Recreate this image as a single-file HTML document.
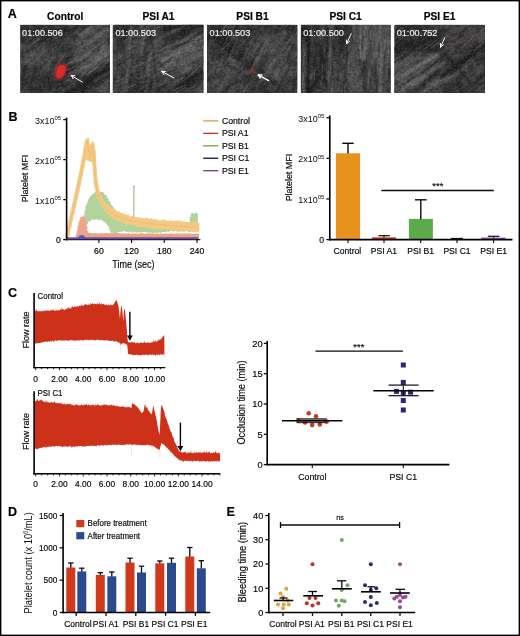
<!DOCTYPE html>
<html lang="en"><head><meta charset="utf-8"><title>Figure</title>
<style>
html,body{margin:0;padding:0;background:#fff;overflow:hidden}
svg{display:block}
#fig{width:520px;height:636px;overflow:hidden}
text{font-family:"Liberation Sans",sans-serif}
</style></head><body>
<div id="fig">
<svg width="520" height="636" viewBox="0 0 520 636">
<rect x="0" y="0" width="520" height="636" fill="#fff"/>
<text transform="translate(7.80,18.30)" font-size="12.5" text-anchor="start" font-weight="bold" fill="#000" stroke="#000" stroke-width="0.18" >A</text>
<defs>
<filter id="nzf" x="0" y="0" width="100%" height="100%" color-interpolation-filters="sRGB">
<feTurbulence type="fractalNoise" baseFrequency="0.5" numOctaves="2" seed="5"/>
<feColorMatrix type="matrix" values="0 0 0 0 0  0 0 0 0 0  0 0 0 0 0  1.8 0 0 0 -0.62"/>
<feComposite in="SourceGraphic" operator="in"/>
</filter>
<filter id="nzd" x="0" y="0" width="100%" height="100%" color-interpolation-filters="sRGB">
<feTurbulence type="fractalNoise" baseFrequency="0.42" numOctaves="2" seed="17"/>
<feColorMatrix type="matrix" values="0 0 0 0 0  0 0 0 0 0  0 0 0 0 0  1.8 0 0 0 -0.62"/>
<feComposite in="SourceGraphic" operator="in"/>
</filter>
<filter id="b05" x="-10%" y="-10%" width="120%" height="120%"><feGaussianBlur stdDeviation="1.0"/></filter>
<filter id="nzm" x="0" y="0" width="100%" height="100%" color-interpolation-filters="sRGB">
<feTurbulence type="fractalNoise" baseFrequency="0.17" numOctaves="3" seed="23"/>
<feColorMatrix type="matrix" values="0 0 0 0 0  0 0 0 0 0  0 0 0 0 0  2.6 0 0 0 -1.0"/>
<feComposite in="SourceGraphic" operator="in"/>
</filter>
<filter id="nzn" x="0" y="0" width="100%" height="100%" color-interpolation-filters="sRGB">
<feTurbulence type="fractalNoise" baseFrequency="0.15" numOctaves="3" seed="41"/>
<feColorMatrix type="matrix" values="0 0 0 0 0  0 0 0 0 0  0 0 0 0 0  2.6 0 0 0 -1.0"/>
<feComposite in="SourceGraphic" operator="in"/>
</filter>
<filter id="b03" x="-20%" y="-20%" width="140%" height="140%"><feGaussianBlur stdDeviation="0.5"/></filter>
<filter id="bl" x="-30%" y="-30%" width="160%" height="160%"><feGaussianBlur stdDeviation="1.0"/></filter>
<filter id="bl2" x="-20%" y="-20%" width="140%" height="140%"><feGaussianBlur stdDeviation="2.6"/></filter>
</defs>
<text transform="translate(65.20,19.60)" font-size="10.2" text-anchor="middle" font-weight="bold" fill="#000" stroke="#000" stroke-width="0.18" >Control</text>
<clipPath id="cl0"><rect x="20.2" y="24.8" width="89.80" height="68.20"/></clipPath>
<g clip-path="url(#cl0)">
<rect x="20.20" y="24.80" width="89.80" height="68.20" fill="#3a3a3a" />
<g filter="url(#bl2)"><polygon points="75.9,33.0 110.0,24.8 110.0,62.3 84.9,78.0 74.1,62.3" fill="#585858" /><polygon points="20.2,50.7 51.6,43.9 56.1,58.9 20.2,67.1" fill="#4a4a4a" /><polygon points="20.2,24.8 74.1,24.8 69.6,37.1 20.2,41.9" fill="#2c2c2c" /><polygon points="66.9,93.0 110.0,67.1 110.0,75.3 83.1,93.0" fill="#1e1e1e" /><polygon points="92.0,93.0 110.0,79.4 110.0,93.0" fill="#555" /><polygon points="20.2,78.0 65.1,79.4 65.1,93.0 20.2,93.0" fill="#303030" /><polygon points="52.5,58.9 72.3,58.9 72.3,82.8 52.5,82.8" fill="#2e2e2e" /></g>
<rect x="20.20" y="24.80" width="89.80" height="68.20" fill="#8a8a8a" filter="url(#nzm)" opacity="0.20"/>
<rect x="20.20" y="24.80" width="89.80" height="68.20" fill="#000" filter="url(#nzn)" opacity="0.28"/>
<g filter="url(#b05)"><line x1="85.0" y1="73.2" x2="110.2" y2="59.1" stroke="#6a6a6a" stroke-width="2.3" opacity="0.68" stroke-linecap="round"/><line x1="99.7" y1="45.5" x2="109.2" y2="36.4" stroke="#868686" stroke-width="0.9" opacity="0.55" stroke-linecap="round"/><line x1="89.4" y1="34.0" x2="101.3" y2="23.8" stroke="#787878" stroke-width="1.8" opacity="0.65" stroke-linecap="round"/><line x1="67.7" y1="63.5" x2="77.9" y2="56.1" stroke="#787878" stroke-width="1.4" opacity="0.65" stroke-linecap="round"/><line x1="106.6" y1="42.1" x2="118.8" y2="31.3" stroke="#787878" stroke-width="1.4" opacity="0.39" stroke-linecap="round"/><line x1="105.1" y1="42.1" x2="121.0" y2="34.5" stroke="#787878" stroke-width="0.7" opacity="0.72" stroke-linecap="round"/><line x1="71.9" y1="50.4" x2="91.0" y2="40.0" stroke="#5c5c5c" stroke-width="2.0" opacity="0.34" stroke-linecap="round"/><line x1="79.7" y1="47.4" x2="91.4" y2="40.3" stroke="#6a6a6a" stroke-width="1.0" opacity="0.42" stroke-linecap="round"/><line x1="104.6" y1="82.3" x2="118.9" y2="71.2" stroke="#5c5c5c" stroke-width="1.4" opacity="0.48" stroke-linecap="round"/><line x1="97.7" y1="57.1" x2="117.0" y2="45.6" stroke="#787878" stroke-width="1.4" opacity="0.72" stroke-linecap="round"/><line x1="103.8" y1="52.1" x2="120.0" y2="39.5" stroke="#5c5c5c" stroke-width="1.2" opacity="0.69" stroke-linecap="round"/><line x1="65.1" y1="82.3" x2="77.4" y2="70.8" stroke="#5c5c5c" stroke-width="1.1" opacity="0.43" stroke-linecap="round"/><line x1="94.2" y1="37.1" x2="108.0" y2="28.7" stroke="#787878" stroke-width="2.4" opacity="0.63" stroke-linecap="round"/><line x1="78.5" y1="55.9" x2="88.5" y2="50.0" stroke="#6a6a6a" stroke-width="1.4" opacity="0.42" stroke-linecap="round"/><line x1="88.8" y1="75.9" x2="103.7" y2="65.1" stroke="#6a6a6a" stroke-width="1.1" opacity="0.66" stroke-linecap="round"/><line x1="75.0" y1="43.4" x2="94.2" y2="34.2" stroke="#6a6a6a" stroke-width="0.9" opacity="0.39" stroke-linecap="round"/><line x1="81.2" y1="35.0" x2="91.5" y2="27.4" stroke="#787878" stroke-width="2.6" opacity="0.74" stroke-linecap="round"/><line x1="81.5" y1="58.1" x2="98.4" y2="48.2" stroke="#787878" stroke-width="1.1" opacity="0.36" stroke-linecap="round"/><line x1="95.7" y1="64.9" x2="117.3" y2="45.9" stroke="#6a6a6a" stroke-width="1.3" opacity="0.53" stroke-linecap="round"/><line x1="88.1" y1="59.5" x2="97.3" y2="53.0" stroke="#6a6a6a" stroke-width="1.7" opacity="0.64" stroke-linecap="round"/><line x1="78.3" y1="70.5" x2="93.5" y2="58.0" stroke="#5c5c5c" stroke-width="2.3" opacity="0.73" stroke-linecap="round"/><line x1="76.3" y1="41.9" x2="93.5" y2="32.8" stroke="#5c5c5c" stroke-width="1.6" opacity="0.52" stroke-linecap="round"/><line x1="98.8" y1="65.4" x2="113.7" y2="57.2" stroke="#868686" stroke-width="2.1" opacity="0.47" stroke-linecap="round"/><line x1="94.8" y1="80.4" x2="120.1" y2="65.1" stroke="#787878" stroke-width="2.6" opacity="0.54" stroke-linecap="round"/><line x1="68.3" y1="75.3" x2="85.8" y2="66.7" stroke="#868686" stroke-width="2.2" opacity="0.39" stroke-linecap="round"/><line x1="96.8" y1="62.8" x2="112.5" y2="53.1" stroke="#5c5c5c" stroke-width="2.1" opacity="0.63" stroke-linecap="round"/><line x1="61.5" y1="43.2" x2="80.1" y2="29.6" stroke="#787878" stroke-width="1.4" opacity="0.59" stroke-linecap="round"/><line x1="67.3" y1="55.9" x2="75.7" y2="48.7" stroke="#787878" stroke-width="0.9" opacity="0.52" stroke-linecap="round"/><line x1="85.0" y1="56.6" x2="103.4" y2="42.3" stroke="#787878" stroke-width="0.6" opacity="0.63" stroke-linecap="round"/><line x1="74.2" y1="52.1" x2="98.6" y2="40.2" stroke="#5c5c5c" stroke-width="2.5" opacity="0.73" stroke-linecap="round"/><line x1="86.4" y1="50.0" x2="102.1" y2="37.2" stroke="#5c5c5c" stroke-width="1.9" opacity="0.67" stroke-linecap="round"/><line x1="81.0" y1="74.4" x2="95.8" y2="65.2" stroke="#868686" stroke-width="1.3" opacity="0.56" stroke-linecap="round"/><line x1="105.4" y1="82.3" x2="119.7" y2="73.1" stroke="#868686" stroke-width="1.3" opacity="0.36" stroke-linecap="round"/><line x1="86.6" y1="67.3" x2="103.4" y2="52.1" stroke="#868686" stroke-width="1.8" opacity="0.50" stroke-linecap="round"/><line x1="71.8" y1="46.9" x2="87.7" y2="39.3" stroke="#5c5c5c" stroke-width="1.4" opacity="0.64" stroke-linecap="round"/><line x1="72.8" y1="51.2" x2="93.4" y2="30.9" stroke="#787878" stroke-width="1.1" opacity="0.52" stroke-linecap="round"/><line x1="68.7" y1="64.7" x2="81.5" y2="55.3" stroke="#6a6a6a" stroke-width="1.7" opacity="0.52" stroke-linecap="round"/><line x1="90.4" y1="43.8" x2="99.1" y2="37.5" stroke="#5c5c5c" stroke-width="1.0" opacity="0.44" stroke-linecap="round"/><line x1="87.5" y1="58.4" x2="106.2" y2="46.6" stroke="#6a6a6a" stroke-width="1.2" opacity="0.65" stroke-linecap="round"/><line x1="76.8" y1="60.4" x2="89.3" y2="50.6" stroke="#5c5c5c" stroke-width="1.4" opacity="0.47" stroke-linecap="round"/><line x1="97.7" y1="63.7" x2="108.4" y2="53.2" stroke="#787878" stroke-width="1.0" opacity="0.32" stroke-linecap="round"/><line x1="94.5" y1="56.8" x2="114.6" y2="43.4" stroke="#868686" stroke-width="1.5" opacity="0.52" stroke-linecap="round"/><line x1="91.6" y1="74.3" x2="108.8" y2="65.5" stroke="#1c1c1c" stroke-width="1.4" opacity="0.64" stroke-linecap="round"/><line x1="76.7" y1="51.7" x2="101.3" y2="37.9" stroke="#2a2a2a" stroke-width="0.9" opacity="0.74" stroke-linecap="round"/><line x1="89.2" y1="56.0" x2="98.3" y2="49.8" stroke="#1c1c1c" stroke-width="1.4" opacity="0.67" stroke-linecap="round"/><line x1="86.7" y1="37.2" x2="112.1" y2="22.2" stroke="#2a2a2a" stroke-width="2.4" opacity="0.39" stroke-linecap="round"/><line x1="95.1" y1="48.6" x2="119.7" y2="33.2" stroke="#161616" stroke-width="1.1" opacity="0.64" stroke-linecap="round"/><line x1="79.5" y1="47.4" x2="99.0" y2="30.2" stroke="#1c1c1c" stroke-width="0.6" opacity="0.58" stroke-linecap="round"/><line x1="91.0" y1="78.2" x2="107.5" y2="64.6" stroke="#242424" stroke-width="0.8" opacity="0.38" stroke-linecap="round"/><line x1="66.7" y1="72.9" x2="80.7" y2="63.0" stroke="#242424" stroke-width="1.0" opacity="0.64" stroke-linecap="round"/><line x1="64.8" y1="72.9" x2="87.9" y2="56.7" stroke="#242424" stroke-width="1.8" opacity="0.47" stroke-linecap="round"/><line x1="85.6" y1="48.0" x2="103.2" y2="37.9" stroke="#161616" stroke-width="0.6" opacity="0.55" stroke-linecap="round"/><line x1="81.1" y1="41.7" x2="93.0" y2="29.9" stroke="#1c1c1c" stroke-width="1.0" opacity="0.70" stroke-linecap="round"/><line x1="84.7" y1="60.3" x2="100.0" y2="48.7" stroke="#1c1c1c" stroke-width="1.2" opacity="0.58" stroke-linecap="round"/><line x1="78.5" y1="81.5" x2="95.2" y2="73.3" stroke="#1c1c1c" stroke-width="2.1" opacity="0.41" stroke-linecap="round"/><line x1="101.4" y1="64.5" x2="119.6" y2="48.9" stroke="#161616" stroke-width="0.8" opacity="0.50" stroke-linecap="round"/><line x1="92.1" y1="52.3" x2="102.2" y2="44.6" stroke="#161616" stroke-width="2.2" opacity="0.68" stroke-linecap="round"/><line x1="80.1" y1="83.8" x2="98.0" y2="71.4" stroke="#242424" stroke-width="1.8" opacity="0.52" stroke-linecap="round"/><line x1="69.9" y1="33.7" x2="78.0" y2="26.6" stroke="#161616" stroke-width="1.6" opacity="0.38" stroke-linecap="round"/><line x1="82.9" y1="84.8" x2="98.5" y2="74.8" stroke="#242424" stroke-width="0.9" opacity="0.43" stroke-linecap="round"/><line x1="65.7" y1="58.3" x2="87.7" y2="41.6" stroke="#1c1c1c" stroke-width="0.9" opacity="0.48" stroke-linecap="round"/><line x1="69.4" y1="51.2" x2="84.3" y2="38.5" stroke="#161616" stroke-width="0.8" opacity="0.73" stroke-linecap="round"/><line x1="88.7" y1="75.7" x2="112.2" y2="58.9" stroke="#161616" stroke-width="1.2" opacity="0.48" stroke-linecap="round"/><line x1="94.6" y1="75.2" x2="105.1" y2="65.8" stroke="#1c1c1c" stroke-width="0.6" opacity="0.61" stroke-linecap="round"/><line x1="104.7" y1="72.7" x2="116.4" y2="65.6" stroke="#2a2a2a" stroke-width="0.8" opacity="0.44" stroke-linecap="round"/><line x1="70.1" y1="72.2" x2="90.7" y2="62.1" stroke="#1c1c1c" stroke-width="1.1" opacity="0.55" stroke-linecap="round"/><line x1="85.9" y1="71.2" x2="93.9" y2="64.2" stroke="#161616" stroke-width="2.2" opacity="0.73" stroke-linecap="round"/><line x1="96.6" y1="44.8" x2="106.9" y2="39.1" stroke="#242424" stroke-width="1.7" opacity="0.62" stroke-linecap="round"/><line x1="82.3" y1="82.8" x2="101.5" y2="64.2" stroke="#1c1c1c" stroke-width="1.6" opacity="0.70" stroke-linecap="round"/><line x1="102.5" y1="45.4" x2="122.0" y2="33.6" stroke="#1c1c1c" stroke-width="0.7" opacity="0.72" stroke-linecap="round"/><line x1="99.1" y1="36.1" x2="111.1" y2="30.4" stroke="#242424" stroke-width="1.1" opacity="0.61" stroke-linecap="round"/><line x1="79.2" y1="56.5" x2="99.6" y2="41.4" stroke="#1c1c1c" stroke-width="0.9" opacity="0.72" stroke-linecap="round"/><line x1="29.6" y1="58.5" x2="35.6" y2="52.8" stroke="#868686" stroke-width="0.8" opacity="0.28" stroke-linecap="round"/><line x1="49.3" y1="69.9" x2="53.6" y2="64.1" stroke="#6a6a6a" stroke-width="0.6" opacity="0.55" stroke-linecap="round"/><line x1="56.1" y1="66.7" x2="62.5" y2="57.9" stroke="#787878" stroke-width="1.3" opacity="0.55" stroke-linecap="round"/><line x1="52.3" y1="74.9" x2="59.4" y2="63.2" stroke="#6a6a6a" stroke-width="1.4" opacity="0.59" stroke-linecap="round"/><line x1="43.2" y1="69.1" x2="50.1" y2="61.3" stroke="#6a6a6a" stroke-width="1.9" opacity="0.52" stroke-linecap="round"/><line x1="45.0" y1="53.5" x2="52.1" y2="46.7" stroke="#5c5c5c" stroke-width="0.6" opacity="0.31" stroke-linecap="round"/><line x1="28.9" y1="65.3" x2="32.7" y2="59.9" stroke="#6a6a6a" stroke-width="1.8" opacity="0.26" stroke-linecap="round"/><line x1="17.8" y1="51.7" x2="26.7" y2="40.0" stroke="#6a6a6a" stroke-width="2.0" opacity="0.34" stroke-linecap="round"/><line x1="35.7" y1="55.4" x2="39.4" y2="50.5" stroke="#6a6a6a" stroke-width="0.9" opacity="0.35" stroke-linecap="round"/><line x1="41.0" y1="66.9" x2="48.4" y2="55.5" stroke="#6a6a6a" stroke-width="1.0" opacity="0.38" stroke-linecap="round"/><line x1="35.6" y1="51.7" x2="40.8" y2="46.0" stroke="#787878" stroke-width="1.1" opacity="0.45" stroke-linecap="round"/><line x1="55.6" y1="66.1" x2="63.1" y2="54.1" stroke="#787878" stroke-width="0.8" opacity="0.62" stroke-linecap="round"/><line x1="16.8" y1="65.3" x2="26.3" y2="53.9" stroke="#787878" stroke-width="0.8" opacity="0.35" stroke-linecap="round"/><line x1="24.3" y1="64.5" x2="32.4" y2="53.7" stroke="#787878" stroke-width="0.9" opacity="0.56" stroke-linecap="round"/><line x1="44.2" y1="74.4" x2="49.8" y2="65.1" stroke="#787878" stroke-width="0.7" opacity="0.43" stroke-linecap="round"/><line x1="18.2" y1="52.6" x2="25.2" y2="41.5" stroke="#5c5c5c" stroke-width="1.0" opacity="0.43" stroke-linecap="round"/><line x1="37.1" y1="61.6" x2="41.3" y2="54.8" stroke="#787878" stroke-width="0.9" opacity="0.55" stroke-linecap="round"/><line x1="17.4" y1="66.8" x2="24.8" y2="58.5" stroke="#868686" stroke-width="1.5" opacity="0.42" stroke-linecap="round"/><line x1="47.7" y1="63.5" x2="56.4" y2="55.8" stroke="#868686" stroke-width="0.6" opacity="0.39" stroke-linecap="round"/><line x1="41.3" y1="66.1" x2="47.1" y2="59.3" stroke="#5c5c5c" stroke-width="0.6" opacity="0.48" stroke-linecap="round"/><line x1="50.2" y1="76.9" x2="59.9" y2="64.6" stroke="#787878" stroke-width="1.0" opacity="0.28" stroke-linecap="round"/><line x1="45.0" y1="67.3" x2="56.3" y2="57.5" stroke="#787878" stroke-width="1.7" opacity="0.43" stroke-linecap="round"/><line x1="19.8" y1="51.1" x2="28.1" y2="40.0" stroke="#868686" stroke-width="0.8" opacity="0.39" stroke-linecap="round"/><line x1="47.0" y1="63.4" x2="54.1" y2="52.8" stroke="#6a6a6a" stroke-width="1.0" opacity="0.57" stroke-linecap="round"/><line x1="62.1" y1="72.9" x2="74.1" y2="70.6" stroke="#161616" stroke-width="0.8" opacity="0.55" stroke-linecap="round"/><line x1="58.6" y1="31.1" x2="67.7" y2="29.1" stroke="#242424" stroke-width="0.8" opacity="0.50" stroke-linecap="round"/><line x1="43.3" y1="71.6" x2="58.5" y2="63.5" stroke="#2a2a2a" stroke-width="0.8" opacity="0.43" stroke-linecap="round"/><line x1="48.7" y1="44.4" x2="56.0" y2="38.5" stroke="#242424" stroke-width="1.6" opacity="0.41" stroke-linecap="round"/><line x1="20.8" y1="49.7" x2="35.7" y2="40.3" stroke="#1c1c1c" stroke-width="1.1" opacity="0.49" stroke-linecap="round"/><line x1="53.0" y1="81.3" x2="61.8" y2="67.7" stroke="#161616" stroke-width="1.1" opacity="0.32" stroke-linecap="round"/><line x1="34.2" y1="54.0" x2="56.6" y2="48.0" stroke="#1c1c1c" stroke-width="1.3" opacity="0.25" stroke-linecap="round"/><line x1="51.2" y1="37.3" x2="61.6" y2="27.5" stroke="#2a2a2a" stroke-width="2.1" opacity="0.53" stroke-linecap="round"/><line x1="53.4" y1="84.5" x2="75.0" y2="74.7" stroke="#1c1c1c" stroke-width="2.3" opacity="0.39" stroke-linecap="round"/><line x1="60.1" y1="41.9" x2="68.0" y2="34.3" stroke="#1c1c1c" stroke-width="2.2" opacity="0.34" stroke-linecap="round"/><line x1="64.7" y1="67.2" x2="77.1" y2="45.9" stroke="#1c1c1c" stroke-width="1.2" opacity="0.44" stroke-linecap="round"/><line x1="66.3" y1="98.0" x2="77.9" y2="80.5" stroke="#1c1c1c" stroke-width="1.4" opacity="0.29" stroke-linecap="round"/><line x1="35.2" y1="53.6" x2="56.9" y2="44.3" stroke="#2a2a2a" stroke-width="1.1" opacity="0.49" stroke-linecap="round"/><line x1="57.1" y1="36.9" x2="65.8" y2="24.8" stroke="#2a2a2a" stroke-width="1.2" opacity="0.27" stroke-linecap="round"/><line x1="38.7" y1="43.1" x2="47.0" y2="38.9" stroke="#2a2a2a" stroke-width="0.7" opacity="0.41" stroke-linecap="round"/><line x1="24.1" y1="84.2" x2="35.7" y2="80.5" stroke="#1c1c1c" stroke-width="0.9" opacity="0.25" stroke-linecap="round"/><line x1="58.3" y1="54.7" x2="64.6" y2="44.2" stroke="#1c1c1c" stroke-width="1.2" opacity="0.27" stroke-linecap="round"/><line x1="25.7" y1="96.2" x2="38.3" y2="86.3" stroke="#2a2a2a" stroke-width="0.8" opacity="0.44" stroke-linecap="round"/><line x1="15.9" y1="54.4" x2="30.2" y2="48.8" stroke="#1c1c1c" stroke-width="1.8" opacity="0.33" stroke-linecap="round"/><line x1="32.5" y1="77.8" x2="53.3" y2="70.5" stroke="#1c1c1c" stroke-width="1.1" opacity="0.62" stroke-linecap="round"/><line x1="54.5" y1="94.1" x2="67.4" y2="77.2" stroke="#161616" stroke-width="0.8" opacity="0.33" stroke-linecap="round"/><line x1="37.7" y1="47.1" x2="48.1" y2="39.4" stroke="#242424" stroke-width="1.0" opacity="0.53" stroke-linecap="round"/><line x1="20.4" y1="78.0" x2="28.3" y2="65.3" stroke="#1c1c1c" stroke-width="1.2" opacity="0.53" stroke-linecap="round"/><line x1="40.4" y1="51.3" x2="53.2" y2="41.7" stroke="#1c1c1c" stroke-width="0.8" opacity="0.26" stroke-linecap="round"/><line x1="84.8" y1="26.0" x2="101.5" y2="35.3" stroke="#787878" stroke-width="0.6" opacity="0.26" stroke-linecap="round"/><line x1="95.9" y1="81.4" x2="105.5" y2="89.9" stroke="#5c5c5c" stroke-width="0.7" opacity="0.26" stroke-linecap="round"/><line x1="92.7" y1="55.1" x2="110.5" y2="69.2" stroke="#5c5c5c" stroke-width="0.9" opacity="0.19" stroke-linecap="round"/><line x1="13.2" y1="45.9" x2="29.5" y2="56.2" stroke="#787878" stroke-width="0.5" opacity="0.29" stroke-linecap="round"/><line x1="62.5" y1="63.1" x2="68.4" y2="69.8" stroke="#868686" stroke-width="0.7" opacity="0.41" stroke-linecap="round"/><line x1="86.1" y1="59.8" x2="93.8" y2="65.9" stroke="#5c5c5c" stroke-width="0.7" opacity="0.37" stroke-linecap="round"/><line x1="100.6" y1="84.2" x2="108.2" y2="94.9" stroke="#6a6a6a" stroke-width="1.0" opacity="0.35" stroke-linecap="round"/><line x1="21.7" y1="35.9" x2="28.7" y2="42.6" stroke="#5c5c5c" stroke-width="1.3" opacity="0.39" stroke-linecap="round"/><line x1="25.8" y1="43.1" x2="39.4" y2="54.4" stroke="#6a6a6a" stroke-width="0.7" opacity="0.20" stroke-linecap="round"/><line x1="17.4" y1="42.1" x2="38.8" y2="54.1" stroke="#868686" stroke-width="0.8" opacity="0.38" stroke-linecap="round"/><line x1="80.8" y1="35.6" x2="92.8" y2="49.8" stroke="#787878" stroke-width="1.2" opacity="0.36" stroke-linecap="round"/><line x1="66.6" y1="75.7" x2="80.1" y2="93.3" stroke="#6a6a6a" stroke-width="1.4" opacity="0.41" stroke-linecap="round"/><line x1="44.4" y1="27.0" x2="59.8" y2="39.4" stroke="#6a6a6a" stroke-width="1.4" opacity="0.19" stroke-linecap="round"/><line x1="51.3" y1="47.9" x2="63.0" y2="58.0" stroke="#6a6a6a" stroke-width="1.3" opacity="0.36" stroke-linecap="round"/><line x1="75.7" y1="60.7" x2="93.8" y2="69.6" stroke="#6a6a6a" stroke-width="1.1" opacity="0.43" stroke-linecap="round"/><line x1="66.00" y1="94.00" x2="111.00" y2="68.50" stroke="#151515" stroke-width="3.2" stroke-linecap="butt"/><line x1="80.00" y1="60.00" x2="108.00" y2="40.00" stroke="#7a7a7a" stroke-width="1.6" stroke-linecap="butt"/><line x1="76.00" y1="52.00" x2="106.00" y2="30.00" stroke="#6e6e6e" stroke-width="1.2" stroke-linecap="butt"/><line x1="84.00" y1="70.00" x2="110.00" y2="52.00" stroke="#747474" stroke-width="1.4" stroke-linecap="butt"/><line x1="24.00" y1="62.00" x2="40.00" y2="48.00" stroke="#686868" stroke-width="1.2" stroke-linecap="butt"/><line x1="30.00" y1="66.00" x2="46.00" y2="50.00" stroke="#646464" stroke-width="1.2" stroke-linecap="butt"/></g>
<g filter="url(#b03)"><line x1="76.9" y1="46.7" x2="85.6" y2="40.1" stroke="#7c7c7c" stroke-width="0.8" opacity="0.47" stroke-linecap="round"/><line x1="44.2" y1="73.1" x2="54.1" y2="66.2" stroke="#8a8a8a" stroke-width="0.8" opacity="0.49" stroke-linecap="round"/><line x1="35.8" y1="33.1" x2="41.5" y2="28.6" stroke="#6e6e6e" stroke-width="1.1" opacity="0.41" stroke-linecap="round"/><line x1="29.0" y1="39.2" x2="42.8" y2="29.4" stroke="#8a8a8a" stroke-width="1.1" opacity="0.48" stroke-linecap="round"/><line x1="27.3" y1="47.3" x2="39.2" y2="38.9" stroke="#7c7c7c" stroke-width="1.3" opacity="0.42" stroke-linecap="round"/><line x1="53.1" y1="80.7" x2="62.6" y2="75.9" stroke="#8a8a8a" stroke-width="0.6" opacity="0.34" stroke-linecap="round"/><line x1="93.2" y1="47.1" x2="107.0" y2="38.6" stroke="#6e6e6e" stroke-width="0.7" opacity="0.44" stroke-linecap="round"/><line x1="42.1" y1="37.0" x2="58.7" y2="26.7" stroke="#6e6e6e" stroke-width="0.6" opacity="0.35" stroke-linecap="round"/><line x1="72.6" y1="78.3" x2="82.1" y2="70.1" stroke="#8a8a8a" stroke-width="0.5" opacity="0.27" stroke-linecap="round"/><line x1="81.4" y1="54.3" x2="87.7" y2="51.3" stroke="#7c7c7c" stroke-width="0.5" opacity="0.49" stroke-linecap="round"/><line x1="88.0" y1="88.1" x2="94.3" y2="83.7" stroke="#8a8a8a" stroke-width="0.6" opacity="0.26" stroke-linecap="round"/><line x1="65.9" y1="49.5" x2="76.0" y2="39.6" stroke="#8a8a8a" stroke-width="0.7" opacity="0.35" stroke-linecap="round"/><line x1="32.3" y1="43.6" x2="38.7" y2="39.6" stroke="#6e6e6e" stroke-width="1.2" opacity="0.35" stroke-linecap="round"/><line x1="22.8" y1="51.3" x2="38.2" y2="40.1" stroke="#7c7c7c" stroke-width="0.9" opacity="0.35" stroke-linecap="round"/><line x1="69.8" y1="93.5" x2="84.5" y2="81.5" stroke="#8a8a8a" stroke-width="0.6" opacity="0.26" stroke-linecap="round"/><line x1="96.2" y1="62.7" x2="112.8" y2="50.4" stroke="#8a8a8a" stroke-width="1.1" opacity="0.32" stroke-linecap="round"/><line x1="79.7" y1="47.6" x2="94.4" y2="37.0" stroke="#6e6e6e" stroke-width="0.6" opacity="0.30" stroke-linecap="round"/><line x1="74.8" y1="82.2" x2="90.4" y2="66.8" stroke="#6e6e6e" stroke-width="0.5" opacity="0.27" stroke-linecap="round"/><line x1="56.4" y1="69.0" x2="64.1" y2="65.1" stroke="#8a8a8a" stroke-width="0.6" opacity="0.40" stroke-linecap="round"/><line x1="36.7" y1="55.4" x2="48.9" y2="42.8" stroke="#8a8a8a" stroke-width="0.5" opacity="0.39" stroke-linecap="round"/><line x1="57.0" y1="85.4" x2="69.9" y2="79.1" stroke="#8a8a8a" stroke-width="1.2" opacity="0.26" stroke-linecap="round"/><line x1="41.5" y1="64.4" x2="50.7" y2="56.7" stroke="#6e6e6e" stroke-width="0.9" opacity="0.30" stroke-linecap="round"/><line x1="102.2" y1="29.5" x2="109.1" y2="24.6" stroke="#6e6e6e" stroke-width="0.9" opacity="0.32" stroke-linecap="round"/><line x1="85.6" y1="71.2" x2="102.3" y2="59.1" stroke="#6e6e6e" stroke-width="0.8" opacity="0.42" stroke-linecap="round"/><line x1="84.2" y1="30.3" x2="97.9" y2="21.3" stroke="#8a8a8a" stroke-width="0.8" opacity="0.46" stroke-linecap="round"/><line x1="20.9" y1="63.6" x2="27.3" y2="59.0" stroke="#6e6e6e" stroke-width="0.5" opacity="0.31" stroke-linecap="round"/><line x1="88.2" y1="74.2" x2="101.1" y2="64.2" stroke="#7c7c7c" stroke-width="0.7" opacity="0.30" stroke-linecap="round"/><line x1="35.9" y1="31.9" x2="46.8" y2="26.9" stroke="#6e6e6e" stroke-width="0.6" opacity="0.27" stroke-linecap="round"/><line x1="62.1" y1="66.7" x2="78.5" y2="58.1" stroke="#6e6e6e" stroke-width="0.9" opacity="0.46" stroke-linecap="round"/><line x1="27.2" y1="35.3" x2="39.7" y2="22.0" stroke="#8a8a8a" stroke-width="0.6" opacity="0.47" stroke-linecap="round"/><line x1="55.9" y1="51.0" x2="68.8" y2="38.0" stroke="#6e6e6e" stroke-width="1.2" opacity="0.37" stroke-linecap="round"/><line x1="66.9" y1="70.2" x2="84.6" y2="61.8" stroke="#8a8a8a" stroke-width="1.0" opacity="0.50" stroke-linecap="round"/><line x1="35.3" y1="31.7" x2="41.2" y2="26.9" stroke="#7c7c7c" stroke-width="0.5" opacity="0.31" stroke-linecap="round"/><line x1="13.7" y1="59.7" x2="27.3" y2="48.4" stroke="#7c7c7c" stroke-width="0.6" opacity="0.47" stroke-linecap="round"/><line x1="76.8" y1="43.6" x2="87.3" y2="35.6" stroke="#8a8a8a" stroke-width="0.6" opacity="0.36" stroke-linecap="round"/><line x1="81.6" y1="75.8" x2="96.7" y2="68.3" stroke="#8a8a8a" stroke-width="0.7" opacity="0.45" stroke-linecap="round"/><line x1="49.0" y1="75.0" x2="66.2" y2="64.6" stroke="#6e6e6e" stroke-width="0.9" opacity="0.30" stroke-linecap="round"/><line x1="41.7" y1="46.5" x2="57.5" y2="37.2" stroke="#7c7c7c" stroke-width="0.9" opacity="0.34" stroke-linecap="round"/><line x1="25.4" y1="68.7" x2="32.0" y2="63.5" stroke="#6e6e6e" stroke-width="0.5" opacity="0.29" stroke-linecap="round"/><line x1="53.3" y1="37.4" x2="63.5" y2="26.6" stroke="#6e6e6e" stroke-width="0.9" opacity="0.48" stroke-linecap="round"/><line x1="25.0" y1="37.6" x2="29.7" y2="32.5" stroke="#8a8a8a" stroke-width="0.8" opacity="0.45" stroke-linecap="round"/><line x1="54.6" y1="91.4" x2="66.9" y2="83.5" stroke="#6e6e6e" stroke-width="0.7" opacity="0.36" stroke-linecap="round"/><line x1="86.8" y1="46.6" x2="101.4" y2="34.3" stroke="#8a8a8a" stroke-width="0.9" opacity="0.30" stroke-linecap="round"/><line x1="73.7" y1="71.6" x2="86.2" y2="59.1" stroke="#8a8a8a" stroke-width="0.7" opacity="0.46" stroke-linecap="round"/><line x1="86.7" y1="47.9" x2="93.6" y2="43.9" stroke="#6e6e6e" stroke-width="0.6" opacity="0.47" stroke-linecap="round"/><line x1="73.2" y1="36.4" x2="89.6" y2="24.8" stroke="#141414" stroke-width="0.7" opacity="0.42" stroke-linecap="round"/><line x1="69.0" y1="66.7" x2="82.1" y2="61.0" stroke="#1e1e1e" stroke-width="0.7" opacity="0.33" stroke-linecap="round"/><line x1="48.2" y1="58.5" x2="59.9" y2="47.5" stroke="#141414" stroke-width="0.8" opacity="0.40" stroke-linecap="round"/><line x1="23.3" y1="50.1" x2="35.7" y2="43.8" stroke="#141414" stroke-width="0.6" opacity="0.46" stroke-linecap="round"/><line x1="91.9" y1="51.8" x2="108.3" y2="40.0" stroke="#141414" stroke-width="1.1" opacity="0.52" stroke-linecap="round"/><line x1="64.6" y1="59.7" x2="78.1" y2="51.5" stroke="#141414" stroke-width="0.7" opacity="0.35" stroke-linecap="round"/><line x1="55.1" y1="88.5" x2="64.2" y2="81.0" stroke="#141414" stroke-width="1.2" opacity="0.36" stroke-linecap="round"/><line x1="57.6" y1="77.6" x2="62.9" y2="72.1" stroke="#141414" stroke-width="0.7" opacity="0.54" stroke-linecap="round"/><line x1="42.8" y1="47.6" x2="50.6" y2="41.8" stroke="#141414" stroke-width="0.8" opacity="0.49" stroke-linecap="round"/><line x1="62.5" y1="96.2" x2="72.8" y2="89.4" stroke="#141414" stroke-width="0.8" opacity="0.36" stroke-linecap="round"/><line x1="59.5" y1="48.7" x2="66.1" y2="44.5" stroke="#1e1e1e" stroke-width="0.9" opacity="0.55" stroke-linecap="round"/><line x1="94.8" y1="56.3" x2="114.5" y2="46.5" stroke="#1e1e1e" stroke-width="0.9" opacity="0.40" stroke-linecap="round"/><line x1="30.7" y1="98.1" x2="42.3" y2="85.7" stroke="#141414" stroke-width="0.5" opacity="0.42" stroke-linecap="round"/><line x1="72.8" y1="57.9" x2="77.8" y2="53.7" stroke="#1e1e1e" stroke-width="1.3" opacity="0.37" stroke-linecap="round"/><line x1="56.7" y1="70.3" x2="73.4" y2="58.6" stroke="#141414" stroke-width="0.9" opacity="0.40" stroke-linecap="round"/><line x1="72.1" y1="37.3" x2="78.2" y2="34.5" stroke="#1e1e1e" stroke-width="0.8" opacity="0.44" stroke-linecap="round"/><line x1="15.7" y1="43.8" x2="32.8" y2="36.4" stroke="#141414" stroke-width="0.7" opacity="0.32" stroke-linecap="round"/><line x1="26.1" y1="40.1" x2="36.2" y2="35.7" stroke="#141414" stroke-width="0.5" opacity="0.51" stroke-linecap="round"/><line x1="95.3" y1="67.1" x2="105.9" y2="62.2" stroke="#141414" stroke-width="0.7" opacity="0.51" stroke-linecap="round"/><line x1="39.6" y1="58.5" x2="55.8" y2="44.4" stroke="#1e1e1e" stroke-width="0.9" opacity="0.52" stroke-linecap="round"/><line x1="87.7" y1="79.6" x2="105.6" y2="69.5" stroke="#141414" stroke-width="0.8" opacity="0.38" stroke-linecap="round"/><line x1="20.3" y1="44.9" x2="26.7" y2="40.2" stroke="#1e1e1e" stroke-width="0.5" opacity="0.40" stroke-linecap="round"/><line x1="98.2" y1="62.1" x2="114.1" y2="54.0" stroke="#1e1e1e" stroke-width="0.8" opacity="0.40" stroke-linecap="round"/><line x1="37.4" y1="43.0" x2="51.1" y2="36.0" stroke="#141414" stroke-width="1.1" opacity="0.46" stroke-linecap="round"/><line x1="34.9" y1="88.9" x2="41.1" y2="84.8" stroke="#141414" stroke-width="0.7" opacity="0.38" stroke-linecap="round"/><line x1="82.2" y1="40.5" x2="89.4" y2="37.2" stroke="#1e1e1e" stroke-width="1.2" opacity="0.37" stroke-linecap="round"/><line x1="53.8" y1="50.8" x2="65.5" y2="40.6" stroke="#141414" stroke-width="1.2" opacity="0.48" stroke-linecap="round"/><line x1="67.7" y1="68.0" x2="87.6" y2="59.0" stroke="#141414" stroke-width="0.5" opacity="0.46" stroke-linecap="round"/><line x1="73.9" y1="50.5" x2="84.2" y2="41.7" stroke="#1e1e1e" stroke-width="1.2" opacity="0.35" stroke-linecap="round"/><line x1="57.4" y1="65.6" x2="63.1" y2="60.4" stroke="#1e1e1e" stroke-width="0.7" opacity="0.36" stroke-linecap="round"/><line x1="64.7" y1="40.9" x2="73.8" y2="35.7" stroke="#141414" stroke-width="0.9" opacity="0.47" stroke-linecap="round"/><line x1="42.3" y1="37.6" x2="54.1" y2="27.3" stroke="#1e1e1e" stroke-width="0.9" opacity="0.51" stroke-linecap="round"/><line x1="20.5" y1="54.2" x2="32.0" y2="49.2" stroke="#141414" stroke-width="0.9" opacity="0.51" stroke-linecap="round"/><line x1="101.2" y1="71.7" x2="111.0" y2="61.5" stroke="#141414" stroke-width="0.8" opacity="0.40" stroke-linecap="round"/><line x1="66.6" y1="72.0" x2="84.5" y2="61.3" stroke="#141414" stroke-width="1.2" opacity="0.45" stroke-linecap="round"/><line x1="82.4" y1="76.8" x2="99.0" y2="62.8" stroke="#141414" stroke-width="0.8" opacity="0.50" stroke-linecap="round"/><line x1="56.2" y1="93.3" x2="68.3" y2="84.4" stroke="#141414" stroke-width="1.0" opacity="0.55" stroke-linecap="round"/><line x1="21.5" y1="81.6" x2="34.0" y2="74.0" stroke="#141414" stroke-width="1.3" opacity="0.32" stroke-linecap="round"/><line x1="80.1" y1="73.8" x2="85.7" y2="68.4" stroke="#1e1e1e" stroke-width="0.5" opacity="0.42" stroke-linecap="round"/><line x1="30.3" y1="39.7" x2="43.1" y2="26.2" stroke="#1e1e1e" stroke-width="1.1" opacity="0.49" stroke-linecap="round"/><line x1="100.6" y1="63.2" x2="114.1" y2="53.7" stroke="#1e1e1e" stroke-width="0.6" opacity="0.31" stroke-linecap="round"/><line x1="104.8" y1="41.5" x2="113.2" y2="35.9" stroke="#141414" stroke-width="0.7" opacity="0.42" stroke-linecap="round"/><line x1="21.8" y1="60.7" x2="30.6" y2="56.6" stroke="#1e1e1e" stroke-width="0.6" opacity="0.42" stroke-linecap="round"/><line x1="44.5" y1="82.3" x2="52.4" y2="75.3" stroke="#141414" stroke-width="0.7" opacity="0.56" stroke-linecap="round"/><line x1="24.1" y1="67.7" x2="35.0" y2="58.2" stroke="#141414" stroke-width="0.6" opacity="0.48" stroke-linecap="round"/></g>
<rect x="20.20" y="24.80" width="89.80" height="68.20" fill="#8c8c8c" filter="url(#nzf)" opacity="0.28"/>
<rect x="20.20" y="24.80" width="89.80" height="68.20" fill="#000" filter="url(#nzd)" opacity="0.30"/>
<g filter="url(#bl)">
<polygon points="56.6,66.8 59.5,64.2 64.5,63.6 67.0,66.5 66.3,71.5 64.5,76.0 61.0,79.6 56.8,79.6 54.4,76.0 55.4,71.0" fill="#b02626" />
</g>
<g filter="url(#b03)"><polygon points="57.6,67.6 60.0,65.6 64.0,65.2 65.6,67.6 65.0,71.2 63.6,75.0 60.5,78.0 57.4,78.0 56.0,75.5 56.8,71.5" fill="#d82d2c" /></g>
<line x1="82.30" y1="82.00" x2="71.30" y2="75.60" stroke="#fff" stroke-width="1.0" stroke-linecap="round"/><line x1="71.30" y1="75.60" x2="74.90" y2="75.70" stroke="#fff" stroke-width="1.0" stroke-linecap="round"/><line x1="71.30" y1="75.60" x2="73.16" y2="78.68" stroke="#fff" stroke-width="1.0" stroke-linecap="round"/>
</g>
<text transform="translate(22.10,35.90) scale(0.975,1)" font-size="9.4" text-anchor="start" font-weight="normal" fill="#f0f0f0" stroke="#f0f0f0" stroke-width="0.18" >01:00.506</text>
<text transform="translate(158.50,19.60)" font-size="10.2" text-anchor="middle" font-weight="bold" fill="#000" stroke="#000" stroke-width="0.18" >PSI A1</text>
<clipPath id="cl1"><rect x="112.7" y="24.8" width="90.90" height="68.20"/></clipPath>
<g clip-path="url(#cl1)">
<rect x="112.70" y="24.80" width="90.90" height="68.20" fill="#3e3e3e" />
<g filter="url(#bl2)"><polygon points="158.2,45.3 203.6,33.0 203.6,67.1 167.2,79.4 158.2,72.5" fill="#5a5a5a" /><polygon points="158.2,24.8 203.6,24.8 203.6,31.6 162.7,41.9" fill="#2a2a2a" /><polygon points="176.3,87.5 203.6,71.2 203.6,79.4 180.9,93.0" fill="#222" /><polygon points="112.7,41.9 153.6,41.9 153.6,76.0 112.7,76.0" fill="#474747" /><polygon points="112.7,24.8 158.2,24.8 158.2,38.4 112.7,38.4" fill="#2e2e2e" /><polygon points="112.7,79.4 167.2,82.8 167.2,93.0 112.7,93.0" fill="#2e2e2e" /><polygon points="185.4,93.0 203.6,82.8 203.6,93.0" fill="#4c4c4c" /></g>
<rect x="112.70" y="24.80" width="90.90" height="68.20" fill="#8a8a8a" filter="url(#nzm)" opacity="0.20"/>
<rect x="112.70" y="24.80" width="90.90" height="68.20" fill="#000" filter="url(#nzn)" opacity="0.28"/>
<g filter="url(#b05)"><line x1="151.2" y1="39.7" x2="152.8" y2="23.7" stroke="#5c5c5c" stroke-width="1.4" opacity="0.43" stroke-linecap="round"/><line x1="119.1" y1="65.4" x2="123.0" y2="43.0" stroke="#868686" stroke-width="1.2" opacity="0.59" stroke-linecap="round"/><line x1="148.3" y1="37.7" x2="150.8" y2="12.8" stroke="#787878" stroke-width="2.6" opacity="0.45" stroke-linecap="round"/><line x1="155.4" y1="95.9" x2="157.6" y2="71.8" stroke="#868686" stroke-width="1.4" opacity="0.49" stroke-linecap="round"/><line x1="145.5" y1="105.7" x2="147.0" y2="79.1" stroke="#6a6a6a" stroke-width="0.8" opacity="0.35" stroke-linecap="round"/><line x1="121.3" y1="105.9" x2="125.7" y2="79.6" stroke="#868686" stroke-width="2.2" opacity="0.51" stroke-linecap="round"/><line x1="129.1" y1="42.5" x2="129.7" y2="27.2" stroke="#868686" stroke-width="0.9" opacity="0.44" stroke-linecap="round"/><line x1="122.1" y1="55.0" x2="124.5" y2="37.3" stroke="#5c5c5c" stroke-width="1.7" opacity="0.34" stroke-linecap="round"/><line x1="115.0" y1="95.5" x2="118.1" y2="75.6" stroke="#868686" stroke-width="1.2" opacity="0.66" stroke-linecap="round"/><line x1="140.7" y1="45.8" x2="145.1" y2="10.7" stroke="#5c5c5c" stroke-width="1.1" opacity="0.40" stroke-linecap="round"/><line x1="114.7" y1="72.6" x2="116.5" y2="48.2" stroke="#868686" stroke-width="2.5" opacity="0.53" stroke-linecap="round"/><line x1="151.2" y1="66.2" x2="152.7" y2="44.1" stroke="#5c5c5c" stroke-width="0.9" opacity="0.34" stroke-linecap="round"/><line x1="132.1" y1="84.8" x2="135.3" y2="56.0" stroke="#6a6a6a" stroke-width="1.4" opacity="0.51" stroke-linecap="round"/><line x1="141.3" y1="63.3" x2="144.0" y2="36.9" stroke="#5c5c5c" stroke-width="1.6" opacity="0.61" stroke-linecap="round"/><line x1="149.6" y1="65.1" x2="153.1" y2="36.4" stroke="#787878" stroke-width="0.9" opacity="0.59" stroke-linecap="round"/><line x1="153.5" y1="34.1" x2="156.7" y2="19.8" stroke="#868686" stroke-width="1.4" opacity="0.59" stroke-linecap="round"/><line x1="138.4" y1="69.1" x2="142.9" y2="45.5" stroke="#868686" stroke-width="0.7" opacity="0.35" stroke-linecap="round"/><line x1="111.8" y1="100.3" x2="116.9" y2="79.1" stroke="#5c5c5c" stroke-width="1.2" opacity="0.50" stroke-linecap="round"/><line x1="118.9" y1="91.6" x2="122.0" y2="78.6" stroke="#6a6a6a" stroke-width="1.0" opacity="0.55" stroke-linecap="round"/><line x1="127.6" y1="59.5" x2="130.4" y2="30.7" stroke="#787878" stroke-width="1.3" opacity="0.49" stroke-linecap="round"/><line x1="151.9" y1="73.4" x2="159.5" y2="36.1" stroke="#6a6a6a" stroke-width="2.1" opacity="0.61" stroke-linecap="round"/><line x1="144.1" y1="46.1" x2="146.1" y2="29.9" stroke="#5c5c5c" stroke-width="1.1" opacity="0.57" stroke-linecap="round"/><line x1="144.7" y1="96.1" x2="150.7" y2="69.1" stroke="#6a6a6a" stroke-width="2.6" opacity="0.58" stroke-linecap="round"/><line x1="121.6" y1="106.3" x2="123.7" y2="78.2" stroke="#787878" stroke-width="1.5" opacity="0.54" stroke-linecap="round"/><line x1="142.9" y1="44.1" x2="147.1" y2="24.4" stroke="#868686" stroke-width="2.1" opacity="0.43" stroke-linecap="round"/><line x1="121.1" y1="62.1" x2="128.4" y2="32.6" stroke="#787878" stroke-width="1.8" opacity="0.41" stroke-linecap="round"/><line x1="113.9" y1="46.5" x2="118.4" y2="18.0" stroke="#6a6a6a" stroke-width="2.7" opacity="0.63" stroke-linecap="round"/><line x1="156.0" y1="71.2" x2="159.1" y2="46.2" stroke="#5c5c5c" stroke-width="1.7" opacity="0.36" stroke-linecap="round"/><line x1="153.5" y1="74.1" x2="158.7" y2="47.3" stroke="#6a6a6a" stroke-width="2.0" opacity="0.50" stroke-linecap="round"/><line x1="152.4" y1="44.0" x2="155.2" y2="14.7" stroke="#6a6a6a" stroke-width="1.1" opacity="0.46" stroke-linecap="round"/><line x1="117.5" y1="91.9" x2="119.9" y2="61.3" stroke="#6a6a6a" stroke-width="1.6" opacity="0.35" stroke-linecap="round"/><line x1="133.8" y1="54.2" x2="138.8" y2="24.0" stroke="#868686" stroke-width="1.4" opacity="0.43" stroke-linecap="round"/><line x1="120.1" y1="80.7" x2="126.2" y2="43.7" stroke="#6a6a6a" stroke-width="1.4" opacity="0.56" stroke-linecap="round"/><line x1="139.8" y1="68.1" x2="142.6" y2="37.1" stroke="#868686" stroke-width="0.9" opacity="0.38" stroke-linecap="round"/><line x1="126.8" y1="84.3" x2="131.2" y2="59.0" stroke="#5c5c5c" stroke-width="1.7" opacity="0.49" stroke-linecap="round"/><line x1="154.4" y1="106.5" x2="156.3" y2="74.4" stroke="#6a6a6a" stroke-width="2.6" opacity="0.38" stroke-linecap="round"/><line x1="147.0" y1="71.5" x2="151.8" y2="50.8" stroke="#868686" stroke-width="2.1" opacity="0.68" stroke-linecap="round"/><line x1="127.2" y1="66.9" x2="129.1" y2="35.8" stroke="#787878" stroke-width="1.1" opacity="0.34" stroke-linecap="round"/><line x1="151.0" y1="105.1" x2="155.5" y2="70.0" stroke="#5c5c5c" stroke-width="1.7" opacity="0.38" stroke-linecap="round"/><line x1="154.7" y1="49.9" x2="161.5" y2="11.2" stroke="#868686" stroke-width="0.8" opacity="0.65" stroke-linecap="round"/><line x1="136.5" y1="58.9" x2="142.8" y2="20.7" stroke="#6a6a6a" stroke-width="1.1" opacity="0.39" stroke-linecap="round"/><line x1="140.9" y1="39.3" x2="141.7" y2="16.8" stroke="#868686" stroke-width="1.0" opacity="0.34" stroke-linecap="round"/><line x1="136.7" y1="84.9" x2="139.6" y2="56.8" stroke="#1c1c1c" stroke-width="1.9" opacity="0.61" stroke-linecap="round"/><line x1="137.9" y1="88.5" x2="138.7" y2="73.3" stroke="#242424" stroke-width="1.3" opacity="0.60" stroke-linecap="round"/><line x1="150.7" y1="80.2" x2="152.5" y2="65.1" stroke="#242424" stroke-width="2.3" opacity="0.55" stroke-linecap="round"/><line x1="122.2" y1="61.8" x2="127.9" y2="37.5" stroke="#242424" stroke-width="0.7" opacity="0.71" stroke-linecap="round"/><line x1="117.3" y1="71.3" x2="119.4" y2="59.0" stroke="#2a2a2a" stroke-width="2.5" opacity="0.45" stroke-linecap="round"/><line x1="120.5" y1="80.4" x2="125.1" y2="43.6" stroke="#242424" stroke-width="0.9" opacity="0.50" stroke-linecap="round"/><line x1="114.9" y1="57.1" x2="120.2" y2="35.6" stroke="#161616" stroke-width="2.4" opacity="0.44" stroke-linecap="round"/><line x1="131.4" y1="46.8" x2="133.2" y2="25.5" stroke="#161616" stroke-width="1.3" opacity="0.75" stroke-linecap="round"/><line x1="144.7" y1="110.2" x2="153.4" y2="72.1" stroke="#161616" stroke-width="0.6" opacity="0.65" stroke-linecap="round"/><line x1="126.9" y1="46.3" x2="131.4" y2="10.9" stroke="#2a2a2a" stroke-width="2.7" opacity="0.67" stroke-linecap="round"/><line x1="122.1" y1="54.5" x2="124.5" y2="19.1" stroke="#242424" stroke-width="2.1" opacity="0.64" stroke-linecap="round"/><line x1="131.1" y1="38.7" x2="133.3" y2="15.1" stroke="#1c1c1c" stroke-width="1.6" opacity="0.64" stroke-linecap="round"/><line x1="144.7" y1="77.2" x2="147.4" y2="51.1" stroke="#161616" stroke-width="1.3" opacity="0.67" stroke-linecap="round"/><line x1="130.5" y1="72.0" x2="136.8" y2="45.2" stroke="#2a2a2a" stroke-width="1.4" opacity="0.68" stroke-linecap="round"/><line x1="120.8" y1="71.4" x2="123.9" y2="36.3" stroke="#161616" stroke-width="1.8" opacity="0.54" stroke-linecap="round"/><line x1="128.0" y1="112.3" x2="130.9" y2="73.4" stroke="#242424" stroke-width="1.7" opacity="0.74" stroke-linecap="round"/><line x1="115.5" y1="37.2" x2="117.0" y2="23.2" stroke="#161616" stroke-width="2.6" opacity="0.65" stroke-linecap="round"/><line x1="144.5" y1="54.3" x2="147.3" y2="31.8" stroke="#2a2a2a" stroke-width="1.2" opacity="0.47" stroke-linecap="round"/><line x1="155.5" y1="106.8" x2="157.9" y2="67.7" stroke="#242424" stroke-width="0.9" opacity="0.47" stroke-linecap="round"/><line x1="117.7" y1="59.9" x2="122.5" y2="37.7" stroke="#161616" stroke-width="1.2" opacity="0.40" stroke-linecap="round"/><line x1="124.6" y1="85.6" x2="131.0" y2="55.0" stroke="#2a2a2a" stroke-width="2.1" opacity="0.42" stroke-linecap="round"/><line x1="152.2" y1="60.1" x2="153.4" y2="29.8" stroke="#2a2a2a" stroke-width="1.0" opacity="0.56" stroke-linecap="round"/><line x1="114.4" y1="66.3" x2="116.9" y2="28.6" stroke="#161616" stroke-width="0.9" opacity="0.43" stroke-linecap="round"/><line x1="115.7" y1="92.1" x2="118.8" y2="63.0" stroke="#161616" stroke-width="1.3" opacity="0.47" stroke-linecap="round"/><line x1="122.9" y1="103.2" x2="124.9" y2="72.2" stroke="#2a2a2a" stroke-width="1.0" opacity="0.64" stroke-linecap="round"/><line x1="154.7" y1="71.0" x2="159.9" y2="35.1" stroke="#242424" stroke-width="0.9" opacity="0.38" stroke-linecap="round"/><line x1="122.0" y1="107.8" x2="130.2" y2="69.6" stroke="#1c1c1c" stroke-width="2.1" opacity="0.42" stroke-linecap="round"/><line x1="132.3" y1="80.1" x2="133.3" y2="65.7" stroke="#242424" stroke-width="1.9" opacity="0.40" stroke-linecap="round"/><line x1="141.4" y1="107.9" x2="147.7" y2="76.5" stroke="#161616" stroke-width="1.8" opacity="0.56" stroke-linecap="round"/><line x1="112.4" y1="50.2" x2="119.8" y2="19.2" stroke="#1c1c1c" stroke-width="1.4" opacity="0.41" stroke-linecap="round"/><line x1="142.5" y1="63.2" x2="145.0" y2="44.8" stroke="#2a2a2a" stroke-width="2.3" opacity="0.54" stroke-linecap="round"/><line x1="133.6" y1="62.2" x2="136.4" y2="41.3" stroke="#1c1c1c" stroke-width="1.0" opacity="0.63" stroke-linecap="round"/><line x1="145.8" y1="67.0" x2="154.2" y2="29.6" stroke="#2a2a2a" stroke-width="1.1" opacity="0.46" stroke-linecap="round"/><line x1="113.7" y1="79.9" x2="119.3" y2="45.4" stroke="#2a2a2a" stroke-width="1.3" opacity="0.52" stroke-linecap="round"/><line x1="119.6" y1="88.6" x2="122.4" y2="70.5" stroke="#1c1c1c" stroke-width="1.8" opacity="0.74" stroke-linecap="round"/><line x1="126.1" y1="71.8" x2="129.0" y2="52.0" stroke="#161616" stroke-width="1.9" opacity="0.47" stroke-linecap="round"/><line x1="180.2" y1="73.8" x2="204.5" y2="59.7" stroke="#868686" stroke-width="1.9" opacity="0.53" stroke-linecap="round"/><line x1="194.0" y1="90.4" x2="209.8" y2="79.0" stroke="#868686" stroke-width="1.0" opacity="0.60" stroke-linecap="round"/><line x1="164.2" y1="58.6" x2="185.9" y2="45.0" stroke="#787878" stroke-width="1.6" opacity="0.56" stroke-linecap="round"/><line x1="180.9" y1="85.1" x2="202.9" y2="75.1" stroke="#6a6a6a" stroke-width="2.0" opacity="0.56" stroke-linecap="round"/><line x1="157.7" y1="85.0" x2="186.0" y2="68.2" stroke="#6a6a6a" stroke-width="2.0" opacity="0.58" stroke-linecap="round"/><line x1="187.1" y1="53.9" x2="204.5" y2="42.4" stroke="#787878" stroke-width="1.6" opacity="0.42" stroke-linecap="round"/><line x1="166.1" y1="57.9" x2="181.1" y2="51.8" stroke="#6a6a6a" stroke-width="0.7" opacity="0.44" stroke-linecap="round"/><line x1="183.5" y1="60.9" x2="205.4" y2="50.4" stroke="#6a6a6a" stroke-width="1.3" opacity="0.62" stroke-linecap="round"/><line x1="163.2" y1="90.4" x2="180.9" y2="78.8" stroke="#6a6a6a" stroke-width="1.9" opacity="0.59" stroke-linecap="round"/><line x1="159.0" y1="85.0" x2="171.9" y2="76.7" stroke="#5c5c5c" stroke-width="2.6" opacity="0.63" stroke-linecap="round"/><line x1="191.7" y1="98.2" x2="218.3" y2="79.5" stroke="#787878" stroke-width="1.1" opacity="0.65" stroke-linecap="round"/><line x1="198.5" y1="47.6" x2="217.4" y2="35.4" stroke="#868686" stroke-width="1.5" opacity="0.61" stroke-linecap="round"/><line x1="168.9" y1="81.4" x2="197.8" y2="63.0" stroke="#5c5c5c" stroke-width="1.6" opacity="0.51" stroke-linecap="round"/><line x1="157.6" y1="51.4" x2="180.6" y2="42.5" stroke="#787878" stroke-width="1.3" opacity="0.69" stroke-linecap="round"/><line x1="177.5" y1="64.9" x2="201.3" y2="51.8" stroke="#5c5c5c" stroke-width="1.7" opacity="0.65" stroke-linecap="round"/><line x1="189.2" y1="84.2" x2="215.8" y2="72.1" stroke="#5c5c5c" stroke-width="1.1" opacity="0.63" stroke-linecap="round"/><line x1="157.6" y1="81.4" x2="174.4" y2="70.6" stroke="#6a6a6a" stroke-width="1.1" opacity="0.44" stroke-linecap="round"/><line x1="151.3" y1="42.2" x2="177.2" y2="29.6" stroke="#787878" stroke-width="1.4" opacity="0.61" stroke-linecap="round"/><line x1="191.9" y1="65.9" x2="202.7" y2="60.5" stroke="#6a6a6a" stroke-width="1.2" opacity="0.60" stroke-linecap="round"/><line x1="157.5" y1="69.3" x2="173.0" y2="62.1" stroke="#868686" stroke-width="1.5" opacity="0.39" stroke-linecap="round"/><line x1="172.7" y1="81.9" x2="187.0" y2="74.0" stroke="#5c5c5c" stroke-width="2.0" opacity="0.32" stroke-linecap="round"/><line x1="162.5" y1="78.5" x2="181.7" y2="66.9" stroke="#5c5c5c" stroke-width="1.4" opacity="0.42" stroke-linecap="round"/><line x1="185.3" y1="37.4" x2="203.3" y2="28.1" stroke="#787878" stroke-width="1.5" opacity="0.34" stroke-linecap="round"/><line x1="171.6" y1="46.5" x2="188.3" y2="35.5" stroke="#6a6a6a" stroke-width="0.8" opacity="0.68" stroke-linecap="round"/><line x1="154.4" y1="89.3" x2="167.4" y2="82.1" stroke="#5c5c5c" stroke-width="2.0" opacity="0.33" stroke-linecap="round"/><line x1="172.9" y1="32.8" x2="197.7" y2="17.8" stroke="#868686" stroke-width="1.5" opacity="0.45" stroke-linecap="round"/><line x1="174.7" y1="56.3" x2="202.7" y2="41.9" stroke="#868686" stroke-width="1.5" opacity="0.66" stroke-linecap="round"/><line x1="180.5" y1="43.0" x2="197.9" y2="33.6" stroke="#868686" stroke-width="2.1" opacity="0.68" stroke-linecap="round"/><line x1="181.5" y1="64.2" x2="203.7" y2="54.8" stroke="#5c5c5c" stroke-width="1.6" opacity="0.67" stroke-linecap="round"/><line x1="189.8" y1="42.1" x2="207.2" y2="33.8" stroke="#868686" stroke-width="2.9" opacity="0.45" stroke-linecap="round"/><line x1="171.4" y1="77.5" x2="190.6" y2="67.3" stroke="#868686" stroke-width="1.6" opacity="0.52" stroke-linecap="round"/><line x1="159.5" y1="90.9" x2="186.3" y2="79.9" stroke="#6a6a6a" stroke-width="1.7" opacity="0.33" stroke-linecap="round"/><line x1="161.9" y1="71.9" x2="182.2" y2="64.5" stroke="#5c5c5c" stroke-width="1.4" opacity="0.39" stroke-linecap="round"/><line x1="158.1" y1="37.5" x2="173.3" y2="31.0" stroke="#868686" stroke-width="0.9" opacity="0.65" stroke-linecap="round"/><line x1="155.7" y1="47.3" x2="181.5" y2="34.4" stroke="#6a6a6a" stroke-width="1.3" opacity="0.51" stroke-linecap="round"/><line x1="171.3" y1="66.2" x2="200.4" y2="53.7" stroke="#6a6a6a" stroke-width="2.0" opacity="0.53" stroke-linecap="round"/><line x1="198.5" y1="40.6" x2="211.3" y2="35.6" stroke="#161616" stroke-width="2.4" opacity="0.64" stroke-linecap="round"/><line x1="167.0" y1="78.1" x2="182.6" y2="70.6" stroke="#242424" stroke-width="2.0" opacity="0.57" stroke-linecap="round"/><line x1="154.9" y1="88.6" x2="181.1" y2="74.4" stroke="#2a2a2a" stroke-width="2.8" opacity="0.56" stroke-linecap="round"/><line x1="168.7" y1="84.4" x2="182.5" y2="75.0" stroke="#2a2a2a" stroke-width="0.8" opacity="0.54" stroke-linecap="round"/><line x1="163.3" y1="46.4" x2="187.1" y2="36.0" stroke="#242424" stroke-width="1.5" opacity="0.52" stroke-linecap="round"/><line x1="181.8" y1="81.5" x2="196.2" y2="73.5" stroke="#242424" stroke-width="1.9" opacity="0.74" stroke-linecap="round"/><line x1="180.4" y1="86.7" x2="201.0" y2="78.1" stroke="#2a2a2a" stroke-width="1.1" opacity="0.52" stroke-linecap="round"/><line x1="159.7" y1="79.5" x2="175.4" y2="69.9" stroke="#2a2a2a" stroke-width="1.7" opacity="0.66" stroke-linecap="round"/><line x1="149.7" y1="38.4" x2="173.1" y2="26.3" stroke="#1c1c1c" stroke-width="1.4" opacity="0.61" stroke-linecap="round"/><line x1="174.0" y1="37.1" x2="204.6" y2="23.7" stroke="#161616" stroke-width="3.0" opacity="0.41" stroke-linecap="round"/><line x1="170.4" y1="99.0" x2="202.5" y2="85.9" stroke="#2a2a2a" stroke-width="1.8" opacity="0.42" stroke-linecap="round"/><line x1="154.2" y1="92.9" x2="175.5" y2="79.9" stroke="#242424" stroke-width="0.9" opacity="0.59" stroke-linecap="round"/><line x1="151.2" y1="55.5" x2="174.5" y2="44.8" stroke="#1c1c1c" stroke-width="1.2" opacity="0.58" stroke-linecap="round"/><line x1="191.4" y1="45.4" x2="215.0" y2="28.9" stroke="#2a2a2a" stroke-width="1.6" opacity="0.70" stroke-linecap="round"/><line x1="188.9" y1="38.9" x2="216.6" y2="22.5" stroke="#161616" stroke-width="0.7" opacity="0.50" stroke-linecap="round"/><line x1="195.9" y1="63.2" x2="209.0" y2="55.8" stroke="#242424" stroke-width="1.7" opacity="0.72" stroke-linecap="round"/><line x1="185.3" y1="94.2" x2="197.2" y2="87.5" stroke="#1c1c1c" stroke-width="1.3" opacity="0.40" stroke-linecap="round"/><line x1="155.2" y1="89.7" x2="169.3" y2="84.1" stroke="#161616" stroke-width="0.7" opacity="0.54" stroke-linecap="round"/><line x1="190.7" y1="32.0" x2="207.2" y2="24.8" stroke="#2a2a2a" stroke-width="2.8" opacity="0.58" stroke-linecap="round"/><line x1="181.5" y1="67.8" x2="193.6" y2="63.2" stroke="#1c1c1c" stroke-width="1.5" opacity="0.62" stroke-linecap="round"/><line x1="151.7" y1="94.5" x2="181.8" y2="81.1" stroke="#242424" stroke-width="1.6" opacity="0.44" stroke-linecap="round"/><line x1="196.4" y1="46.8" x2="215.9" y2="38.4" stroke="#161616" stroke-width="2.1" opacity="0.70" stroke-linecap="round"/><line x1="181.0" y1="45.9" x2="208.3" y2="26.6" stroke="#161616" stroke-width="2.5" opacity="0.57" stroke-linecap="round"/><line x1="148.9" y1="42.9" x2="171.8" y2="31.5" stroke="#161616" stroke-width="1.0" opacity="0.42" stroke-linecap="round"/><line x1="152.6" y1="92.5" x2="165.4" y2="87.4" stroke="#1c1c1c" stroke-width="1.4" opacity="0.40" stroke-linecap="round"/><line x1="177.4" y1="87.8" x2="207.1" y2="76.2" stroke="#161616" stroke-width="2.4" opacity="0.56" stroke-linecap="round"/><line x1="180.2" y1="76.8" x2="206.3" y2="65.2" stroke="#161616" stroke-width="1.6" opacity="0.45" stroke-linecap="round"/><line x1="185.6" y1="74.8" x2="215.3" y2="60.2" stroke="#242424" stroke-width="1.3" opacity="0.53" stroke-linecap="round"/><line x1="156.5" y1="48.6" x2="184.3" y2="32.5" stroke="#1c1c1c" stroke-width="1.9" opacity="0.67" stroke-linecap="round"/><line x1="191.4" y1="67.4" x2="209.7" y2="59.5" stroke="#161616" stroke-width="1.9" opacity="0.50" stroke-linecap="round"/><line x1="160.00" y1="62.00" x2="204.00" y2="40.00" stroke="#777" stroke-width="3.0" stroke-linecap="butt"/><line x1="165.00" y1="30.00" x2="204.00" y2="22.00" stroke="#1c1c1c" stroke-width="3.5" stroke-linecap="butt"/><line x1="172.00" y1="90.00" x2="204.00" y2="72.00" stroke="#1a1a1a" stroke-width="3.0" stroke-linecap="butt"/><line x1="150.00" y1="26.00" x2="158.00" y2="92.00" stroke="#202020" stroke-width="1.6" stroke-linecap="butt"/><line x1="132.00" y1="26.00" x2="126.00" y2="92.00" stroke="#6c6c6c" stroke-width="1.6" stroke-linecap="butt"/><line x1="170.00" y1="50.00" x2="204.00" y2="32.00" stroke="#222" stroke-width="1.6" stroke-linecap="butt"/></g>
<g filter="url(#b03)"><line x1="118.0" y1="81.9" x2="134.3" y2="70.1" stroke="#8a8a8a" stroke-width="0.7" opacity="0.29" stroke-linecap="round"/><line x1="194.8" y1="50.4" x2="212.2" y2="39.3" stroke="#6e6e6e" stroke-width="0.8" opacity="0.29" stroke-linecap="round"/><line x1="152.8" y1="36.4" x2="162.2" y2="33.4" stroke="#6e6e6e" stroke-width="1.3" opacity="0.37" stroke-linecap="round"/><line x1="181.6" y1="34.5" x2="196.3" y2="21.7" stroke="#6e6e6e" stroke-width="0.6" opacity="0.29" stroke-linecap="round"/><line x1="119.3" y1="28.6" x2="124.6" y2="25.0" stroke="#8a8a8a" stroke-width="0.7" opacity="0.26" stroke-linecap="round"/><line x1="107.8" y1="66.1" x2="125.4" y2="53.0" stroke="#8a8a8a" stroke-width="0.9" opacity="0.34" stroke-linecap="round"/><line x1="136.3" y1="91.7" x2="149.4" y2="82.7" stroke="#6e6e6e" stroke-width="1.3" opacity="0.34" stroke-linecap="round"/><line x1="160.8" y1="39.2" x2="166.7" y2="36.1" stroke="#6e6e6e" stroke-width="1.3" opacity="0.29" stroke-linecap="round"/><line x1="132.3" y1="67.4" x2="146.4" y2="62.3" stroke="#8a8a8a" stroke-width="0.9" opacity="0.33" stroke-linecap="round"/><line x1="184.1" y1="66.3" x2="194.7" y2="58.1" stroke="#8a8a8a" stroke-width="0.9" opacity="0.25" stroke-linecap="round"/><line x1="162.0" y1="70.7" x2="174.5" y2="59.1" stroke="#8a8a8a" stroke-width="1.2" opacity="0.49" stroke-linecap="round"/><line x1="151.7" y1="69.4" x2="158.4" y2="66.8" stroke="#6e6e6e" stroke-width="0.6" opacity="0.32" stroke-linecap="round"/><line x1="114.4" y1="86.4" x2="126.7" y2="81.7" stroke="#7c7c7c" stroke-width="1.2" opacity="0.30" stroke-linecap="round"/><line x1="172.4" y1="90.5" x2="185.7" y2="85.1" stroke="#8a8a8a" stroke-width="1.1" opacity="0.45" stroke-linecap="round"/><line x1="152.1" y1="88.1" x2="165.4" y2="83.4" stroke="#6e6e6e" stroke-width="0.9" opacity="0.28" stroke-linecap="round"/><line x1="136.1" y1="67.6" x2="150.2" y2="59.5" stroke="#6e6e6e" stroke-width="0.9" opacity="0.33" stroke-linecap="round"/><line x1="137.6" y1="78.4" x2="151.1" y2="74.3" stroke="#8a8a8a" stroke-width="0.9" opacity="0.43" stroke-linecap="round"/><line x1="152.8" y1="77.4" x2="167.5" y2="67.9" stroke="#8a8a8a" stroke-width="0.9" opacity="0.47" stroke-linecap="round"/><line x1="108.9" y1="30.9" x2="118.4" y2="22.8" stroke="#8a8a8a" stroke-width="0.7" opacity="0.47" stroke-linecap="round"/><line x1="172.1" y1="32.3" x2="187.2" y2="24.2" stroke="#6e6e6e" stroke-width="0.6" opacity="0.45" stroke-linecap="round"/><line x1="158.5" y1="85.9" x2="170.1" y2="81.7" stroke="#6e6e6e" stroke-width="0.9" opacity="0.47" stroke-linecap="round"/><line x1="168.8" y1="64.8" x2="187.7" y2="57.6" stroke="#6e6e6e" stroke-width="0.8" opacity="0.30" stroke-linecap="round"/><line x1="148.3" y1="46.6" x2="162.0" y2="38.5" stroke="#6e6e6e" stroke-width="1.0" opacity="0.49" stroke-linecap="round"/><line x1="123.3" y1="42.1" x2="129.3" y2="37.3" stroke="#7c7c7c" stroke-width="0.5" opacity="0.50" stroke-linecap="round"/><line x1="189.3" y1="75.4" x2="204.9" y2="61.8" stroke="#8a8a8a" stroke-width="1.1" opacity="0.42" stroke-linecap="round"/><line x1="129.4" y1="37.4" x2="139.0" y2="32.6" stroke="#8a8a8a" stroke-width="1.2" opacity="0.26" stroke-linecap="round"/><line x1="172.3" y1="95.7" x2="185.0" y2="87.5" stroke="#7c7c7c" stroke-width="1.0" opacity="0.43" stroke-linecap="round"/><line x1="190.3" y1="88.5" x2="199.1" y2="81.0" stroke="#6e6e6e" stroke-width="0.9" opacity="0.35" stroke-linecap="round"/><line x1="171.4" y1="30.4" x2="189.8" y2="24.4" stroke="#7c7c7c" stroke-width="0.7" opacity="0.26" stroke-linecap="round"/><line x1="175.1" y1="96.2" x2="194.4" y2="86.2" stroke="#8a8a8a" stroke-width="0.8" opacity="0.36" stroke-linecap="round"/><line x1="155.4" y1="28.3" x2="162.5" y2="26.1" stroke="#8a8a8a" stroke-width="1.1" opacity="0.29" stroke-linecap="round"/><line x1="140.1" y1="49.5" x2="149.0" y2="41.0" stroke="#6e6e6e" stroke-width="1.0" opacity="0.47" stroke-linecap="round"/><line x1="181.9" y1="96.2" x2="189.3" y2="89.2" stroke="#7c7c7c" stroke-width="0.6" opacity="0.33" stroke-linecap="round"/><line x1="162.5" y1="48.3" x2="174.5" y2="44.3" stroke="#7c7c7c" stroke-width="0.6" opacity="0.49" stroke-linecap="round"/><line x1="140.0" y1="82.7" x2="147.4" y2="80.5" stroke="#6e6e6e" stroke-width="0.9" opacity="0.50" stroke-linecap="round"/><line x1="109.3" y1="84.9" x2="121.6" y2="79.0" stroke="#7c7c7c" stroke-width="0.9" opacity="0.37" stroke-linecap="round"/><line x1="127.0" y1="87.9" x2="135.0" y2="84.5" stroke="#8a8a8a" stroke-width="1.2" opacity="0.48" stroke-linecap="round"/><line x1="197.2" y1="89.8" x2="206.6" y2="81.2" stroke="#7c7c7c" stroke-width="0.7" opacity="0.46" stroke-linecap="round"/><line x1="131.9" y1="51.2" x2="141.5" y2="45.9" stroke="#6e6e6e" stroke-width="1.0" opacity="0.42" stroke-linecap="round"/><line x1="196.6" y1="91.8" x2="202.1" y2="87.0" stroke="#7c7c7c" stroke-width="0.7" opacity="0.35" stroke-linecap="round"/><line x1="174.3" y1="81.4" x2="183.4" y2="77.9" stroke="#6e6e6e" stroke-width="0.8" opacity="0.26" stroke-linecap="round"/><line x1="149.1" y1="60.7" x2="164.8" y2="46.4" stroke="#6e6e6e" stroke-width="0.9" opacity="0.31" stroke-linecap="round"/><line x1="108.8" y1="86.8" x2="124.3" y2="80.6" stroke="#8a8a8a" stroke-width="0.6" opacity="0.28" stroke-linecap="round"/><line x1="184.3" y1="58.5" x2="198.3" y2="51.6" stroke="#7c7c7c" stroke-width="0.8" opacity="0.26" stroke-linecap="round"/><line x1="180.9" y1="46.7" x2="188.0" y2="43.5" stroke="#6e6e6e" stroke-width="1.1" opacity="0.49" stroke-linecap="round"/><line x1="123.1" y1="54.3" x2="136.7" y2="47.0" stroke="#1e1e1e" stroke-width="1.2" opacity="0.34" stroke-linecap="round"/><line x1="176.7" y1="85.3" x2="190.8" y2="72.6" stroke="#141414" stroke-width="0.9" opacity="0.47" stroke-linecap="round"/><line x1="133.3" y1="35.7" x2="146.1" y2="26.1" stroke="#141414" stroke-width="0.8" opacity="0.36" stroke-linecap="round"/><line x1="128.2" y1="69.5" x2="142.1" y2="59.6" stroke="#141414" stroke-width="0.6" opacity="0.48" stroke-linecap="round"/><line x1="197.5" y1="77.3" x2="203.7" y2="74.1" stroke="#141414" stroke-width="0.7" opacity="0.41" stroke-linecap="round"/><line x1="134.5" y1="62.3" x2="150.8" y2="51.7" stroke="#1e1e1e" stroke-width="1.3" opacity="0.51" stroke-linecap="round"/><line x1="163.5" y1="29.3" x2="172.3" y2="23.7" stroke="#141414" stroke-width="0.7" opacity="0.34" stroke-linecap="round"/><line x1="129.3" y1="74.9" x2="150.0" y2="67.6" stroke="#1e1e1e" stroke-width="0.7" opacity="0.40" stroke-linecap="round"/><line x1="129.8" y1="36.4" x2="139.2" y2="27.6" stroke="#1e1e1e" stroke-width="0.5" opacity="0.39" stroke-linecap="round"/><line x1="116.4" y1="45.0" x2="133.7" y2="32.1" stroke="#1e1e1e" stroke-width="1.1" opacity="0.45" stroke-linecap="round"/><line x1="190.5" y1="84.2" x2="209.4" y2="78.0" stroke="#1e1e1e" stroke-width="1.2" opacity="0.37" stroke-linecap="round"/><line x1="150.4" y1="56.2" x2="168.9" y2="48.4" stroke="#1e1e1e" stroke-width="0.9" opacity="0.52" stroke-linecap="round"/><line x1="163.9" y1="42.4" x2="175.5" y2="39.0" stroke="#1e1e1e" stroke-width="0.8" opacity="0.34" stroke-linecap="round"/><line x1="142.7" y1="84.9" x2="163.5" y2="78.9" stroke="#1e1e1e" stroke-width="1.3" opacity="0.44" stroke-linecap="round"/><line x1="160.0" y1="66.6" x2="172.4" y2="57.0" stroke="#141414" stroke-width="1.1" opacity="0.48" stroke-linecap="round"/><line x1="192.9" y1="45.1" x2="209.9" y2="39.0" stroke="#141414" stroke-width="1.1" opacity="0.40" stroke-linecap="round"/><line x1="117.1" y1="66.4" x2="132.2" y2="55.7" stroke="#141414" stroke-width="1.3" opacity="0.41" stroke-linecap="round"/><line x1="166.7" y1="40.7" x2="174.8" y2="38.1" stroke="#141414" stroke-width="1.3" opacity="0.35" stroke-linecap="round"/><line x1="197.5" y1="40.5" x2="206.7" y2="36.2" stroke="#141414" stroke-width="0.5" opacity="0.48" stroke-linecap="round"/><line x1="165.7" y1="37.1" x2="176.5" y2="34.0" stroke="#1e1e1e" stroke-width="0.6" opacity="0.55" stroke-linecap="round"/><line x1="196.0" y1="27.8" x2="201.5" y2="25.3" stroke="#1e1e1e" stroke-width="0.7" opacity="0.42" stroke-linecap="round"/><line x1="179.0" y1="40.4" x2="189.5" y2="33.3" stroke="#141414" stroke-width="1.1" opacity="0.43" stroke-linecap="round"/><line x1="198.0" y1="51.4" x2="203.7" y2="48.2" stroke="#141414" stroke-width="0.5" opacity="0.52" stroke-linecap="round"/><line x1="131.7" y1="39.8" x2="138.7" y2="37.8" stroke="#1e1e1e" stroke-width="0.5" opacity="0.31" stroke-linecap="round"/><line x1="114.7" y1="71.3" x2="120.9" y2="66.9" stroke="#1e1e1e" stroke-width="0.7" opacity="0.32" stroke-linecap="round"/><line x1="149.1" y1="63.1" x2="158.0" y2="57.2" stroke="#141414" stroke-width="0.7" opacity="0.55" stroke-linecap="round"/><line x1="173.3" y1="43.2" x2="179.7" y2="37.9" stroke="#1e1e1e" stroke-width="0.6" opacity="0.36" stroke-linecap="round"/><line x1="111.5" y1="53.0" x2="128.7" y2="42.6" stroke="#1e1e1e" stroke-width="0.7" opacity="0.32" stroke-linecap="round"/><line x1="134.3" y1="93.1" x2="146.9" y2="88.3" stroke="#1e1e1e" stroke-width="0.6" opacity="0.37" stroke-linecap="round"/><line x1="179.0" y1="42.2" x2="188.5" y2="33.1" stroke="#1e1e1e" stroke-width="1.3" opacity="0.32" stroke-linecap="round"/><line x1="179.1" y1="85.4" x2="198.6" y2="78.1" stroke="#141414" stroke-width="0.6" opacity="0.45" stroke-linecap="round"/><line x1="188.6" y1="78.9" x2="202.3" y2="71.0" stroke="#141414" stroke-width="1.1" opacity="0.49" stroke-linecap="round"/><line x1="159.5" y1="49.9" x2="166.7" y2="44.0" stroke="#141414" stroke-width="1.1" opacity="0.54" stroke-linecap="round"/><line x1="148.9" y1="38.5" x2="162.5" y2="27.4" stroke="#141414" stroke-width="0.9" opacity="0.37" stroke-linecap="round"/><line x1="173.4" y1="46.6" x2="193.7" y2="40.2" stroke="#141414" stroke-width="1.2" opacity="0.36" stroke-linecap="round"/><line x1="144.2" y1="41.0" x2="150.1" y2="35.7" stroke="#141414" stroke-width="1.2" opacity="0.55" stroke-linecap="round"/><line x1="114.6" y1="66.7" x2="121.9" y2="63.3" stroke="#1e1e1e" stroke-width="0.6" opacity="0.40" stroke-linecap="round"/><line x1="170.4" y1="93.6" x2="182.0" y2="88.1" stroke="#1e1e1e" stroke-width="0.7" opacity="0.55" stroke-linecap="round"/><line x1="126.0" y1="84.7" x2="140.5" y2="75.5" stroke="#141414" stroke-width="0.5" opacity="0.54" stroke-linecap="round"/><line x1="160.9" y1="74.7" x2="177.6" y2="68.9" stroke="#141414" stroke-width="1.1" opacity="0.34" stroke-linecap="round"/><line x1="191.7" y1="28.5" x2="204.0" y2="24.8" stroke="#141414" stroke-width="0.7" opacity="0.48" stroke-linecap="round"/><line x1="124.1" y1="33.9" x2="133.3" y2="30.2" stroke="#1e1e1e" stroke-width="0.6" opacity="0.42" stroke-linecap="round"/><line x1="123.4" y1="90.6" x2="134.1" y2="81.3" stroke="#1e1e1e" stroke-width="0.7" opacity="0.50" stroke-linecap="round"/><line x1="183.7" y1="46.3" x2="188.5" y2="42.3" stroke="#141414" stroke-width="0.5" opacity="0.55" stroke-linecap="round"/><line x1="181.2" y1="51.8" x2="199.3" y2="43.7" stroke="#141414" stroke-width="0.7" opacity="0.32" stroke-linecap="round"/></g>
<rect x="112.70" y="24.80" width="90.90" height="68.20" fill="#8c8c8c" filter="url(#nzf)" opacity="0.28"/>
<rect x="112.70" y="24.80" width="90.90" height="68.20" fill="#000" filter="url(#nzd)" opacity="0.30"/>
<line x1="174.00" y1="78.00" x2="162.00" y2="71.50" stroke="#fff" stroke-width="1.0" stroke-linecap="round"/><line x1="162.00" y1="71.50" x2="165.60" y2="71.49" stroke="#fff" stroke-width="1.0" stroke-linecap="round"/><line x1="162.00" y1="71.50" x2="163.96" y2="74.52" stroke="#fff" stroke-width="1.0" stroke-linecap="round"/>
</g>
<text transform="translate(115.40,35.90) scale(0.975,1)" font-size="9.4" text-anchor="start" font-weight="normal" fill="#f0f0f0" stroke="#f0f0f0" stroke-width="0.18" >01:00.503</text>
<text transform="translate(252.50,19.60)" font-size="10.2" text-anchor="middle" font-weight="bold" fill="#000" stroke="#000" stroke-width="0.18" >PSI B1</text>
<clipPath id="cl2"><rect x="207.0" y="24.8" width="90.50" height="68.20"/></clipPath>
<g clip-path="url(#cl2)">
<rect x="207.00" y="24.80" width="90.50" height="68.20" fill="#383838" />
<g filter="url(#bl2)"><polygon points="261.3,31.6 297.5,31.6 297.5,79.4 270.4,79.4" fill="#474747" /><polygon points="207.0,58.9 243.2,65.7 247.7,93.0 207.0,93.0" fill="#444" /><polygon points="207.0,31.6 217.9,30.3 263.1,67.1 256.8,72.5" fill="#202020" /><polygon points="207.0,24.8 297.5,24.8 297.5,33.0 207.0,33.0" fill="#2e2e2e" /></g>
<rect x="207.00" y="24.80" width="90.50" height="68.20" fill="#8a8a8a" filter="url(#nzm)" opacity="0.20"/>
<rect x="207.00" y="24.80" width="90.50" height="68.20" fill="#000" filter="url(#nzn)" opacity="0.28"/>
<g filter="url(#b05)"><line x1="252.4" y1="48.2" x2="263.5" y2="31.0" stroke="#5c5c5c" stroke-width="2.0" opacity="0.30" stroke-linecap="round"/><line x1="222.6" y1="89.1" x2="232.8" y2="66.7" stroke="#787878" stroke-width="2.0" opacity="0.20" stroke-linecap="round"/><line x1="205.8" y1="78.2" x2="223.1" y2="59.0" stroke="#6a6a6a" stroke-width="2.4" opacity="0.32" stroke-linecap="round"/><line x1="289.3" y1="49.9" x2="297.9" y2="32.1" stroke="#5c5c5c" stroke-width="1.1" opacity="0.25" stroke-linecap="round"/><line x1="252.7" y1="68.2" x2="271.8" y2="45.4" stroke="#6a6a6a" stroke-width="2.1" opacity="0.43" stroke-linecap="round"/><line x1="230.1" y1="61.3" x2="240.0" y2="40.4" stroke="#6a6a6a" stroke-width="1.9" opacity="0.28" stroke-linecap="round"/><line x1="229.8" y1="79.3" x2="236.7" y2="65.1" stroke="#5c5c5c" stroke-width="1.6" opacity="0.38" stroke-linecap="round"/><line x1="203.2" y1="80.8" x2="216.0" y2="67.1" stroke="#868686" stroke-width="1.0" opacity="0.43" stroke-linecap="round"/><line x1="274.4" y1="99.7" x2="290.7" y2="72.1" stroke="#5c5c5c" stroke-width="1.2" opacity="0.47" stroke-linecap="round"/><line x1="244.8" y1="73.2" x2="255.8" y2="55.0" stroke="#6a6a6a" stroke-width="0.9" opacity="0.24" stroke-linecap="round"/><line x1="273.5" y1="91.6" x2="286.6" y2="66.8" stroke="#868686" stroke-width="1.1" opacity="0.39" stroke-linecap="round"/><line x1="216.4" y1="94.2" x2="223.8" y2="78.6" stroke="#787878" stroke-width="1.2" opacity="0.43" stroke-linecap="round"/><line x1="255.4" y1="46.8" x2="266.4" y2="35.9" stroke="#868686" stroke-width="2.4" opacity="0.48" stroke-linecap="round"/><line x1="234.0" y1="58.2" x2="259.2" y2="34.1" stroke="#787878" stroke-width="0.6" opacity="0.25" stroke-linecap="round"/><line x1="224.0" y1="33.1" x2="232.2" y2="24.4" stroke="#6a6a6a" stroke-width="2.2" opacity="0.22" stroke-linecap="round"/><line x1="273.6" y1="44.5" x2="287.1" y2="16.4" stroke="#868686" stroke-width="1.2" opacity="0.50" stroke-linecap="round"/><line x1="241.6" y1="62.9" x2="259.8" y2="44.4" stroke="#868686" stroke-width="2.4" opacity="0.35" stroke-linecap="round"/><line x1="211.1" y1="87.1" x2="234.6" y2="63.2" stroke="#868686" stroke-width="1.2" opacity="0.34" stroke-linecap="round"/><line x1="272.7" y1="80.6" x2="279.1" y2="70.1" stroke="#787878" stroke-width="1.5" opacity="0.27" stroke-linecap="round"/><line x1="274.9" y1="79.5" x2="279.4" y2="70.2" stroke="#6a6a6a" stroke-width="1.2" opacity="0.32" stroke-linecap="round"/><line x1="248.2" y1="44.0" x2="261.4" y2="15.6" stroke="#787878" stroke-width="1.3" opacity="0.47" stroke-linecap="round"/><line x1="256.4" y1="33.6" x2="265.8" y2="24.4" stroke="#5c5c5c" stroke-width="1.1" opacity="0.36" stroke-linecap="round"/><line x1="233.6" y1="70.4" x2="246.8" y2="50.9" stroke="#6a6a6a" stroke-width="1.4" opacity="0.25" stroke-linecap="round"/><line x1="239.7" y1="64.0" x2="250.1" y2="48.6" stroke="#787878" stroke-width="1.3" opacity="0.27" stroke-linecap="round"/><line x1="291.8" y1="97.7" x2="299.2" y2="85.1" stroke="#5c5c5c" stroke-width="1.9" opacity="0.44" stroke-linecap="round"/><line x1="249.1" y1="101.9" x2="261.3" y2="79.8" stroke="#868686" stroke-width="0.9" opacity="0.39" stroke-linecap="round"/><line x1="267.6" y1="79.9" x2="285.3" y2="58.4" stroke="#6a6a6a" stroke-width="1.4" opacity="0.34" stroke-linecap="round"/><line x1="256.2" y1="62.7" x2="272.1" y2="33.9" stroke="#868686" stroke-width="0.9" opacity="0.37" stroke-linecap="round"/><line x1="244.7" y1="43.8" x2="259.1" y2="18.4" stroke="#6a6a6a" stroke-width="0.9" opacity="0.21" stroke-linecap="round"/><line x1="248.1" y1="43.6" x2="259.6" y2="32.6" stroke="#787878" stroke-width="0.8" opacity="0.48" stroke-linecap="round"/><line x1="287.4" y1="58.4" x2="296.4" y2="45.7" stroke="#5c5c5c" stroke-width="1.1" opacity="0.28" stroke-linecap="round"/><line x1="217.1" y1="82.8" x2="231.6" y2="67.6" stroke="#787878" stroke-width="0.8" opacity="0.43" stroke-linecap="round"/><line x1="228.0" y1="100.6" x2="243.5" y2="72.8" stroke="#787878" stroke-width="1.5" opacity="0.40" stroke-linecap="round"/><line x1="268.3" y1="79.0" x2="281.8" y2="61.8" stroke="#5c5c5c" stroke-width="1.1" opacity="0.41" stroke-linecap="round"/><line x1="230.1" y1="36.4" x2="242.9" y2="23.7" stroke="#6a6a6a" stroke-width="0.6" opacity="0.24" stroke-linecap="round"/><line x1="274.2" y1="64.8" x2="296.7" y2="40.8" stroke="#868686" stroke-width="0.8" opacity="0.44" stroke-linecap="round"/><line x1="206.5" y1="79.2" x2="217.1" y2="85.3" stroke="#242424" stroke-width="0.9" opacity="0.39" stroke-linecap="round"/><line x1="272.2" y1="64.1" x2="293.5" y2="85.1" stroke="#242424" stroke-width="1.3" opacity="0.40" stroke-linecap="round"/><line x1="268.0" y1="76.0" x2="285.4" y2="90.8" stroke="#161616" stroke-width="1.4" opacity="0.53" stroke-linecap="round"/><line x1="226.7" y1="63.8" x2="250.9" y2="80.3" stroke="#242424" stroke-width="2.1" opacity="0.55" stroke-linecap="round"/><line x1="260.0" y1="66.5" x2="279.4" y2="88.0" stroke="#1c1c1c" stroke-width="2.3" opacity="0.57" stroke-linecap="round"/><line x1="244.4" y1="21.3" x2="267.5" y2="41.0" stroke="#2a2a2a" stroke-width="1.7" opacity="0.54" stroke-linecap="round"/><line x1="217.3" y1="39.4" x2="235.9" y2="57.1" stroke="#242424" stroke-width="1.3" opacity="0.58" stroke-linecap="round"/><line x1="288.1" y1="77.8" x2="300.6" y2="87.9" stroke="#1c1c1c" stroke-width="1.2" opacity="0.53" stroke-linecap="round"/><line x1="248.1" y1="20.9" x2="260.2" y2="30.7" stroke="#161616" stroke-width="1.6" opacity="0.49" stroke-linecap="round"/><line x1="282.1" y1="33.0" x2="294.0" y2="46.7" stroke="#2a2a2a" stroke-width="1.1" opacity="0.59" stroke-linecap="round"/><line x1="231.4" y1="43.1" x2="250.5" y2="64.1" stroke="#1c1c1c" stroke-width="0.8" opacity="0.39" stroke-linecap="round"/><line x1="217.7" y1="76.5" x2="235.0" y2="94.5" stroke="#2a2a2a" stroke-width="1.7" opacity="0.60" stroke-linecap="round"/><line x1="234.1" y1="68.8" x2="256.7" y2="82.6" stroke="#161616" stroke-width="1.3" opacity="0.41" stroke-linecap="round"/><line x1="276.6" y1="30.4" x2="301.3" y2="55.0" stroke="#242424" stroke-width="1.6" opacity="0.31" stroke-linecap="round"/><line x1="209.7" y1="69.6" x2="235.2" y2="85.4" stroke="#242424" stroke-width="1.0" opacity="0.35" stroke-linecap="round"/><line x1="214.0" y1="42.0" x2="232.7" y2="54.0" stroke="#161616" stroke-width="0.8" opacity="0.57" stroke-linecap="round"/><line x1="256.5" y1="81.4" x2="275.6" y2="104.1" stroke="#161616" stroke-width="1.6" opacity="0.46" stroke-linecap="round"/><line x1="237.1" y1="68.3" x2="260.7" y2="82.1" stroke="#161616" stroke-width="0.7" opacity="0.54" stroke-linecap="round"/><line x1="203.8" y1="74.7" x2="225.9" y2="97.7" stroke="#161616" stroke-width="1.4" opacity="0.50" stroke-linecap="round"/><line x1="243.7" y1="77.8" x2="258.8" y2="91.4" stroke="#2a2a2a" stroke-width="2.0" opacity="0.43" stroke-linecap="round"/><line x1="260.2" y1="59.2" x2="274.4" y2="68.2" stroke="#1c1c1c" stroke-width="1.2" opacity="0.35" stroke-linecap="round"/><line x1="264.6" y1="57.6" x2="287.8" y2="72.6" stroke="#161616" stroke-width="1.1" opacity="0.54" stroke-linecap="round"/><line x1="241.4" y1="76.6" x2="258.4" y2="95.6" stroke="#242424" stroke-width="1.1" opacity="0.54" stroke-linecap="round"/><line x1="264.2" y1="70.8" x2="276.5" y2="80.8" stroke="#242424" stroke-width="0.8" opacity="0.51" stroke-linecap="round"/><line x1="267.2" y1="34.3" x2="289.4" y2="54.4" stroke="#2a2a2a" stroke-width="1.0" opacity="0.40" stroke-linecap="round"/><line x1="228.1" y1="39.4" x2="242.1" y2="52.8" stroke="#2a2a2a" stroke-width="0.9" opacity="0.61" stroke-linecap="round"/><line x1="256.1" y1="53.8" x2="266.6" y2="59.9" stroke="#1c1c1c" stroke-width="1.6" opacity="0.50" stroke-linecap="round"/><line x1="224.2" y1="62.8" x2="235.3" y2="70.1" stroke="#1c1c1c" stroke-width="1.4" opacity="0.50" stroke-linecap="round"/><line x1="270.0" y1="77.3" x2="280.7" y2="83.6" stroke="#242424" stroke-width="1.5" opacity="0.44" stroke-linecap="round"/><line x1="273.6" y1="32.5" x2="296.7" y2="51.6" stroke="#161616" stroke-width="1.1" opacity="0.60" stroke-linecap="round"/><line x1="224.1" y1="18.4" x2="244.8" y2="36.4" stroke="#161616" stroke-width="1.0" opacity="0.50" stroke-linecap="round"/><line x1="232.9" y1="17.2" x2="249.6" y2="32.9" stroke="#2a2a2a" stroke-width="1.0" opacity="0.32" stroke-linecap="round"/><line x1="264.9" y1="54.3" x2="277.1" y2="67.2" stroke="#242424" stroke-width="0.8" opacity="0.44" stroke-linecap="round"/><line x1="202.3" y1="67.3" x2="215.8" y2="81.0" stroke="#242424" stroke-width="0.8" opacity="0.40" stroke-linecap="round"/><line x1="244.6" y1="68.8" x2="264.7" y2="91.5" stroke="#1c1c1c" stroke-width="1.2" opacity="0.33" stroke-linecap="round"/><line x1="242.0" y1="48.0" x2="256.2" y2="61.3" stroke="#161616" stroke-width="1.6" opacity="0.39" stroke-linecap="round"/><line x1="235.2" y1="57.8" x2="238.0" y2="50.1" stroke="#6a6a6a" stroke-width="1.2" opacity="0.48" stroke-linecap="round"/><line x1="231.5" y1="64.9" x2="237.5" y2="52.9" stroke="#868686" stroke-width="1.6" opacity="0.30" stroke-linecap="round"/><line x1="251.2" y1="85.4" x2="252.9" y2="76.7" stroke="#787878" stroke-width="1.4" opacity="0.28" stroke-linecap="round"/><line x1="248.4" y1="62.8" x2="256.4" y2="49.4" stroke="#868686" stroke-width="1.7" opacity="0.35" stroke-linecap="round"/><line x1="219.2" y1="89.2" x2="228.1" y2="72.4" stroke="#787878" stroke-width="0.8" opacity="0.49" stroke-linecap="round"/><line x1="215.0" y1="98.2" x2="222.6" y2="80.6" stroke="#787878" stroke-width="1.2" opacity="0.46" stroke-linecap="round"/><line x1="255.8" y1="84.3" x2="259.8" y2="76.6" stroke="#868686" stroke-width="0.8" opacity="0.19" stroke-linecap="round"/><line x1="231.8" y1="91.7" x2="233.9" y2="82.1" stroke="#6a6a6a" stroke-width="0.7" opacity="0.45" stroke-linecap="round"/><line x1="230.5" y1="62.4" x2="238.8" y2="48.3" stroke="#6a6a6a" stroke-width="1.0" opacity="0.24" stroke-linecap="round"/><line x1="234.2" y1="77.7" x2="239.2" y2="63.8" stroke="#5c5c5c" stroke-width="1.5" opacity="0.29" stroke-linecap="round"/><line x1="212.7" y1="98.2" x2="218.0" y2="87.5" stroke="#5c5c5c" stroke-width="1.9" opacity="0.30" stroke-linecap="round"/><line x1="228.4" y1="81.3" x2="232.5" y2="73.2" stroke="#787878" stroke-width="0.8" opacity="0.49" stroke-linecap="round"/><line x1="206.8" y1="79.5" x2="212.9" y2="69.5" stroke="#787878" stroke-width="0.6" opacity="0.21" stroke-linecap="round"/><line x1="249.2" y1="81.4" x2="255.1" y2="70.6" stroke="#6a6a6a" stroke-width="1.0" opacity="0.29" stroke-linecap="round"/><line x1="214.1" y1="66.5" x2="217.0" y2="50.3" stroke="#787878" stroke-width="1.0" opacity="0.23" stroke-linecap="round"/><line x1="258.2" y1="69.7" x2="260.5" y2="60.4" stroke="#6a6a6a" stroke-width="1.7" opacity="0.26" stroke-linecap="round"/><line x1="217.7" y1="58.0" x2="222.5" y2="49.6" stroke="#5c5c5c" stroke-width="0.8" opacity="0.22" stroke-linecap="round"/><line x1="219.9" y1="91.3" x2="226.6" y2="79.6" stroke="#787878" stroke-width="1.3" opacity="0.36" stroke-linecap="round"/><line x1="230.8" y1="93.3" x2="241.3" y2="74.1" stroke="#868686" stroke-width="1.1" opacity="0.20" stroke-linecap="round"/><line x1="208.4" y1="60.0" x2="214.4" y2="44.8" stroke="#868686" stroke-width="0.6" opacity="0.48" stroke-linecap="round"/><line x1="254.6" y1="73.9" x2="263.5" y2="56.7" stroke="#6a6a6a" stroke-width="1.5" opacity="0.21" stroke-linecap="round"/><line x1="244.8" y1="76.3" x2="249.6" y2="64.0" stroke="#6a6a6a" stroke-width="1.0" opacity="0.41" stroke-linecap="round"/><line x1="226.5" y1="82.0" x2="229.8" y2="72.0" stroke="#6a6a6a" stroke-width="0.7" opacity="0.24" stroke-linecap="round"/><line x1="227.1" y1="76.3" x2="234.7" y2="63.7" stroke="#5c5c5c" stroke-width="1.8" opacity="0.19" stroke-linecap="round"/><line x1="273.6" y1="77.3" x2="291.1" y2="52.0" stroke="#7a7a7a" stroke-width="0.8" opacity="0.62" stroke-linecap="round"/><line x1="263.3" y1="77.1" x2="277.8" y2="51.6" stroke="#7a7a7a" stroke-width="0.7" opacity="0.51" stroke-linecap="round"/><line x1="261.5" y1="80.8" x2="274.8" y2="58.9" stroke="#7a7a7a" stroke-width="1.6" opacity="0.53" stroke-linecap="round"/><line x1="272.8" y1="80.0" x2="289.8" y2="46.7" stroke="#7a7a7a" stroke-width="0.8" opacity="0.43" stroke-linecap="round"/><line x1="280.7" y1="73.9" x2="295.1" y2="52.6" stroke="#7a7a7a" stroke-width="0.9" opacity="0.41" stroke-linecap="round"/><line x1="263.5" y1="69.1" x2="274.8" y2="44.8" stroke="#7a7a7a" stroke-width="1.0" opacity="0.60" stroke-linecap="round"/><line x1="261.2" y1="79.3" x2="272.6" y2="57.0" stroke="#7a7a7a" stroke-width="0.8" opacity="0.38" stroke-linecap="round"/><line x1="274.6" y1="50.1" x2="286.1" y2="31.2" stroke="#7a7a7a" stroke-width="1.4" opacity="0.49" stroke-linecap="round"/><line x1="208.00" y1="34.00" x2="252.00" y2="69.00" stroke="#161616" stroke-width="2.4" stroke-linecap="butt"/><line x1="255.00" y1="64.00" x2="268.00" y2="38.00" stroke="#767676" stroke-width="1.3" stroke-linecap="butt"/><line x1="268.00" y1="70.00" x2="292.00" y2="36.00" stroke="#6a6a6a" stroke-width="1.2" stroke-linecap="butt"/><line x1="222.00" y1="92.00" x2="250.00" y2="74.00" stroke="#202020" stroke-width="1.5" stroke-linecap="butt"/></g>
<g filter="url(#b03)"><line x1="222.4" y1="50.0" x2="227.6" y2="43.7" stroke="#7c7c7c" stroke-width="1.0" opacity="0.37" stroke-linecap="round"/><line x1="271.3" y1="76.3" x2="279.5" y2="64.5" stroke="#8a8a8a" stroke-width="1.2" opacity="0.38" stroke-linecap="round"/><line x1="224.7" y1="61.8" x2="237.8" y2="46.3" stroke="#6e6e6e" stroke-width="0.6" opacity="0.39" stroke-linecap="round"/><line x1="292.3" y1="43.4" x2="300.2" y2="23.0" stroke="#6e6e6e" stroke-width="0.9" opacity="0.48" stroke-linecap="round"/><line x1="244.6" y1="55.3" x2="252.1" y2="42.3" stroke="#7c7c7c" stroke-width="1.1" opacity="0.34" stroke-linecap="round"/><line x1="254.7" y1="59.4" x2="261.5" y2="53.5" stroke="#7c7c7c" stroke-width="0.9" opacity="0.35" stroke-linecap="round"/><line x1="208.1" y1="46.3" x2="213.2" y2="37.4" stroke="#8a8a8a" stroke-width="0.6" opacity="0.33" stroke-linecap="round"/><line x1="253.5" y1="64.6" x2="258.8" y2="57.7" stroke="#7c7c7c" stroke-width="0.7" opacity="0.38" stroke-linecap="round"/><line x1="261.2" y1="48.5" x2="267.8" y2="37.6" stroke="#8a8a8a" stroke-width="0.6" opacity="0.26" stroke-linecap="round"/><line x1="206.8" y1="85.2" x2="211.2" y2="78.8" stroke="#6e6e6e" stroke-width="0.7" opacity="0.30" stroke-linecap="round"/><line x1="269.6" y1="81.8" x2="278.7" y2="69.0" stroke="#7c7c7c" stroke-width="0.8" opacity="0.34" stroke-linecap="round"/><line x1="256.1" y1="48.2" x2="270.4" y2="33.3" stroke="#8a8a8a" stroke-width="0.6" opacity="0.39" stroke-linecap="round"/><line x1="227.0" y1="97.4" x2="231.4" y2="86.4" stroke="#6e6e6e" stroke-width="0.6" opacity="0.31" stroke-linecap="round"/><line x1="265.2" y1="80.7" x2="272.3" y2="66.9" stroke="#6e6e6e" stroke-width="1.2" opacity="0.39" stroke-linecap="round"/><line x1="226.4" y1="48.9" x2="233.4" y2="36.8" stroke="#7c7c7c" stroke-width="0.6" opacity="0.40" stroke-linecap="round"/><line x1="237.2" y1="71.8" x2="251.8" y2="57.6" stroke="#7c7c7c" stroke-width="0.9" opacity="0.30" stroke-linecap="round"/><line x1="274.8" y1="77.9" x2="285.8" y2="67.2" stroke="#6e6e6e" stroke-width="1.1" opacity="0.29" stroke-linecap="round"/><line x1="280.9" y1="31.0" x2="287.0" y2="20.7" stroke="#6e6e6e" stroke-width="0.6" opacity="0.27" stroke-linecap="round"/><line x1="217.2" y1="62.1" x2="222.2" y2="50.3" stroke="#8a8a8a" stroke-width="0.8" opacity="0.45" stroke-linecap="round"/><line x1="213.9" y1="41.0" x2="226.4" y2="24.8" stroke="#8a8a8a" stroke-width="1.2" opacity="0.43" stroke-linecap="round"/><line x1="231.2" y1="34.0" x2="236.2" y2="23.8" stroke="#6e6e6e" stroke-width="1.2" opacity="0.35" stroke-linecap="round"/><line x1="224.5" y1="70.5" x2="231.0" y2="62.6" stroke="#8a8a8a" stroke-width="0.9" opacity="0.45" stroke-linecap="round"/><line x1="223.8" y1="64.6" x2="232.8" y2="56.9" stroke="#8a8a8a" stroke-width="1.1" opacity="0.37" stroke-linecap="round"/><line x1="274.5" y1="91.6" x2="280.9" y2="79.1" stroke="#8a8a8a" stroke-width="0.8" opacity="0.41" stroke-linecap="round"/><line x1="221.4" y1="49.7" x2="227.3" y2="38.2" stroke="#7c7c7c" stroke-width="0.7" opacity="0.49" stroke-linecap="round"/><line x1="259.8" y1="53.8" x2="266.1" y2="38.9" stroke="#7c7c7c" stroke-width="1.2" opacity="0.26" stroke-linecap="round"/><line x1="256.8" y1="85.8" x2="266.8" y2="72.5" stroke="#8a8a8a" stroke-width="0.7" opacity="0.32" stroke-linecap="round"/><line x1="272.0" y1="81.3" x2="280.3" y2="69.8" stroke="#7c7c7c" stroke-width="0.7" opacity="0.49" stroke-linecap="round"/><line x1="266.0" y1="33.7" x2="281.7" y2="19.3" stroke="#7c7c7c" stroke-width="0.5" opacity="0.36" stroke-linecap="round"/><line x1="281.6" y1="34.1" x2="290.2" y2="19.2" stroke="#8a8a8a" stroke-width="0.5" opacity="0.50" stroke-linecap="round"/><line x1="255.2" y1="39.4" x2="264.3" y2="23.1" stroke="#6e6e6e" stroke-width="0.6" opacity="0.39" stroke-linecap="round"/><line x1="241.6" y1="96.0" x2="248.0" y2="84.3" stroke="#7c7c7c" stroke-width="1.3" opacity="0.28" stroke-linecap="round"/><line x1="271.8" y1="90.6" x2="284.6" y2="78.8" stroke="#6e6e6e" stroke-width="0.5" opacity="0.35" stroke-linecap="round"/><line x1="230.7" y1="56.8" x2="235.0" y2="45.9" stroke="#6e6e6e" stroke-width="0.8" opacity="0.48" stroke-linecap="round"/><line x1="263.9" y1="79.4" x2="272.2" y2="71.2" stroke="#7c7c7c" stroke-width="0.9" opacity="0.32" stroke-linecap="round"/><line x1="264.4" y1="81.1" x2="270.8" y2="64.9" stroke="#6e6e6e" stroke-width="0.7" opacity="0.49" stroke-linecap="round"/><line x1="242.0" y1="93.9" x2="249.0" y2="82.6" stroke="#7c7c7c" stroke-width="0.8" opacity="0.31" stroke-linecap="round"/><line x1="264.6" y1="52.9" x2="268.3" y2="42.9" stroke="#8a8a8a" stroke-width="1.3" opacity="0.28" stroke-linecap="round"/><line x1="249.0" y1="74.4" x2="257.2" y2="57.1" stroke="#7c7c7c" stroke-width="1.3" opacity="0.45" stroke-linecap="round"/><line x1="237.2" y1="49.4" x2="250.1" y2="34.1" stroke="#7c7c7c" stroke-width="0.6" opacity="0.50" stroke-linecap="round"/><line x1="287.0" y1="75.8" x2="290.9" y2="68.0" stroke="#6e6e6e" stroke-width="0.9" opacity="0.37" stroke-linecap="round"/><line x1="202.6" y1="49.2" x2="212.4" y2="35.7" stroke="#8a8a8a" stroke-width="1.1" opacity="0.37" stroke-linecap="round"/><line x1="227.9" y1="59.9" x2="234.8" y2="44.0" stroke="#8a8a8a" stroke-width="1.2" opacity="0.47" stroke-linecap="round"/><line x1="217.0" y1="72.3" x2="220.9" y2="63.1" stroke="#7c7c7c" stroke-width="1.2" opacity="0.47" stroke-linecap="round"/><line x1="224.5" y1="53.9" x2="230.1" y2="44.7" stroke="#8a8a8a" stroke-width="0.8" opacity="0.31" stroke-linecap="round"/><line x1="244.1" y1="39.7" x2="249.3" y2="33.0" stroke="#141414" stroke-width="0.7" opacity="0.32" stroke-linecap="round"/><line x1="282.8" y1="56.2" x2="288.8" y2="44.0" stroke="#1e1e1e" stroke-width="0.6" opacity="0.46" stroke-linecap="round"/><line x1="206.9" y1="58.6" x2="211.6" y2="51.2" stroke="#1e1e1e" stroke-width="0.9" opacity="0.44" stroke-linecap="round"/><line x1="226.7" y1="89.3" x2="231.0" y2="78.6" stroke="#141414" stroke-width="0.5" opacity="0.47" stroke-linecap="round"/><line x1="231.8" y1="91.3" x2="236.7" y2="86.8" stroke="#141414" stroke-width="0.9" opacity="0.49" stroke-linecap="round"/><line x1="219.8" y1="54.6" x2="235.8" y2="41.0" stroke="#1e1e1e" stroke-width="1.0" opacity="0.56" stroke-linecap="round"/><line x1="260.7" y1="58.5" x2="272.1" y2="48.3" stroke="#141414" stroke-width="0.6" opacity="0.33" stroke-linecap="round"/><line x1="203.8" y1="84.3" x2="213.7" y2="71.2" stroke="#1e1e1e" stroke-width="0.6" opacity="0.52" stroke-linecap="round"/><line x1="231.8" y1="48.8" x2="240.9" y2="40.8" stroke="#1e1e1e" stroke-width="1.0" opacity="0.41" stroke-linecap="round"/><line x1="215.1" y1="33.1" x2="222.1" y2="23.4" stroke="#141414" stroke-width="1.1" opacity="0.42" stroke-linecap="round"/><line x1="257.7" y1="71.2" x2="266.3" y2="59.8" stroke="#1e1e1e" stroke-width="0.7" opacity="0.48" stroke-linecap="round"/><line x1="289.5" y1="38.1" x2="294.3" y2="25.9" stroke="#141414" stroke-width="1.3" opacity="0.41" stroke-linecap="round"/><line x1="206.3" y1="52.8" x2="220.8" y2="40.2" stroke="#1e1e1e" stroke-width="0.5" opacity="0.45" stroke-linecap="round"/><line x1="286.0" y1="40.7" x2="295.2" y2="27.1" stroke="#141414" stroke-width="0.6" opacity="0.34" stroke-linecap="round"/><line x1="242.8" y1="50.5" x2="253.9" y2="33.8" stroke="#1e1e1e" stroke-width="0.9" opacity="0.45" stroke-linecap="round"/><line x1="237.7" y1="54.5" x2="250.0" y2="43.9" stroke="#1e1e1e" stroke-width="0.7" opacity="0.44" stroke-linecap="round"/><line x1="223.3" y1="54.8" x2="234.1" y2="44.4" stroke="#141414" stroke-width="1.3" opacity="0.55" stroke-linecap="round"/><line x1="210.0" y1="94.9" x2="213.7" y2="87.6" stroke="#1e1e1e" stroke-width="0.5" opacity="0.39" stroke-linecap="round"/><line x1="282.8" y1="43.5" x2="292.8" y2="27.8" stroke="#1e1e1e" stroke-width="0.6" opacity="0.34" stroke-linecap="round"/><line x1="278.1" y1="32.8" x2="289.3" y2="21.1" stroke="#141414" stroke-width="0.9" opacity="0.48" stroke-linecap="round"/><line x1="216.9" y1="32.0" x2="221.9" y2="19.8" stroke="#141414" stroke-width="0.5" opacity="0.53" stroke-linecap="round"/><line x1="223.7" y1="61.1" x2="236.9" y2="46.8" stroke="#1e1e1e" stroke-width="0.6" opacity="0.43" stroke-linecap="round"/><line x1="222.6" y1="78.5" x2="229.0" y2="63.4" stroke="#141414" stroke-width="0.5" opacity="0.54" stroke-linecap="round"/><line x1="209.9" y1="48.0" x2="220.2" y2="34.0" stroke="#1e1e1e" stroke-width="1.2" opacity="0.36" stroke-linecap="round"/><line x1="257.8" y1="67.9" x2="261.2" y2="61.9" stroke="#1e1e1e" stroke-width="0.7" opacity="0.54" stroke-linecap="round"/><line x1="227.2" y1="59.6" x2="236.8" y2="42.7" stroke="#141414" stroke-width="0.7" opacity="0.37" stroke-linecap="round"/><line x1="243.0" y1="47.2" x2="251.3" y2="35.7" stroke="#1e1e1e" stroke-width="1.3" opacity="0.43" stroke-linecap="round"/><line x1="286.9" y1="56.7" x2="290.6" y2="50.7" stroke="#1e1e1e" stroke-width="0.6" opacity="0.34" stroke-linecap="round"/><line x1="215.3" y1="67.3" x2="220.8" y2="57.4" stroke="#1e1e1e" stroke-width="0.5" opacity="0.54" stroke-linecap="round"/><line x1="216.6" y1="59.8" x2="222.1" y2="53.2" stroke="#1e1e1e" stroke-width="1.2" opacity="0.44" stroke-linecap="round"/><line x1="208.1" y1="41.7" x2="217.9" y2="28.4" stroke="#141414" stroke-width="0.9" opacity="0.54" stroke-linecap="round"/><line x1="256.4" y1="92.5" x2="266.7" y2="77.7" stroke="#1e1e1e" stroke-width="0.9" opacity="0.51" stroke-linecap="round"/><line x1="287.2" y1="60.8" x2="293.7" y2="44.2" stroke="#141414" stroke-width="1.4" opacity="0.43" stroke-linecap="round"/><line x1="282.9" y1="52.6" x2="287.2" y2="48.2" stroke="#141414" stroke-width="1.0" opacity="0.49" stroke-linecap="round"/><line x1="287.3" y1="73.4" x2="292.5" y2="59.2" stroke="#141414" stroke-width="0.9" opacity="0.51" stroke-linecap="round"/><line x1="222.1" y1="46.7" x2="228.0" y2="31.1" stroke="#1e1e1e" stroke-width="0.6" opacity="0.43" stroke-linecap="round"/><line x1="240.3" y1="81.6" x2="248.9" y2="73.7" stroke="#1e1e1e" stroke-width="0.9" opacity="0.40" stroke-linecap="round"/><line x1="218.3" y1="55.3" x2="234.2" y2="40.1" stroke="#1e1e1e" stroke-width="0.5" opacity="0.49" stroke-linecap="round"/><line x1="255.1" y1="48.1" x2="269.0" y2="32.0" stroke="#1e1e1e" stroke-width="0.8" opacity="0.40" stroke-linecap="round"/><line x1="280.5" y1="67.6" x2="294.4" y2="55.4" stroke="#141414" stroke-width="1.0" opacity="0.34" stroke-linecap="round"/><line x1="266.2" y1="85.6" x2="275.9" y2="68.5" stroke="#141414" stroke-width="0.6" opacity="0.34" stroke-linecap="round"/><line x1="286.9" y1="40.5" x2="290.1" y2="35.0" stroke="#141414" stroke-width="0.6" opacity="0.53" stroke-linecap="round"/><line x1="266.2" y1="86.0" x2="274.0" y2="75.0" stroke="#1e1e1e" stroke-width="0.6" opacity="0.34" stroke-linecap="round"/><line x1="205.0" y1="42.9" x2="211.8" y2="29.3" stroke="#141414" stroke-width="0.8" opacity="0.46" stroke-linecap="round"/><line x1="255.7" y1="41.4" x2="261.4" y2="27.5" stroke="#1e1e1e" stroke-width="0.6" opacity="0.31" stroke-linecap="round"/></g>
<rect x="207.00" y="24.80" width="90.50" height="68.20" fill="#8c8c8c" filter="url(#nzf)" opacity="0.28"/>
<rect x="207.00" y="24.80" width="90.50" height="68.20" fill="#000" filter="url(#nzd)" opacity="0.30"/>
<g filter="url(#bl)">
<circle cx="252.30" cy="70.50" r="2.6" fill="#7e3430"/>
<circle cx="247.50" cy="72.50" r="2.0" fill="#3a5a50"/>
</g>
<line x1="268.60" y1="80.60" x2="258.30" y2="75.00" stroke="#fff" stroke-width="1.3" stroke-linecap="round"/><line x1="258.30" y1="75.00" x2="261.90" y2="74.99" stroke="#fff" stroke-width="1.3" stroke-linecap="round"/><line x1="258.30" y1="75.00" x2="260.25" y2="78.03" stroke="#fff" stroke-width="1.3" stroke-linecap="round"/>
</g>
<text transform="translate(209.60,35.90) scale(0.975,1)" font-size="9.4" text-anchor="start" font-weight="normal" fill="#f0f0f0" stroke="#f0f0f0" stroke-width="0.18" >01:00.503</text>
<text transform="translate(345.60,19.60)" font-size="10.2" text-anchor="middle" font-weight="bold" fill="#000" stroke="#000" stroke-width="0.18" >PSI C1</text>
<clipPath id="cl3"><rect x="300.8" y="24.8" width="90.00" height="68.20"/></clipPath>
<g clip-path="url(#cl3)">
<rect x="300.80" y="24.80" width="90.00" height="68.20" fill="#3a3a3a" />
<g filter="url(#bl2)"><polygon points="353.0,24.8 390.8,24.8 390.8,65.7 356.6,62.3" fill="#646464" /><polygon points="327.8,58.9 390.8,62.3 390.8,93.0 332.3,93.0" fill="#4c4c4c" /><polygon points="300.8,24.8 318.8,24.8 317.0,93.0 300.8,93.0" fill="#1a1a1a" /><polygon points="309.8,24.8 350.3,24.8 345.8,52.1 309.8,52.1" fill="#282828" /></g>
<rect x="300.80" y="24.80" width="90.00" height="68.20" fill="#8a8a8a" filter="url(#nzm)" opacity="0.20"/>
<rect x="300.80" y="24.80" width="90.00" height="68.20" fill="#000" filter="url(#nzn)" opacity="0.28"/>
<g filter="url(#b05)"><line x1="322.8" y1="44.2" x2="323.3" y2="26.3" stroke="#6a6a6a" stroke-width="2.9" opacity="0.29" stroke-linecap="round"/><line x1="317.1" y1="68.0" x2="319.4" y2="30.7" stroke="#6a6a6a" stroke-width="1.3" opacity="0.32" stroke-linecap="round"/><line x1="347.0" y1="63.3" x2="345.4" y2="31.4" stroke="#6a6a6a" stroke-width="1.2" opacity="0.53" stroke-linecap="round"/><line x1="383.7" y1="56.4" x2="384.4" y2="28.5" stroke="#6a6a6a" stroke-width="1.4" opacity="0.57" stroke-linecap="round"/><line x1="321.3" y1="50.0" x2="320.2" y2="21.6" stroke="#868686" stroke-width="3.1" opacity="0.29" stroke-linecap="round"/><line x1="387.6" y1="57.2" x2="388.5" y2="21.7" stroke="#5c5c5c" stroke-width="2.1" opacity="0.47" stroke-linecap="round"/><line x1="373.3" y1="65.9" x2="375.6" y2="25.9" stroke="#6a6a6a" stroke-width="3.0" opacity="0.56" stroke-linecap="round"/><line x1="378.0" y1="104.1" x2="381.9" y2="71.1" stroke="#787878" stroke-width="1.3" opacity="0.49" stroke-linecap="round"/><line x1="371.5" y1="94.1" x2="370.8" y2="73.0" stroke="#868686" stroke-width="1.0" opacity="0.52" stroke-linecap="round"/><line x1="382.0" y1="67.0" x2="384.0" y2="21.5" stroke="#868686" stroke-width="1.1" opacity="0.40" stroke-linecap="round"/><line x1="352.9" y1="86.8" x2="353.6" y2="37.7" stroke="#6a6a6a" stroke-width="1.9" opacity="0.46" stroke-linecap="round"/><line x1="355.6" y1="55.2" x2="354.9" y2="26.1" stroke="#868686" stroke-width="2.2" opacity="0.44" stroke-linecap="round"/><line x1="342.3" y1="48.3" x2="342.4" y2="6.6" stroke="#6a6a6a" stroke-width="1.2" opacity="0.57" stroke-linecap="round"/><line x1="368.9" y1="60.9" x2="368.7" y2="33.5" stroke="#787878" stroke-width="1.0" opacity="0.51" stroke-linecap="round"/><line x1="302.0" y1="85.9" x2="303.3" y2="69.2" stroke="#868686" stroke-width="1.0" opacity="0.41" stroke-linecap="round"/><line x1="386.3" y1="100.7" x2="386.8" y2="79.1" stroke="#5c5c5c" stroke-width="0.7" opacity="0.41" stroke-linecap="round"/><line x1="378.0" y1="106.3" x2="379.7" y2="70.3" stroke="#5c5c5c" stroke-width="1.5" opacity="0.51" stroke-linecap="round"/><line x1="367.5" y1="60.2" x2="367.6" y2="31.4" stroke="#5c5c5c" stroke-width="1.0" opacity="0.28" stroke-linecap="round"/><line x1="365.6" y1="90.4" x2="364.9" y2="66.0" stroke="#5c5c5c" stroke-width="1.0" opacity="0.29" stroke-linecap="round"/><line x1="345.7" y1="92.2" x2="349.2" y2="44.1" stroke="#6a6a6a" stroke-width="0.7" opacity="0.50" stroke-linecap="round"/><line x1="305.4" y1="73.2" x2="303.8" y2="36.5" stroke="#787878" stroke-width="1.2" opacity="0.53" stroke-linecap="round"/><line x1="317.2" y1="108.9" x2="321.1" y2="62.9" stroke="#6a6a6a" stroke-width="1.8" opacity="0.62" stroke-linecap="round"/><line x1="354.6" y1="98.7" x2="357.5" y2="70.1" stroke="#787878" stroke-width="1.3" opacity="0.62" stroke-linecap="round"/><line x1="336.4" y1="88.5" x2="337.9" y2="67.0" stroke="#787878" stroke-width="2.1" opacity="0.32" stroke-linecap="round"/><line x1="330.6" y1="59.3" x2="329.9" y2="20.9" stroke="#868686" stroke-width="2.5" opacity="0.33" stroke-linecap="round"/><line x1="310.9" y1="78.9" x2="312.9" y2="30.0" stroke="#868686" stroke-width="2.0" opacity="0.60" stroke-linecap="round"/><line x1="367.6" y1="82.4" x2="369.2" y2="46.5" stroke="#6a6a6a" stroke-width="1.1" opacity="0.57" stroke-linecap="round"/><line x1="308.7" y1="38.4" x2="310.1" y2="24.3" stroke="#868686" stroke-width="1.6" opacity="0.57" stroke-linecap="round"/><line x1="333.7" y1="40.6" x2="333.0" y2="18.1" stroke="#787878" stroke-width="1.5" opacity="0.56" stroke-linecap="round"/><line x1="345.2" y1="67.6" x2="347.7" y2="40.3" stroke="#5c5c5c" stroke-width="2.7" opacity="0.29" stroke-linecap="round"/><line x1="303.2" y1="82.5" x2="303.5" y2="33.1" stroke="#868686" stroke-width="0.8" opacity="0.53" stroke-linecap="round"/><line x1="329.0" y1="82.1" x2="329.3" y2="60.2" stroke="#5c5c5c" stroke-width="1.2" opacity="0.50" stroke-linecap="round"/><line x1="351.2" y1="57.9" x2="350.5" y2="37.6" stroke="#6a6a6a" stroke-width="2.0" opacity="0.48" stroke-linecap="round"/><line x1="317.1" y1="66.1" x2="315.1" y2="16.5" stroke="#5c5c5c" stroke-width="1.1" opacity="0.31" stroke-linecap="round"/><line x1="340.2" y1="98.2" x2="340.4" y2="84.1" stroke="#5c5c5c" stroke-width="1.9" opacity="0.38" stroke-linecap="round"/><line x1="303.7" y1="94.3" x2="304.8" y2="48.0" stroke="#787878" stroke-width="3.0" opacity="0.54" stroke-linecap="round"/><line x1="366.3" y1="50.8" x2="368.5" y2="9.1" stroke="#5c5c5c" stroke-width="2.6" opacity="0.55" stroke-linecap="round"/><line x1="372.2" y1="63.2" x2="377.7" y2="17.8" stroke="#868686" stroke-width="0.9" opacity="0.28" stroke-linecap="round"/><line x1="347.8" y1="48.1" x2="348.5" y2="21.4" stroke="#6a6a6a" stroke-width="1.6" opacity="0.29" stroke-linecap="round"/><line x1="300.7" y1="104.9" x2="301.2" y2="67.8" stroke="#5c5c5c" stroke-width="0.6" opacity="0.45" stroke-linecap="round"/><line x1="358.3" y1="110.8" x2="358.0" y2="65.3" stroke="#6a6a6a" stroke-width="2.1" opacity="0.38" stroke-linecap="round"/><line x1="324.4" y1="54.4" x2="323.7" y2="21.0" stroke="#868686" stroke-width="1.8" opacity="0.55" stroke-linecap="round"/><line x1="363.1" y1="67.6" x2="363.3" y2="31.0" stroke="#787878" stroke-width="0.7" opacity="0.44" stroke-linecap="round"/><line x1="346.8" y1="90.3" x2="351.5" y2="44.3" stroke="#6a6a6a" stroke-width="2.5" opacity="0.59" stroke-linecap="round"/><line x1="311.8" y1="84.2" x2="313.2" y2="70.1" stroke="#868686" stroke-width="2.2" opacity="0.29" stroke-linecap="round"/><line x1="352.1" y1="77.7" x2="352.2" y2="48.5" stroke="#787878" stroke-width="1.0" opacity="0.38" stroke-linecap="round"/><line x1="380.9" y1="91.9" x2="381.3" y2="68.3" stroke="#787878" stroke-width="0.8" opacity="0.43" stroke-linecap="round"/><line x1="348.0" y1="36.3" x2="348.8" y2="15.0" stroke="#787878" stroke-width="2.3" opacity="0.36" stroke-linecap="round"/><line x1="386.5" y1="52.5" x2="388.2" y2="24.9" stroke="#6a6a6a" stroke-width="1.2" opacity="0.50" stroke-linecap="round"/><line x1="366.5" y1="81.8" x2="366.5" y2="36.3" stroke="#5c5c5c" stroke-width="1.5" opacity="0.36" stroke-linecap="round"/><line x1="307.2" y1="44.6" x2="309.2" y2="13.3" stroke="#6a6a6a" stroke-width="1.1" opacity="0.49" stroke-linecap="round"/><line x1="337.4" y1="59.3" x2="336.3" y2="36.1" stroke="#787878" stroke-width="2.1" opacity="0.51" stroke-linecap="round"/><line x1="362.9" y1="97.9" x2="364.6" y2="71.8" stroke="#5c5c5c" stroke-width="1.3" opacity="0.49" stroke-linecap="round"/><line x1="382.3" y1="104.7" x2="385.5" y2="54.8" stroke="#787878" stroke-width="0.7" opacity="0.44" stroke-linecap="round"/><line x1="380.4" y1="54.1" x2="379.3" y2="29.2" stroke="#242424" stroke-width="1.5" opacity="0.52" stroke-linecap="round"/><line x1="317.9" y1="105.2" x2="319.9" y2="76.3" stroke="#2a2a2a" stroke-width="1.9" opacity="0.48" stroke-linecap="round"/><line x1="335.4" y1="108.0" x2="337.8" y2="75.8" stroke="#1c1c1c" stroke-width="1.2" opacity="0.64" stroke-linecap="round"/><line x1="341.2" y1="40.0" x2="343.5" y2="12.1" stroke="#242424" stroke-width="2.9" opacity="0.70" stroke-linecap="round"/><line x1="311.6" y1="73.5" x2="312.9" y2="42.8" stroke="#161616" stroke-width="2.5" opacity="0.46" stroke-linecap="round"/><line x1="385.1" y1="61.5" x2="383.9" y2="15.2" stroke="#2a2a2a" stroke-width="1.3" opacity="0.74" stroke-linecap="round"/><line x1="346.0" y1="65.7" x2="349.2" y2="20.0" stroke="#161616" stroke-width="0.9" opacity="0.48" stroke-linecap="round"/><line x1="336.7" y1="59.8" x2="335.7" y2="26.8" stroke="#161616" stroke-width="2.0" opacity="0.44" stroke-linecap="round"/><line x1="373.7" y1="50.4" x2="373.2" y2="34.7" stroke="#2a2a2a" stroke-width="1.7" opacity="0.59" stroke-linecap="round"/><line x1="362.3" y1="94.4" x2="366.8" y2="57.8" stroke="#242424" stroke-width="1.3" opacity="0.52" stroke-linecap="round"/><line x1="381.3" y1="100.2" x2="381.8" y2="71.2" stroke="#161616" stroke-width="0.9" opacity="0.62" stroke-linecap="round"/><line x1="317.8" y1="98.1" x2="322.9" y2="53.2" stroke="#242424" stroke-width="1.0" opacity="0.39" stroke-linecap="round"/><line x1="337.2" y1="73.6" x2="341.7" y2="32.9" stroke="#242424" stroke-width="1.3" opacity="0.62" stroke-linecap="round"/><line x1="323.8" y1="84.7" x2="322.0" y2="44.4" stroke="#161616" stroke-width="1.2" opacity="0.49" stroke-linecap="round"/><line x1="324.2" y1="81.8" x2="325.0" y2="37.4" stroke="#161616" stroke-width="2.0" opacity="0.72" stroke-linecap="round"/><line x1="380.4" y1="69.8" x2="381.8" y2="24.2" stroke="#242424" stroke-width="1.7" opacity="0.41" stroke-linecap="round"/><line x1="312.8" y1="39.5" x2="315.5" y2="11.2" stroke="#2a2a2a" stroke-width="0.8" opacity="0.54" stroke-linecap="round"/><line x1="372.8" y1="81.8" x2="371.8" y2="43.1" stroke="#2a2a2a" stroke-width="1.7" opacity="0.38" stroke-linecap="round"/><line x1="364.0" y1="72.4" x2="365.3" y2="50.0" stroke="#2a2a2a" stroke-width="1.4" opacity="0.74" stroke-linecap="round"/><line x1="344.0" y1="47.4" x2="342.8" y2="6.8" stroke="#2a2a2a" stroke-width="1.5" opacity="0.52" stroke-linecap="round"/><line x1="384.5" y1="89.4" x2="385.0" y2="45.1" stroke="#1c1c1c" stroke-width="1.3" opacity="0.55" stroke-linecap="round"/><line x1="337.9" y1="73.3" x2="339.6" y2="46.6" stroke="#1c1c1c" stroke-width="1.6" opacity="0.43" stroke-linecap="round"/><line x1="319.0" y1="82.0" x2="322.0" y2="51.9" stroke="#1c1c1c" stroke-width="2.7" opacity="0.41" stroke-linecap="round"/><line x1="300.9" y1="52.9" x2="302.0" y2="11.3" stroke="#242424" stroke-width="1.2" opacity="0.52" stroke-linecap="round"/><line x1="377.9" y1="50.7" x2="377.1" y2="16.3" stroke="#242424" stroke-width="1.3" opacity="0.63" stroke-linecap="round"/><line x1="320.2" y1="80.6" x2="321.6" y2="40.2" stroke="#161616" stroke-width="1.8" opacity="0.56" stroke-linecap="round"/><line x1="390.1" y1="94.8" x2="390.1" y2="57.5" stroke="#161616" stroke-width="1.6" opacity="0.41" stroke-linecap="round"/><line x1="366.2" y1="81.2" x2="368.7" y2="45.7" stroke="#2a2a2a" stroke-width="1.0" opacity="0.74" stroke-linecap="round"/><line x1="355.0" y1="56.5" x2="356.5" y2="16.6" stroke="#2a2a2a" stroke-width="2.2" opacity="0.43" stroke-linecap="round"/><line x1="376.3" y1="88.9" x2="375.4" y2="57.8" stroke="#161616" stroke-width="2.1" opacity="0.58" stroke-linecap="round"/><line x1="309.3" y1="108.6" x2="309.7" y2="75.1" stroke="#2a2a2a" stroke-width="0.9" opacity="0.58" stroke-linecap="round"/><line x1="307.4" y1="74.4" x2="312.5" y2="27.2" stroke="#2a2a2a" stroke-width="1.2" opacity="0.58" stroke-linecap="round"/><line x1="332.8" y1="60.6" x2="333.1" y2="35.3" stroke="#242424" stroke-width="1.1" opacity="0.54" stroke-linecap="round"/><line x1="338.1" y1="62.8" x2="340.4" y2="26.8" stroke="#242424" stroke-width="0.9" opacity="0.69" stroke-linecap="round"/><line x1="306.7" y1="102.6" x2="305.5" y2="77.0" stroke="#2a2a2a" stroke-width="1.6" opacity="0.62" stroke-linecap="round"/><line x1="329.8" y1="51.1" x2="332.3" y2="11.1" stroke="#242424" stroke-width="1.2" opacity="0.51" stroke-linecap="round"/><line x1="366.1" y1="112.1" x2="364.3" y2="68.6" stroke="#161616" stroke-width="2.7" opacity="0.50" stroke-linecap="round"/><line x1="319.4" y1="47.7" x2="319.6" y2="7.9" stroke="#242424" stroke-width="1.0" opacity="0.42" stroke-linecap="round"/><line x1="315.8" y1="79.9" x2="319.0" y2="44.9" stroke="#2a2a2a" stroke-width="2.1" opacity="0.41" stroke-linecap="round"/><line x1="346.1" y1="44.7" x2="347.9" y2="8.5" stroke="#161616" stroke-width="1.7" opacity="0.64" stroke-linecap="round"/><line x1="381.7" y1="109.0" x2="382.2" y2="75.6" stroke="#242424" stroke-width="2.3" opacity="0.61" stroke-linecap="round"/><line x1="370.8" y1="89.3" x2="369.7" y2="50.5" stroke="#1c1c1c" stroke-width="1.3" opacity="0.46" stroke-linecap="round"/><line x1="330.5" y1="76.6" x2="330.5" y2="62.3" stroke="#2a2a2a" stroke-width="1.9" opacity="0.49" stroke-linecap="round"/><line x1="329.3" y1="36.1" x2="329.1" y2="16.2" stroke="#242424" stroke-width="0.7" opacity="0.72" stroke-linecap="round"/><line x1="350.0" y1="77.9" x2="351.8" y2="38.8" stroke="#242424" stroke-width="1.0" opacity="0.61" stroke-linecap="round"/><line x1="359.3" y1="81.3" x2="360.4" y2="37.2" stroke="#242424" stroke-width="0.7" opacity="0.62" stroke-linecap="round"/><line x1="370.2" y1="59.5" x2="373.1" y2="35.1" stroke="#242424" stroke-width="1.5" opacity="0.59" stroke-linecap="round"/><line x1="303.9" y1="43.7" x2="303.0" y2="17.2" stroke="#161616" stroke-width="0.6" opacity="0.69" stroke-linecap="round"/><line x1="355.8" y1="46.3" x2="357.0" y2="17.7" stroke="#242424" stroke-width="1.4" opacity="0.57" stroke-linecap="round"/><line x1="322.6" y1="51.7" x2="326.9" y2="8.8" stroke="#242424" stroke-width="1.3" opacity="0.56" stroke-linecap="round"/><line x1="363.1" y1="48.2" x2="364.6" y2="5.9" stroke="#2a2a2a" stroke-width="1.9" opacity="0.48" stroke-linecap="round"/><line x1="363.2" y1="70.6" x2="364.3" y2="49.3" stroke="#1c1c1c" stroke-width="1.2" opacity="0.57" stroke-linecap="round"/><line x1="349.2" y1="38.2" x2="351.2" y2="18.3" stroke="#242424" stroke-width="2.9" opacity="0.39" stroke-linecap="round"/><line x1="301.1" y1="102.7" x2="300.6" y2="65.0" stroke="#242424" stroke-width="1.3" opacity="0.43" stroke-linecap="round"/><line x1="302.5" y1="70.2" x2="311.6" y2="69.8" stroke="#1c1c1c" stroke-width="1.3" opacity="0.32" stroke-linecap="round"/><line x1="326.6" y1="87.0" x2="337.8" y2="87.5" stroke="#2a2a2a" stroke-width="0.6" opacity="0.38" stroke-linecap="round"/><line x1="385.5" y1="31.9" x2="395.6" y2="32.3" stroke="#242424" stroke-width="1.4" opacity="0.41" stroke-linecap="round"/><line x1="360.0" y1="69.5" x2="389.5" y2="65.7" stroke="#161616" stroke-width="0.6" opacity="0.32" stroke-linecap="round"/><line x1="299.0" y1="51.6" x2="318.1" y2="52.7" stroke="#2a2a2a" stroke-width="1.3" opacity="0.26" stroke-linecap="round"/><line x1="382.0" y1="45.9" x2="393.0" y2="46.3" stroke="#161616" stroke-width="1.5" opacity="0.28" stroke-linecap="round"/><line x1="320.9" y1="79.8" x2="334.9" y2="79.1" stroke="#1c1c1c" stroke-width="1.2" opacity="0.40" stroke-linecap="round"/><line x1="309.6" y1="85.7" x2="337.6" y2="83.6" stroke="#242424" stroke-width="1.0" opacity="0.29" stroke-linecap="round"/><line x1="365.8" y1="70.3" x2="377.7" y2="71.4" stroke="#2a2a2a" stroke-width="0.5" opacity="0.38" stroke-linecap="round"/><line x1="359.6" y1="51.0" x2="378.1" y2="48.9" stroke="#242424" stroke-width="0.9" opacity="0.38" stroke-linecap="round"/><line x1="321.4" y1="38.8" x2="329.9" y2="37.6" stroke="#2a2a2a" stroke-width="0.5" opacity="0.35" stroke-linecap="round"/><line x1="364.4" y1="83.1" x2="386.4" y2="85.3" stroke="#161616" stroke-width="1.7" opacity="0.33" stroke-linecap="round"/><line x1="352.5" y1="88.4" x2="367.0" y2="87.8" stroke="#242424" stroke-width="0.5" opacity="0.43" stroke-linecap="round"/><line x1="315.6" y1="27.7" x2="332.7" y2="29.8" stroke="#242424" stroke-width="1.0" opacity="0.49" stroke-linecap="round"/><line x1="320.1" y1="61.1" x2="338.3" y2="62.0" stroke="#161616" stroke-width="1.4" opacity="0.48" stroke-linecap="round"/><line x1="343.3" y1="28.8" x2="371.0" y2="28.6" stroke="#161616" stroke-width="0.8" opacity="0.44" stroke-linecap="round"/><line x1="357.8" y1="33.7" x2="378.2" y2="31.7" stroke="#242424" stroke-width="0.6" opacity="0.46" stroke-linecap="round"/><line x1="369.4" y1="91.4" x2="398.5" y2="89.4" stroke="#161616" stroke-width="0.9" opacity="0.31" stroke-linecap="round"/><line x1="381.6" y1="82.2" x2="387.6" y2="68.6" stroke="#6a6a6a" stroke-width="0.8" opacity="0.35" stroke-linecap="round"/><line x1="373.8" y1="69.3" x2="382.8" y2="53.0" stroke="#6a6a6a" stroke-width="1.0" opacity="0.35" stroke-linecap="round"/><line x1="353.8" y1="91.8" x2="360.5" y2="81.2" stroke="#787878" stroke-width="0.6" opacity="0.48" stroke-linecap="round"/><line x1="361.0" y1="62.3" x2="366.7" y2="51.5" stroke="#5c5c5c" stroke-width="1.1" opacity="0.44" stroke-linecap="round"/><line x1="358.3" y1="91.6" x2="369.5" y2="74.3" stroke="#6a6a6a" stroke-width="1.1" opacity="0.42" stroke-linecap="round"/><line x1="349.7" y1="95.9" x2="355.1" y2="79.6" stroke="#5c5c5c" stroke-width="0.9" opacity="0.44" stroke-linecap="round"/><line x1="377.7" y1="65.0" x2="383.8" y2="53.3" stroke="#787878" stroke-width="0.5" opacity="0.31" stroke-linecap="round"/><line x1="369.8" y1="70.7" x2="378.8" y2="45.8" stroke="#787878" stroke-width="0.9" opacity="0.26" stroke-linecap="round"/><line x1="343.8" y1="89.5" x2="353.9" y2="64.2" stroke="#868686" stroke-width="0.7" opacity="0.26" stroke-linecap="round"/><line x1="360.3" y1="83.3" x2="373.6" y2="57.5" stroke="#868686" stroke-width="0.6" opacity="0.41" stroke-linecap="round"/><line x1="374.7" y1="79.9" x2="380.8" y2="70.3" stroke="#5c5c5c" stroke-width="0.7" opacity="0.29" stroke-linecap="round"/><line x1="374.0" y1="76.1" x2="381.4" y2="64.0" stroke="#868686" stroke-width="0.5" opacity="0.37" stroke-linecap="round"/><line x1="309.00" y1="25.00" x2="308.00" y2="93.00" stroke="#181818" stroke-width="3.0" stroke-linecap="butt"/><line x1="366.00" y1="25.00" x2="364.00" y2="60.00" stroke="#7c7c7c" stroke-width="2.0" stroke-linecap="butt"/><line x1="380.00" y1="25.00" x2="381.00" y2="93.00" stroke="#747474" stroke-width="2.0" stroke-linecap="butt"/><line x1="346.00" y1="40.00" x2="347.00" y2="93.00" stroke="#1e1e1e" stroke-width="1.5" stroke-linecap="butt"/><line x1="330.00" y1="25.00" x2="331.00" y2="93.00" stroke="#666" stroke-width="1.4" stroke-linecap="butt"/></g>
<g filter="url(#b03)"><line x1="318.5" y1="70.5" x2="319.2" y2="58.2" stroke="#7c7c7c" stroke-width="0.5" opacity="0.49" stroke-linecap="round"/><line x1="384.7" y1="48.9" x2="385.3" y2="39.7" stroke="#8a8a8a" stroke-width="1.3" opacity="0.45" stroke-linecap="round"/><line x1="342.6" y1="36.3" x2="343.2" y2="15.3" stroke="#7c7c7c" stroke-width="0.9" opacity="0.27" stroke-linecap="round"/><line x1="387.1" y1="70.0" x2="387.6" y2="58.4" stroke="#7c7c7c" stroke-width="1.0" opacity="0.26" stroke-linecap="round"/><line x1="329.7" y1="57.8" x2="329.8" y2="48.1" stroke="#6e6e6e" stroke-width="0.9" opacity="0.50" stroke-linecap="round"/><line x1="342.1" y1="60.3" x2="344.0" y2="40.5" stroke="#6e6e6e" stroke-width="0.9" opacity="0.43" stroke-linecap="round"/><line x1="309.8" y1="36.8" x2="310.3" y2="23.8" stroke="#8a8a8a" stroke-width="0.6" opacity="0.39" stroke-linecap="round"/><line x1="361.8" y1="96.4" x2="362.0" y2="76.0" stroke="#8a8a8a" stroke-width="0.5" opacity="0.34" stroke-linecap="round"/><line x1="359.9" y1="57.6" x2="360.0" y2="42.4" stroke="#8a8a8a" stroke-width="1.3" opacity="0.30" stroke-linecap="round"/><line x1="328.4" y1="81.2" x2="328.3" y2="70.5" stroke="#7c7c7c" stroke-width="1.1" opacity="0.39" stroke-linecap="round"/><line x1="360.1" y1="56.1" x2="360.7" y2="34.7" stroke="#8a8a8a" stroke-width="1.3" opacity="0.43" stroke-linecap="round"/><line x1="307.1" y1="35.8" x2="308.8" y2="17.0" stroke="#8a8a8a" stroke-width="0.9" opacity="0.29" stroke-linecap="round"/><line x1="374.5" y1="95.1" x2="375.8" y2="83.7" stroke="#7c7c7c" stroke-width="0.6" opacity="0.26" stroke-linecap="round"/><line x1="330.6" y1="97.2" x2="332.2" y2="82.8" stroke="#7c7c7c" stroke-width="1.1" opacity="0.50" stroke-linecap="round"/><line x1="372.3" y1="49.1" x2="373.0" y2="35.0" stroke="#8a8a8a" stroke-width="1.1" opacity="0.40" stroke-linecap="round"/><line x1="321.6" y1="84.0" x2="322.8" y2="64.3" stroke="#8a8a8a" stroke-width="0.7" opacity="0.49" stroke-linecap="round"/><line x1="369.3" y1="56.4" x2="369.2" y2="49.5" stroke="#6e6e6e" stroke-width="0.9" opacity="0.46" stroke-linecap="round"/><line x1="303.0" y1="96.5" x2="304.0" y2="86.4" stroke="#8a8a8a" stroke-width="0.6" opacity="0.26" stroke-linecap="round"/><line x1="385.4" y1="93.0" x2="385.6" y2="84.6" stroke="#7c7c7c" stroke-width="1.2" opacity="0.39" stroke-linecap="round"/><line x1="371.0" y1="66.1" x2="372.2" y2="50.1" stroke="#7c7c7c" stroke-width="0.9" opacity="0.31" stroke-linecap="round"/><line x1="314.4" y1="79.9" x2="315.1" y2="66.4" stroke="#8a8a8a" stroke-width="1.0" opacity="0.35" stroke-linecap="round"/><line x1="352.2" y1="92.0" x2="351.5" y2="71.5" stroke="#8a8a8a" stroke-width="0.6" opacity="0.38" stroke-linecap="round"/><line x1="361.3" y1="91.7" x2="361.3" y2="70.2" stroke="#6e6e6e" stroke-width="1.1" opacity="0.43" stroke-linecap="round"/><line x1="386.4" y1="75.7" x2="385.7" y2="57.7" stroke="#8a8a8a" stroke-width="0.7" opacity="0.42" stroke-linecap="round"/><line x1="311.6" y1="31.6" x2="311.8" y2="20.8" stroke="#6e6e6e" stroke-width="0.8" opacity="0.44" stroke-linecap="round"/><line x1="382.7" y1="55.3" x2="383.6" y2="43.5" stroke="#7c7c7c" stroke-width="0.6" opacity="0.49" stroke-linecap="round"/><line x1="386.5" y1="78.7" x2="387.9" y2="62.6" stroke="#7c7c7c" stroke-width="0.7" opacity="0.30" stroke-linecap="round"/><line x1="302.4" y1="88.3" x2="303.1" y2="73.1" stroke="#8a8a8a" stroke-width="0.8" opacity="0.42" stroke-linecap="round"/><line x1="367.8" y1="89.0" x2="369.7" y2="68.6" stroke="#8a8a8a" stroke-width="0.8" opacity="0.40" stroke-linecap="round"/><line x1="348.5" y1="71.7" x2="349.8" y2="57.1" stroke="#6e6e6e" stroke-width="1.1" opacity="0.34" stroke-linecap="round"/><line x1="345.1" y1="60.6" x2="345.0" y2="44.5" stroke="#7c7c7c" stroke-width="0.7" opacity="0.44" stroke-linecap="round"/><line x1="362.0" y1="68.3" x2="362.8" y2="52.1" stroke="#8a8a8a" stroke-width="0.7" opacity="0.35" stroke-linecap="round"/><line x1="378.7" y1="46.7" x2="378.9" y2="34.7" stroke="#8a8a8a" stroke-width="0.5" opacity="0.36" stroke-linecap="round"/><line x1="377.2" y1="74.0" x2="377.9" y2="61.7" stroke="#6e6e6e" stroke-width="1.2" opacity="0.41" stroke-linecap="round"/><line x1="322.6" y1="48.8" x2="323.1" y2="28.0" stroke="#8a8a8a" stroke-width="1.1" opacity="0.28" stroke-linecap="round"/><line x1="331.5" y1="96.5" x2="331.8" y2="84.3" stroke="#7c7c7c" stroke-width="0.7" opacity="0.34" stroke-linecap="round"/><line x1="360.2" y1="40.7" x2="361.2" y2="26.3" stroke="#6e6e6e" stroke-width="1.1" opacity="0.29" stroke-linecap="round"/><line x1="343.7" y1="96.4" x2="345.0" y2="84.8" stroke="#7c7c7c" stroke-width="0.9" opacity="0.38" stroke-linecap="round"/><line x1="373.6" y1="40.5" x2="374.0" y2="33.8" stroke="#6e6e6e" stroke-width="0.7" opacity="0.44" stroke-linecap="round"/><line x1="324.1" y1="51.7" x2="325.1" y2="43.1" stroke="#7c7c7c" stroke-width="1.1" opacity="0.43" stroke-linecap="round"/><line x1="341.4" y1="79.6" x2="341.6" y2="70.9" stroke="#6e6e6e" stroke-width="1.2" opacity="0.31" stroke-linecap="round"/><line x1="312.8" y1="62.3" x2="314.0" y2="43.9" stroke="#8a8a8a" stroke-width="0.5" opacity="0.28" stroke-linecap="round"/><line x1="329.9" y1="56.7" x2="329.9" y2="47.4" stroke="#7c7c7c" stroke-width="1.2" opacity="0.34" stroke-linecap="round"/><line x1="341.3" y1="67.9" x2="341.5" y2="51.9" stroke="#8a8a8a" stroke-width="0.5" opacity="0.27" stroke-linecap="round"/><line x1="302.8" y1="88.3" x2="303.7" y2="72.5" stroke="#6e6e6e" stroke-width="1.0" opacity="0.26" stroke-linecap="round"/><line x1="361.9" y1="50.2" x2="363.4" y2="36.5" stroke="#141414" stroke-width="0.7" opacity="0.51" stroke-linecap="round"/><line x1="332.5" y1="74.8" x2="332.3" y2="64.6" stroke="#1e1e1e" stroke-width="1.3" opacity="0.44" stroke-linecap="round"/><line x1="342.5" y1="98.3" x2="344.5" y2="79.4" stroke="#141414" stroke-width="0.9" opacity="0.55" stroke-linecap="round"/><line x1="375.2" y1="76.9" x2="376.6" y2="64.3" stroke="#1e1e1e" stroke-width="0.5" opacity="0.37" stroke-linecap="round"/><line x1="322.2" y1="37.6" x2="322.1" y2="30.0" stroke="#141414" stroke-width="1.1" opacity="0.50" stroke-linecap="round"/><line x1="379.0" y1="57.4" x2="379.1" y2="44.8" stroke="#141414" stroke-width="0.8" opacity="0.46" stroke-linecap="round"/><line x1="330.2" y1="92.2" x2="330.8" y2="78.0" stroke="#141414" stroke-width="0.7" opacity="0.44" stroke-linecap="round"/><line x1="378.0" y1="82.9" x2="377.6" y2="74.7" stroke="#141414" stroke-width="0.7" opacity="0.38" stroke-linecap="round"/><line x1="378.6" y1="88.1" x2="378.4" y2="79.5" stroke="#141414" stroke-width="0.5" opacity="0.34" stroke-linecap="round"/><line x1="305.8" y1="94.1" x2="306.0" y2="78.0" stroke="#1e1e1e" stroke-width="0.9" opacity="0.31" stroke-linecap="round"/><line x1="369.2" y1="41.4" x2="368.7" y2="30.2" stroke="#141414" stroke-width="0.9" opacity="0.45" stroke-linecap="round"/><line x1="384.9" y1="61.9" x2="384.7" y2="54.5" stroke="#141414" stroke-width="0.6" opacity="0.35" stroke-linecap="round"/><line x1="363.7" y1="69.6" x2="363.3" y2="62.0" stroke="#141414" stroke-width="1.3" opacity="0.34" stroke-linecap="round"/><line x1="305.2" y1="48.4" x2="306.2" y2="38.9" stroke="#1e1e1e" stroke-width="0.7" opacity="0.44" stroke-linecap="round"/><line x1="317.5" y1="32.7" x2="318.9" y2="18.6" stroke="#141414" stroke-width="0.5" opacity="0.40" stroke-linecap="round"/><line x1="370.9" y1="85.2" x2="371.1" y2="73.2" stroke="#1e1e1e" stroke-width="0.7" opacity="0.37" stroke-linecap="round"/><line x1="378.4" y1="56.7" x2="379.9" y2="40.9" stroke="#1e1e1e" stroke-width="1.0" opacity="0.36" stroke-linecap="round"/><line x1="318.0" y1="71.9" x2="319.1" y2="62.9" stroke="#1e1e1e" stroke-width="0.8" opacity="0.32" stroke-linecap="round"/><line x1="369.1" y1="53.9" x2="370.7" y2="40.5" stroke="#1e1e1e" stroke-width="0.5" opacity="0.51" stroke-linecap="round"/><line x1="327.6" y1="69.9" x2="326.7" y2="53.0" stroke="#141414" stroke-width="0.5" opacity="0.38" stroke-linecap="round"/><line x1="346.5" y1="59.7" x2="347.2" y2="52.5" stroke="#141414" stroke-width="1.0" opacity="0.49" stroke-linecap="round"/><line x1="316.0" y1="96.9" x2="317.6" y2="80.3" stroke="#1e1e1e" stroke-width="0.8" opacity="0.40" stroke-linecap="round"/><line x1="388.7" y1="77.5" x2="388.9" y2="68.3" stroke="#141414" stroke-width="1.2" opacity="0.41" stroke-linecap="round"/><line x1="341.8" y1="53.8" x2="341.6" y2="37.1" stroke="#141414" stroke-width="1.1" opacity="0.43" stroke-linecap="round"/><line x1="305.0" y1="38.1" x2="305.0" y2="20.8" stroke="#1e1e1e" stroke-width="0.8" opacity="0.44" stroke-linecap="round"/><line x1="376.9" y1="94.2" x2="376.3" y2="73.2" stroke="#1e1e1e" stroke-width="0.6" opacity="0.31" stroke-linecap="round"/><line x1="331.5" y1="88.4" x2="331.9" y2="66.6" stroke="#141414" stroke-width="0.9" opacity="0.45" stroke-linecap="round"/><line x1="352.2" y1="46.7" x2="352.2" y2="38.0" stroke="#141414" stroke-width="1.1" opacity="0.45" stroke-linecap="round"/><line x1="325.4" y1="90.4" x2="325.9" y2="78.8" stroke="#1e1e1e" stroke-width="0.9" opacity="0.42" stroke-linecap="round"/><line x1="331.4" y1="38.1" x2="332.2" y2="30.5" stroke="#141414" stroke-width="1.0" opacity="0.54" stroke-linecap="round"/><line x1="304.8" y1="70.5" x2="306.0" y2="53.6" stroke="#1e1e1e" stroke-width="1.2" opacity="0.38" stroke-linecap="round"/><line x1="366.2" y1="38.2" x2="366.4" y2="29.6" stroke="#1e1e1e" stroke-width="0.9" opacity="0.52" stroke-linecap="round"/><line x1="327.1" y1="45.3" x2="328.1" y2="29.1" stroke="#1e1e1e" stroke-width="1.1" opacity="0.32" stroke-linecap="round"/><line x1="340.5" y1="99.9" x2="340.6" y2="79.3" stroke="#141414" stroke-width="0.5" opacity="0.53" stroke-linecap="round"/><line x1="352.0" y1="36.8" x2="352.3" y2="28.3" stroke="#1e1e1e" stroke-width="0.6" opacity="0.56" stroke-linecap="round"/><line x1="336.7" y1="63.4" x2="336.5" y2="52.1" stroke="#1e1e1e" stroke-width="0.6" opacity="0.33" stroke-linecap="round"/><line x1="322.0" y1="53.8" x2="323.4" y2="37.9" stroke="#1e1e1e" stroke-width="1.3" opacity="0.55" stroke-linecap="round"/><line x1="343.5" y1="50.1" x2="343.1" y2="29.0" stroke="#141414" stroke-width="1.2" opacity="0.51" stroke-linecap="round"/><line x1="372.5" y1="31.2" x2="372.3" y2="24.0" stroke="#1e1e1e" stroke-width="0.6" opacity="0.49" stroke-linecap="round"/><line x1="337.7" y1="81.8" x2="338.5" y2="70.8" stroke="#141414" stroke-width="0.9" opacity="0.54" stroke-linecap="round"/><line x1="359.0" y1="64.0" x2="359.4" y2="49.6" stroke="#1e1e1e" stroke-width="1.1" opacity="0.43" stroke-linecap="round"/><line x1="361.4" y1="76.2" x2="361.7" y2="67.6" stroke="#141414" stroke-width="1.3" opacity="0.40" stroke-linecap="round"/><line x1="389.9" y1="79.2" x2="389.5" y2="70.6" stroke="#1e1e1e" stroke-width="1.3" opacity="0.40" stroke-linecap="round"/><line x1="321.3" y1="61.1" x2="321.3" y2="46.9" stroke="#1e1e1e" stroke-width="0.5" opacity="0.32" stroke-linecap="round"/><line x1="366.3" y1="65.6" x2="366.0" y2="53.4" stroke="#141414" stroke-width="0.7" opacity="0.40" stroke-linecap="round"/></g>
<rect x="300.80" y="24.80" width="90.00" height="68.20" fill="#8c8c8c" filter="url(#nzf)" opacity="0.28"/>
<rect x="300.80" y="24.80" width="90.00" height="68.20" fill="#000" filter="url(#nzd)" opacity="0.30"/>
<line x1="351.20" y1="33.60" x2="346.60" y2="43.60" stroke="#fff" stroke-width="1.0" stroke-linecap="round"/><line x1="346.60" y1="43.60" x2="346.35" y2="40.01" stroke="#fff" stroke-width="1.0" stroke-linecap="round"/><line x1="346.60" y1="43.60" x2="349.49" y2="41.45" stroke="#fff" stroke-width="1.0" stroke-linecap="round"/>
</g>
<text transform="translate(303.20,35.90) scale(0.975,1)" font-size="9.4" text-anchor="start" font-weight="normal" fill="#f0f0f0" stroke="#f0f0f0" stroke-width="0.18" >01:00.500</text>
<text transform="translate(439.60,19.60)" font-size="10.2" text-anchor="middle" font-weight="bold" fill="#000" stroke="#000" stroke-width="0.18" >PSI E1</text>
<clipPath id="cl4"><rect x="394.3" y="24.8" width="90.70" height="68.20"/></clipPath>
<g clip-path="url(#cl4)">
<rect x="394.30" y="24.80" width="90.70" height="68.20" fill="#353535" />
<g filter="url(#bl2)"><polygon points="394.3,62.3 435.1,53.4 444.2,58.9 403.4,93.0 394.3,93.0" fill="#565656" /><polygon points="444.2,24.8 485.0,24.8 485.0,45.3 448.7,53.4" fill="#4a4444" /><polygon points="394.3,24.8 444.2,24.8 444.2,52.1 394.3,58.9" fill="#2a2a2a" /><polygon points="439.6,67.1 485.0,41.9 485.0,55.5 448.7,79.4" fill="#262626" /><polygon points="421.5,93.0 450.5,72.5 466.9,86.2 457.8,93.0" fill="#2c2c2c" /><polygon points="462.3,76.0 485.0,58.9 485.0,93.0 466.9,93.0" fill="#484848" /></g>
<rect x="394.30" y="24.80" width="90.70" height="68.20" fill="#8a8a8a" filter="url(#nzm)" opacity="0.20"/>
<rect x="394.30" y="24.80" width="90.70" height="68.20" fill="#000" filter="url(#nzn)" opacity="0.28"/>
<g filter="url(#b05)"><line x1="427.5" y1="85.3" x2="459.5" y2="62.2" stroke="#868686" stroke-width="1.1" opacity="0.61" stroke-linecap="round"/><line x1="429.8" y1="59.9" x2="449.0" y2="46.3" stroke="#5c5c5c" stroke-width="2.2" opacity="0.33" stroke-linecap="round"/><line x1="414.1" y1="97.6" x2="433.9" y2="82.9" stroke="#5c5c5c" stroke-width="1.3" opacity="0.34" stroke-linecap="round"/><line x1="386.7" y1="103.7" x2="411.0" y2="81.9" stroke="#787878" stroke-width="1.6" opacity="0.44" stroke-linecap="round"/><line x1="427.3" y1="101.8" x2="455.0" y2="83.1" stroke="#5c5c5c" stroke-width="2.1" opacity="0.32" stroke-linecap="round"/><line x1="430.7" y1="67.4" x2="451.6" y2="53.4" stroke="#868686" stroke-width="1.7" opacity="0.35" stroke-linecap="round"/><line x1="430.4" y1="69.7" x2="457.9" y2="45.1" stroke="#6a6a6a" stroke-width="1.4" opacity="0.41" stroke-linecap="round"/><line x1="401.7" y1="66.3" x2="425.7" y2="49.5" stroke="#5c5c5c" stroke-width="1.0" opacity="0.42" stroke-linecap="round"/><line x1="443.7" y1="82.5" x2="467.3" y2="66.2" stroke="#787878" stroke-width="2.3" opacity="0.69" stroke-linecap="round"/><line x1="422.2" y1="92.2" x2="442.2" y2="77.1" stroke="#868686" stroke-width="1.9" opacity="0.63" stroke-linecap="round"/><line x1="406.9" y1="85.5" x2="426.5" y2="67.5" stroke="#5c5c5c" stroke-width="0.6" opacity="0.36" stroke-linecap="round"/><line x1="394.3" y1="61.1" x2="408.4" y2="49.0" stroke="#6a6a6a" stroke-width="2.5" opacity="0.36" stroke-linecap="round"/><line x1="404.5" y1="79.3" x2="423.7" y2="65.1" stroke="#868686" stroke-width="1.0" opacity="0.35" stroke-linecap="round"/><line x1="428.4" y1="93.9" x2="450.3" y2="78.4" stroke="#6a6a6a" stroke-width="1.4" opacity="0.50" stroke-linecap="round"/><line x1="403.1" y1="90.9" x2="419.7" y2="77.4" stroke="#6a6a6a" stroke-width="2.6" opacity="0.44" stroke-linecap="round"/><line x1="388.2" y1="70.4" x2="412.1" y2="51.9" stroke="#6a6a6a" stroke-width="1.4" opacity="0.74" stroke-linecap="round"/><line x1="408.8" y1="78.0" x2="440.8" y2="57.8" stroke="#6a6a6a" stroke-width="0.7" opacity="0.52" stroke-linecap="round"/><line x1="420.8" y1="72.6" x2="430.1" y2="64.6" stroke="#5c5c5c" stroke-width="2.4" opacity="0.40" stroke-linecap="round"/><line x1="389.7" y1="74.9" x2="414.1" y2="52.8" stroke="#5c5c5c" stroke-width="1.9" opacity="0.71" stroke-linecap="round"/><line x1="389.7" y1="96.0" x2="409.6" y2="77.7" stroke="#5c5c5c" stroke-width="2.6" opacity="0.46" stroke-linecap="round"/><line x1="426.3" y1="89.2" x2="448.1" y2="71.5" stroke="#868686" stroke-width="1.6" opacity="0.39" stroke-linecap="round"/><line x1="417.8" y1="75.7" x2="440.1" y2="55.6" stroke="#787878" stroke-width="1.7" opacity="0.58" stroke-linecap="round"/><line x1="417.0" y1="82.5" x2="445.3" y2="56.0" stroke="#868686" stroke-width="0.7" opacity="0.50" stroke-linecap="round"/><line x1="411.1" y1="87.3" x2="427.8" y2="75.4" stroke="#868686" stroke-width="1.8" opacity="0.73" stroke-linecap="round"/><line x1="447.4" y1="95.8" x2="457.9" y2="86.8" stroke="#5c5c5c" stroke-width="1.3" opacity="0.67" stroke-linecap="round"/><line x1="401.0" y1="70.4" x2="421.7" y2="52.2" stroke="#868686" stroke-width="1.6" opacity="0.67" stroke-linecap="round"/><line x1="385.2" y1="84.2" x2="407.8" y2="63.6" stroke="#787878" stroke-width="2.6" opacity="0.58" stroke-linecap="round"/><line x1="426.1" y1="101.2" x2="451.6" y2="80.7" stroke="#5c5c5c" stroke-width="1.6" opacity="0.33" stroke-linecap="round"/><line x1="409.6" y1="78.2" x2="422.0" y2="69.7" stroke="#868686" stroke-width="1.1" opacity="0.44" stroke-linecap="round"/><line x1="412.1" y1="57.7" x2="425.9" y2="48.5" stroke="#5c5c5c" stroke-width="1.6" opacity="0.32" stroke-linecap="round"/><line x1="399.3" y1="77.9" x2="431.7" y2="56.8" stroke="#787878" stroke-width="1.0" opacity="0.73" stroke-linecap="round"/><line x1="433.1" y1="87.2" x2="463.6" y2="62.8" stroke="#868686" stroke-width="2.5" opacity="0.41" stroke-linecap="round"/><line x1="415.0" y1="77.6" x2="427.2" y2="66.8" stroke="#5c5c5c" stroke-width="1.2" opacity="0.50" stroke-linecap="round"/><line x1="424.7" y1="92.9" x2="447.3" y2="73.3" stroke="#787878" stroke-width="1.4" opacity="0.58" stroke-linecap="round"/><line x1="399.8" y1="74.8" x2="410.2" y2="66.4" stroke="#6a6a6a" stroke-width="1.5" opacity="0.34" stroke-linecap="round"/><line x1="385.2" y1="99.9" x2="410.5" y2="77.9" stroke="#5c5c5c" stroke-width="3.0" opacity="0.74" stroke-linecap="round"/><line x1="426.1" y1="96.7" x2="455.6" y2="76.0" stroke="#6a6a6a" stroke-width="1.8" opacity="0.54" stroke-linecap="round"/><line x1="435.6" y1="61.5" x2="447.6" y2="50.6" stroke="#5c5c5c" stroke-width="2.2" opacity="0.39" stroke-linecap="round"/><line x1="396.5" y1="66.8" x2="426.3" y2="41.7" stroke="#787878" stroke-width="1.3" opacity="0.38" stroke-linecap="round"/><line x1="437.9" y1="74.5" x2="469.5" y2="52.8" stroke="#5c5c5c" stroke-width="2.0" opacity="0.33" stroke-linecap="round"/><line x1="414.8" y1="69.6" x2="435.0" y2="54.1" stroke="#6a6a6a" stroke-width="2.3" opacity="0.54" stroke-linecap="round"/><line x1="398.7" y1="72.7" x2="416.1" y2="56.9" stroke="#6a6a6a" stroke-width="1.2" opacity="0.45" stroke-linecap="round"/><line x1="403.3" y1="78.5" x2="419.9" y2="67.8" stroke="#242424" stroke-width="1.0" opacity="0.41" stroke-linecap="round"/><line x1="393.5" y1="58.3" x2="413.6" y2="39.4" stroke="#161616" stroke-width="2.2" opacity="0.53" stroke-linecap="round"/><line x1="420.0" y1="85.1" x2="435.8" y2="72.6" stroke="#161616" stroke-width="3.0" opacity="0.40" stroke-linecap="round"/><line x1="468.1" y1="87.3" x2="491.6" y2="69.7" stroke="#161616" stroke-width="3.0" opacity="0.70" stroke-linecap="round"/><line x1="428.5" y1="73.4" x2="456.9" y2="51.0" stroke="#242424" stroke-width="1.4" opacity="0.75" stroke-linecap="round"/><line x1="413.6" y1="58.2" x2="432.1" y2="40.3" stroke="#242424" stroke-width="1.8" opacity="0.62" stroke-linecap="round"/><line x1="427.5" y1="97.2" x2="454.8" y2="78.4" stroke="#2a2a2a" stroke-width="0.8" opacity="0.50" stroke-linecap="round"/><line x1="444.5" y1="76.4" x2="457.9" y2="67.4" stroke="#2a2a2a" stroke-width="1.9" opacity="0.56" stroke-linecap="round"/><line x1="469.7" y1="97.3" x2="497.2" y2="71.5" stroke="#2a2a2a" stroke-width="2.4" opacity="0.65" stroke-linecap="round"/><line x1="412.3" y1="74.9" x2="432.5" y2="60.9" stroke="#242424" stroke-width="1.1" opacity="0.60" stroke-linecap="round"/><line x1="443.7" y1="62.0" x2="462.4" y2="44.9" stroke="#161616" stroke-width="1.5" opacity="0.69" stroke-linecap="round"/><line x1="415.4" y1="81.8" x2="424.5" y2="73.9" stroke="#2a2a2a" stroke-width="2.1" opacity="0.66" stroke-linecap="round"/><line x1="462.5" y1="98.1" x2="485.0" y2="80.6" stroke="#2a2a2a" stroke-width="2.0" opacity="0.74" stroke-linecap="round"/><line x1="446.5" y1="62.1" x2="460.9" y2="50.5" stroke="#161616" stroke-width="0.6" opacity="0.53" stroke-linecap="round"/><line x1="392.1" y1="95.1" x2="414.9" y2="73.4" stroke="#242424" stroke-width="0.7" opacity="0.66" stroke-linecap="round"/><line x1="384.8" y1="80.2" x2="412.5" y2="61.5" stroke="#161616" stroke-width="1.5" opacity="0.60" stroke-linecap="round"/><line x1="436.7" y1="55.0" x2="449.5" y2="46.4" stroke="#161616" stroke-width="1.5" opacity="0.62" stroke-linecap="round"/><line x1="434.4" y1="73.8" x2="455.7" y2="60.2" stroke="#242424" stroke-width="0.8" opacity="0.57" stroke-linecap="round"/><line x1="461.3" y1="65.2" x2="488.3" y2="47.5" stroke="#161616" stroke-width="1.8" opacity="0.55" stroke-linecap="round"/><line x1="383.3" y1="71.2" x2="410.0" y2="47.9" stroke="#2a2a2a" stroke-width="1.7" opacity="0.42" stroke-linecap="round"/><line x1="393.3" y1="84.7" x2="415.2" y2="67.5" stroke="#161616" stroke-width="0.9" opacity="0.69" stroke-linecap="round"/><line x1="461.1" y1="68.6" x2="482.0" y2="55.2" stroke="#242424" stroke-width="1.7" opacity="0.40" stroke-linecap="round"/><line x1="456.4" y1="62.0" x2="486.1" y2="43.0" stroke="#1c1c1c" stroke-width="0.8" opacity="0.41" stroke-linecap="round"/><line x1="408.1" y1="82.8" x2="431.4" y2="67.0" stroke="#1c1c1c" stroke-width="1.5" opacity="0.74" stroke-linecap="round"/><line x1="405.8" y1="56.3" x2="423.1" y2="43.7" stroke="#242424" stroke-width="1.2" opacity="0.65" stroke-linecap="round"/><line x1="441.6" y1="79.9" x2="473.1" y2="59.4" stroke="#1c1c1c" stroke-width="2.9" opacity="0.71" stroke-linecap="round"/><line x1="469.0" y1="78.9" x2="496.2" y2="60.0" stroke="#242424" stroke-width="1.1" opacity="0.61" stroke-linecap="round"/><line x1="421.6" y1="73.2" x2="447.9" y2="51.2" stroke="#1c1c1c" stroke-width="1.7" opacity="0.63" stroke-linecap="round"/><line x1="447.8" y1="66.4" x2="474.4" y2="42.4" stroke="#242424" stroke-width="0.8" opacity="0.60" stroke-linecap="round"/><line x1="423.0" y1="72.4" x2="449.5" y2="53.9" stroke="#161616" stroke-width="1.3" opacity="0.63" stroke-linecap="round"/><line x1="436.9" y1="69.8" x2="448.4" y2="59.4" stroke="#242424" stroke-width="1.4" opacity="0.45" stroke-linecap="round"/><line x1="407.2" y1="81.5" x2="431.2" y2="64.5" stroke="#242424" stroke-width="0.8" opacity="0.70" stroke-linecap="round"/><line x1="458.9" y1="65.7" x2="477.8" y2="49.4" stroke="#161616" stroke-width="1.5" opacity="0.71" stroke-linecap="round"/><line x1="437.0" y1="61.2" x2="447.5" y2="52.4" stroke="#2a2a2a" stroke-width="1.5" opacity="0.66" stroke-linecap="round"/><line x1="448.4" y1="77.8" x2="467.8" y2="59.7" stroke="#2a2a2a" stroke-width="1.4" opacity="0.40" stroke-linecap="round"/><line x1="388.5" y1="80.0" x2="410.5" y2="62.9" stroke="#1c1c1c" stroke-width="0.8" opacity="0.53" stroke-linecap="round"/><line x1="427.6" y1="34.2" x2="453.2" y2="19.7" stroke="#6a6a6a" stroke-width="1.9" opacity="0.46" stroke-linecap="round"/><line x1="434.1" y1="46.6" x2="450.8" y2="31.3" stroke="#787878" stroke-width="1.9" opacity="0.24" stroke-linecap="round"/><line x1="464.4" y1="66.8" x2="483.3" y2="48.1" stroke="#5c5c5c" stroke-width="1.2" opacity="0.33" stroke-linecap="round"/><line x1="465.4" y1="66.2" x2="481.1" y2="53.4" stroke="#787878" stroke-width="2.0" opacity="0.47" stroke-linecap="round"/><line x1="430.6" y1="72.8" x2="452.4" y2="54.5" stroke="#6a6a6a" stroke-width="1.1" opacity="0.47" stroke-linecap="round"/><line x1="433.7" y1="31.3" x2="448.8" y2="23.0" stroke="#5c5c5c" stroke-width="1.7" opacity="0.44" stroke-linecap="round"/><line x1="462.1" y1="47.7" x2="484.8" y2="34.3" stroke="#5c5c5c" stroke-width="1.3" opacity="0.28" stroke-linecap="round"/><line x1="441.4" y1="51.2" x2="453.2" y2="43.9" stroke="#787878" stroke-width="1.6" opacity="0.38" stroke-linecap="round"/><line x1="443.8" y1="63.9" x2="463.1" y2="45.0" stroke="#5c5c5c" stroke-width="1.3" opacity="0.30" stroke-linecap="round"/><line x1="435.7" y1="67.8" x2="445.0" y2="59.2" stroke="#6a6a6a" stroke-width="1.2" opacity="0.19" stroke-linecap="round"/><line x1="436.6" y1="54.6" x2="460.7" y2="39.7" stroke="#5c5c5c" stroke-width="1.6" opacity="0.46" stroke-linecap="round"/><line x1="460.5" y1="28.7" x2="468.3" y2="21.9" stroke="#787878" stroke-width="1.9" opacity="0.36" stroke-linecap="round"/><line x1="438.8" y1="66.4" x2="460.9" y2="53.4" stroke="#6a6a6a" stroke-width="1.7" opacity="0.28" stroke-linecap="round"/><line x1="474.2" y1="46.0" x2="485.6" y2="36.1" stroke="#6a6a6a" stroke-width="1.0" opacity="0.31" stroke-linecap="round"/><line x1="465.1" y1="32.2" x2="484.7" y2="21.0" stroke="#6a6a6a" stroke-width="1.1" opacity="0.25" stroke-linecap="round"/><line x1="476.5" y1="39.1" x2="489.1" y2="29.5" stroke="#787878" stroke-width="1.2" opacity="0.22" stroke-linecap="round"/><line x1="437.8" y1="54.8" x2="453.5" y2="39.3" stroke="#5c5c5c" stroke-width="0.7" opacity="0.44" stroke-linecap="round"/><line x1="442.6" y1="68.4" x2="461.1" y2="57.1" stroke="#5c5c5c" stroke-width="1.4" opacity="0.31" stroke-linecap="round"/><line x1="420.3" y1="38.8" x2="433.5" y2="36.5" stroke="#161616" stroke-width="2.0" opacity="0.52" stroke-linecap="round"/><line x1="436.1" y1="56.1" x2="460.5" y2="43.9" stroke="#161616" stroke-width="1.5" opacity="0.50" stroke-linecap="round"/><line x1="472.9" y1="45.3" x2="485.6" y2="38.9" stroke="#161616" stroke-width="1.0" opacity="0.33" stroke-linecap="round"/><line x1="401.0" y1="57.4" x2="415.7" y2="48.3" stroke="#1c1c1c" stroke-width="1.2" opacity="0.26" stroke-linecap="round"/><line x1="461.8" y1="45.3" x2="479.5" y2="35.6" stroke="#161616" stroke-width="0.6" opacity="0.55" stroke-linecap="round"/><line x1="455.9" y1="47.6" x2="485.6" y2="43.5" stroke="#2a2a2a" stroke-width="0.7" opacity="0.38" stroke-linecap="round"/><line x1="440.4" y1="40.1" x2="459.0" y2="33.0" stroke="#1c1c1c" stroke-width="0.6" opacity="0.32" stroke-linecap="round"/><line x1="447.3" y1="36.4" x2="460.8" y2="30.9" stroke="#2a2a2a" stroke-width="1.2" opacity="0.40" stroke-linecap="round"/><line x1="454.9" y1="55.0" x2="478.2" y2="41.0" stroke="#1c1c1c" stroke-width="1.2" opacity="0.32" stroke-linecap="round"/><line x1="462.6" y1="59.3" x2="476.7" y2="56.5" stroke="#1c1c1c" stroke-width="2.0" opacity="0.53" stroke-linecap="round"/><line x1="406.9" y1="49.8" x2="421.6" y2="42.0" stroke="#161616" stroke-width="1.0" opacity="0.55" stroke-linecap="round"/><line x1="454.8" y1="48.7" x2="470.6" y2="39.3" stroke="#161616" stroke-width="1.2" opacity="0.51" stroke-linecap="round"/><line x1="472.6" y1="32.7" x2="493.5" y2="20.1" stroke="#2a2a2a" stroke-width="0.8" opacity="0.31" stroke-linecap="round"/><line x1="419.6" y1="40.5" x2="443.3" y2="36.6" stroke="#161616" stroke-width="1.6" opacity="0.50" stroke-linecap="round"/><line x1="475.4" y1="58.4" x2="486.4" y2="55.1" stroke="#2a2a2a" stroke-width="2.0" opacity="0.51" stroke-linecap="round"/><line x1="434.5" y1="46.6" x2="453.2" y2="41.2" stroke="#242424" stroke-width="0.7" opacity="0.52" stroke-linecap="round"/><line x1="467.6" y1="29.5" x2="489.9" y2="22.3" stroke="#2a2a2a" stroke-width="1.4" opacity="0.26" stroke-linecap="round"/><line x1="441.7" y1="42.4" x2="466.7" y2="30.9" stroke="#161616" stroke-width="1.3" opacity="0.26" stroke-linecap="round"/><line x1="424.0" y1="45.1" x2="439.3" y2="61.9" stroke="#1c1c1c" stroke-width="1.0" opacity="0.42" stroke-linecap="round"/><line x1="434.3" y1="73.1" x2="450.4" y2="97.3" stroke="#242424" stroke-width="0.7" opacity="0.59" stroke-linecap="round"/><line x1="479.6" y1="75.1" x2="487.1" y2="83.2" stroke="#161616" stroke-width="0.7" opacity="0.58" stroke-linecap="round"/><line x1="443.4" y1="48.4" x2="453.2" y2="63.3" stroke="#161616" stroke-width="0.8" opacity="0.61" stroke-linecap="round"/><line x1="430.9" y1="46.9" x2="444.9" y2="63.0" stroke="#161616" stroke-width="1.4" opacity="0.55" stroke-linecap="round"/><line x1="421.7" y1="79.9" x2="440.7" y2="101.8" stroke="#1c1c1c" stroke-width="0.7" opacity="0.54" stroke-linecap="round"/><line x1="454.6" y1="57.5" x2="470.3" y2="79.2" stroke="#1c1c1c" stroke-width="0.5" opacity="0.62" stroke-linecap="round"/><line x1="433.6" y1="73.3" x2="449.7" y2="88.4" stroke="#1c1c1c" stroke-width="1.0" opacity="0.52" stroke-linecap="round"/><line x1="429.8" y1="61.4" x2="449.6" y2="81.7" stroke="#161616" stroke-width="0.6" opacity="0.53" stroke-linecap="round"/><line x1="426.7" y1="66.6" x2="440.4" y2="80.3" stroke="#2a2a2a" stroke-width="0.8" opacity="0.41" stroke-linecap="round"/><line x1="437.8" y1="50.1" x2="448.4" y2="60.9" stroke="#242424" stroke-width="0.8" opacity="0.51" stroke-linecap="round"/><line x1="457.4" y1="60.0" x2="467.3" y2="72.0" stroke="#2a2a2a" stroke-width="0.9" opacity="0.42" stroke-linecap="round"/><line x1="396.00" y1="80.00" x2="438.00" y2="54.00" stroke="#7e7e7e" stroke-width="2.2" stroke-linecap="butt"/><line x1="400.00" y1="90.00" x2="446.00" y2="62.00" stroke="#747474" stroke-width="2.0" stroke-linecap="butt"/><line x1="447.00" y1="57.00" x2="471.00" y2="84.00" stroke="#181818" stroke-width="1.8" stroke-linecap="butt"/><line x1="440.00" y1="78.00" x2="486.00" y2="44.00" stroke="#1a1a1a" stroke-width="3.5" stroke-linecap="butt"/><line x1="420.00" y1="94.00" x2="450.00" y2="76.00" stroke="#6e6e6e" stroke-width="1.6" stroke-linecap="butt"/><line x1="394.00" y1="50.00" x2="440.00" y2="40.00" stroke="#202020" stroke-width="4" stroke-linecap="butt"/></g>
<g filter="url(#b03)"><line x1="405.2" y1="66.6" x2="418.8" y2="56.9" stroke="#6e6e6e" stroke-width="0.8" opacity="0.34" stroke-linecap="round"/><line x1="404.9" y1="81.9" x2="411.1" y2="75.9" stroke="#7c7c7c" stroke-width="0.7" opacity="0.38" stroke-linecap="round"/><line x1="441.8" y1="52.7" x2="448.5" y2="48.0" stroke="#6e6e6e" stroke-width="0.7" opacity="0.39" stroke-linecap="round"/><line x1="473.3" y1="78.2" x2="484.8" y2="68.3" stroke="#6e6e6e" stroke-width="0.7" opacity="0.49" stroke-linecap="round"/><line x1="406.6" y1="60.7" x2="413.1" y2="56.9" stroke="#6e6e6e" stroke-width="0.9" opacity="0.47" stroke-linecap="round"/><line x1="462.0" y1="45.5" x2="473.7" y2="37.7" stroke="#6e6e6e" stroke-width="0.7" opacity="0.32" stroke-linecap="round"/><line x1="450.2" y1="94.7" x2="458.3" y2="89.2" stroke="#8a8a8a" stroke-width="0.6" opacity="0.29" stroke-linecap="round"/><line x1="391.3" y1="93.2" x2="398.2" y2="87.9" stroke="#7c7c7c" stroke-width="0.5" opacity="0.46" stroke-linecap="round"/><line x1="425.3" y1="44.6" x2="432.3" y2="39.3" stroke="#7c7c7c" stroke-width="0.7" opacity="0.43" stroke-linecap="round"/><line x1="476.3" y1="90.6" x2="484.6" y2="84.8" stroke="#6e6e6e" stroke-width="1.3" opacity="0.45" stroke-linecap="round"/><line x1="416.0" y1="38.6" x2="422.4" y2="33.1" stroke="#8a8a8a" stroke-width="0.7" opacity="0.38" stroke-linecap="round"/><line x1="461.6" y1="67.3" x2="471.9" y2="57.1" stroke="#8a8a8a" stroke-width="0.9" opacity="0.42" stroke-linecap="round"/><line x1="423.9" y1="49.0" x2="439.6" y2="37.8" stroke="#8a8a8a" stroke-width="0.8" opacity="0.47" stroke-linecap="round"/><line x1="461.8" y1="47.6" x2="471.7" y2="38.6" stroke="#8a8a8a" stroke-width="0.9" opacity="0.44" stroke-linecap="round"/><line x1="405.0" y1="62.4" x2="419.0" y2="50.5" stroke="#7c7c7c" stroke-width="0.7" opacity="0.25" stroke-linecap="round"/><line x1="413.3" y1="81.9" x2="420.4" y2="74.7" stroke="#7c7c7c" stroke-width="1.2" opacity="0.40" stroke-linecap="round"/><line x1="421.8" y1="40.4" x2="436.0" y2="29.0" stroke="#7c7c7c" stroke-width="1.1" opacity="0.27" stroke-linecap="round"/><line x1="468.0" y1="85.7" x2="472.7" y2="81.6" stroke="#7c7c7c" stroke-width="0.5" opacity="0.31" stroke-linecap="round"/><line x1="473.8" y1="51.0" x2="485.5" y2="40.7" stroke="#8a8a8a" stroke-width="1.3" opacity="0.36" stroke-linecap="round"/><line x1="392.5" y1="96.4" x2="406.5" y2="85.8" stroke="#8a8a8a" stroke-width="1.0" opacity="0.34" stroke-linecap="round"/><line x1="401.3" y1="90.0" x2="412.7" y2="81.1" stroke="#8a8a8a" stroke-width="0.5" opacity="0.35" stroke-linecap="round"/><line x1="431.0" y1="47.8" x2="438.0" y2="43.4" stroke="#8a8a8a" stroke-width="0.7" opacity="0.41" stroke-linecap="round"/><line x1="398.4" y1="72.9" x2="413.6" y2="58.8" stroke="#7c7c7c" stroke-width="0.9" opacity="0.32" stroke-linecap="round"/><line x1="390.5" y1="30.5" x2="406.2" y2="20.3" stroke="#7c7c7c" stroke-width="0.6" opacity="0.27" stroke-linecap="round"/><line x1="401.5" y1="94.6" x2="413.0" y2="87.8" stroke="#8a8a8a" stroke-width="0.5" opacity="0.44" stroke-linecap="round"/><line x1="436.3" y1="43.7" x2="447.1" y2="35.3" stroke="#8a8a8a" stroke-width="0.9" opacity="0.40" stroke-linecap="round"/><line x1="479.6" y1="42.0" x2="487.1" y2="34.9" stroke="#7c7c7c" stroke-width="1.1" opacity="0.35" stroke-linecap="round"/><line x1="424.4" y1="83.5" x2="433.8" y2="76.9" stroke="#6e6e6e" stroke-width="0.5" opacity="0.39" stroke-linecap="round"/><line x1="475.1" y1="36.3" x2="487.6" y2="25.3" stroke="#7c7c7c" stroke-width="0.7" opacity="0.33" stroke-linecap="round"/><line x1="424.5" y1="32.3" x2="437.1" y2="20.8" stroke="#6e6e6e" stroke-width="0.7" opacity="0.47" stroke-linecap="round"/><line x1="447.2" y1="86.8" x2="455.8" y2="80.7" stroke="#7c7c7c" stroke-width="0.7" opacity="0.27" stroke-linecap="round"/><line x1="439.4" y1="82.4" x2="453.3" y2="69.1" stroke="#8a8a8a" stroke-width="0.7" opacity="0.39" stroke-linecap="round"/><line x1="406.0" y1="95.5" x2="420.6" y2="83.4" stroke="#8a8a8a" stroke-width="0.5" opacity="0.30" stroke-linecap="round"/><line x1="477.9" y1="50.1" x2="486.8" y2="41.2" stroke="#8a8a8a" stroke-width="0.5" opacity="0.38" stroke-linecap="round"/><line x1="391.0" y1="62.2" x2="402.7" y2="55.2" stroke="#7c7c7c" stroke-width="0.9" opacity="0.31" stroke-linecap="round"/><line x1="416.8" y1="65.6" x2="424.8" y2="60.9" stroke="#8a8a8a" stroke-width="1.1" opacity="0.47" stroke-linecap="round"/><line x1="455.9" y1="59.2" x2="465.9" y2="52.1" stroke="#6e6e6e" stroke-width="0.5" opacity="0.30" stroke-linecap="round"/><line x1="401.1" y1="91.0" x2="413.3" y2="79.2" stroke="#7c7c7c" stroke-width="0.7" opacity="0.36" stroke-linecap="round"/><line x1="392.4" y1="48.6" x2="404.8" y2="39.5" stroke="#7c7c7c" stroke-width="0.5" opacity="0.27" stroke-linecap="round"/><line x1="400.2" y1="90.4" x2="416.8" y2="77.2" stroke="#8a8a8a" stroke-width="0.9" opacity="0.49" stroke-linecap="round"/><line x1="425.9" y1="34.3" x2="438.4" y2="25.3" stroke="#8a8a8a" stroke-width="0.6" opacity="0.29" stroke-linecap="round"/><line x1="390.0" y1="47.5" x2="405.2" y2="35.9" stroke="#7c7c7c" stroke-width="0.7" opacity="0.43" stroke-linecap="round"/><line x1="434.1" y1="93.8" x2="442.0" y2="87.9" stroke="#6e6e6e" stroke-width="1.2" opacity="0.34" stroke-linecap="round"/><line x1="415.4" y1="93.5" x2="429.8" y2="82.6" stroke="#6e6e6e" stroke-width="0.5" opacity="0.40" stroke-linecap="round"/><line x1="392.8" y1="35.5" x2="401.8" y2="27.3" stroke="#7c7c7c" stroke-width="0.5" opacity="0.43" stroke-linecap="round"/><line x1="467.4" y1="59.4" x2="473.2" y2="55.2" stroke="#1e1e1e" stroke-width="1.1" opacity="0.44" stroke-linecap="round"/><line x1="475.6" y1="59.9" x2="489.2" y2="50.1" stroke="#1e1e1e" stroke-width="0.5" opacity="0.40" stroke-linecap="round"/><line x1="391.3" y1="93.4" x2="403.8" y2="82.9" stroke="#1e1e1e" stroke-width="0.9" opacity="0.36" stroke-linecap="round"/><line x1="437.0" y1="97.4" x2="452.5" y2="83.3" stroke="#141414" stroke-width="0.7" opacity="0.33" stroke-linecap="round"/><line x1="395.5" y1="94.3" x2="407.8" y2="84.2" stroke="#1e1e1e" stroke-width="0.6" opacity="0.39" stroke-linecap="round"/><line x1="440.3" y1="47.6" x2="447.6" y2="42.6" stroke="#1e1e1e" stroke-width="0.6" opacity="0.38" stroke-linecap="round"/><line x1="470.5" y1="49.4" x2="475.7" y2="45.2" stroke="#141414" stroke-width="0.7" opacity="0.49" stroke-linecap="round"/><line x1="453.7" y1="66.9" x2="461.0" y2="60.2" stroke="#1e1e1e" stroke-width="1.0" opacity="0.50" stroke-linecap="round"/><line x1="454.4" y1="90.9" x2="464.4" y2="83.6" stroke="#1e1e1e" stroke-width="0.9" opacity="0.51" stroke-linecap="round"/><line x1="453.2" y1="49.3" x2="461.5" y2="44.5" stroke="#141414" stroke-width="0.5" opacity="0.38" stroke-linecap="round"/><line x1="450.5" y1="93.9" x2="464.0" y2="83.2" stroke="#141414" stroke-width="0.7" opacity="0.33" stroke-linecap="round"/><line x1="400.0" y1="52.6" x2="409.3" y2="45.0" stroke="#141414" stroke-width="1.1" opacity="0.34" stroke-linecap="round"/><line x1="392.4" y1="97.9" x2="403.3" y2="87.0" stroke="#1e1e1e" stroke-width="0.7" opacity="0.32" stroke-linecap="round"/><line x1="425.0" y1="81.2" x2="438.4" y2="69.9" stroke="#141414" stroke-width="0.5" opacity="0.46" stroke-linecap="round"/><line x1="396.0" y1="46.4" x2="410.2" y2="32.2" stroke="#1e1e1e" stroke-width="0.7" opacity="0.47" stroke-linecap="round"/><line x1="435.9" y1="89.4" x2="453.4" y2="77.6" stroke="#1e1e1e" stroke-width="1.1" opacity="0.49" stroke-linecap="round"/><line x1="419.1" y1="94.1" x2="430.7" y2="83.4" stroke="#1e1e1e" stroke-width="0.6" opacity="0.38" stroke-linecap="round"/><line x1="430.6" y1="66.3" x2="444.3" y2="56.1" stroke="#141414" stroke-width="0.7" opacity="0.52" stroke-linecap="round"/><line x1="426.9" y1="88.4" x2="443.7" y2="78.0" stroke="#141414" stroke-width="0.5" opacity="0.40" stroke-linecap="round"/><line x1="456.5" y1="80.0" x2="463.2" y2="75.0" stroke="#1e1e1e" stroke-width="0.7" opacity="0.52" stroke-linecap="round"/><line x1="391.6" y1="63.9" x2="397.6" y2="60.0" stroke="#1e1e1e" stroke-width="1.3" opacity="0.51" stroke-linecap="round"/><line x1="469.3" y1="72.9" x2="476.3" y2="68.3" stroke="#1e1e1e" stroke-width="1.3" opacity="0.42" stroke-linecap="round"/><line x1="409.0" y1="74.8" x2="421.3" y2="64.9" stroke="#141414" stroke-width="0.5" opacity="0.32" stroke-linecap="round"/><line x1="412.7" y1="57.7" x2="427.7" y2="44.0" stroke="#1e1e1e" stroke-width="0.9" opacity="0.32" stroke-linecap="round"/><line x1="399.5" y1="88.4" x2="409.8" y2="80.1" stroke="#141414" stroke-width="0.6" opacity="0.45" stroke-linecap="round"/><line x1="428.6" y1="91.0" x2="446.0" y2="80.0" stroke="#1e1e1e" stroke-width="0.7" opacity="0.32" stroke-linecap="round"/><line x1="399.8" y1="40.8" x2="406.8" y2="35.6" stroke="#141414" stroke-width="0.7" opacity="0.38" stroke-linecap="round"/><line x1="429.2" y1="40.7" x2="437.9" y2="34.5" stroke="#141414" stroke-width="1.0" opacity="0.37" stroke-linecap="round"/><line x1="390.9" y1="95.7" x2="406.9" y2="85.2" stroke="#141414" stroke-width="0.7" opacity="0.33" stroke-linecap="round"/><line x1="451.3" y1="66.2" x2="467.8" y2="54.4" stroke="#141414" stroke-width="0.6" opacity="0.45" stroke-linecap="round"/><line x1="408.0" y1="76.4" x2="414.2" y2="71.8" stroke="#141414" stroke-width="0.6" opacity="0.34" stroke-linecap="round"/><line x1="399.6" y1="58.8" x2="405.2" y2="54.5" stroke="#141414" stroke-width="1.1" opacity="0.32" stroke-linecap="round"/><line x1="468.5" y1="78.5" x2="476.2" y2="70.9" stroke="#1e1e1e" stroke-width="1.0" opacity="0.38" stroke-linecap="round"/><line x1="441.2" y1="65.4" x2="454.2" y2="57.0" stroke="#1e1e1e" stroke-width="0.5" opacity="0.38" stroke-linecap="round"/><line x1="442.6" y1="74.3" x2="455.1" y2="62.8" stroke="#1e1e1e" stroke-width="1.1" opacity="0.56" stroke-linecap="round"/><line x1="465.0" y1="30.6" x2="475.8" y2="21.5" stroke="#1e1e1e" stroke-width="1.0" opacity="0.37" stroke-linecap="round"/><line x1="418.2" y1="95.9" x2="434.7" y2="85.9" stroke="#1e1e1e" stroke-width="0.5" opacity="0.49" stroke-linecap="round"/><line x1="392.1" y1="83.5" x2="401.8" y2="74.9" stroke="#141414" stroke-width="0.5" opacity="0.33" stroke-linecap="round"/><line x1="431.3" y1="34.5" x2="439.0" y2="27.5" stroke="#1e1e1e" stroke-width="0.7" opacity="0.36" stroke-linecap="round"/><line x1="398.9" y1="63.2" x2="405.5" y2="56.5" stroke="#1e1e1e" stroke-width="0.8" opacity="0.49" stroke-linecap="round"/><line x1="400.1" y1="59.8" x2="418.3" y2="48.9" stroke="#141414" stroke-width="1.3" opacity="0.41" stroke-linecap="round"/><line x1="410.0" y1="28.1" x2="416.8" y2="23.8" stroke="#141414" stroke-width="0.6" opacity="0.39" stroke-linecap="round"/><line x1="409.3" y1="79.5" x2="414.6" y2="74.8" stroke="#1e1e1e" stroke-width="0.6" opacity="0.35" stroke-linecap="round"/><line x1="448.4" y1="44.2" x2="460.6" y2="37.1" stroke="#1e1e1e" stroke-width="0.7" opacity="0.48" stroke-linecap="round"/><line x1="406.2" y1="54.3" x2="423.9" y2="42.3" stroke="#1e1e1e" stroke-width="0.6" opacity="0.44" stroke-linecap="round"/></g>
<rect x="394.30" y="24.80" width="90.70" height="68.20" fill="#8c8c8c" filter="url(#nzf)" opacity="0.28"/>
<rect x="394.30" y="24.80" width="90.70" height="68.20" fill="#000" filter="url(#nzd)" opacity="0.30"/>
<line x1="444.80" y1="37.80" x2="440.60" y2="47.00" stroke="#fff" stroke-width="1.0" stroke-linecap="round"/><line x1="440.60" y1="47.00" x2="440.34" y2="43.41" stroke="#fff" stroke-width="1.0" stroke-linecap="round"/><line x1="440.60" y1="47.00" x2="443.48" y2="44.84" stroke="#fff" stroke-width="1.0" stroke-linecap="round"/>
</g>
<text transform="translate(396.70,35.90) scale(0.975,1)" font-size="9.4" text-anchor="start" font-weight="normal" fill="#f0f0f0" stroke="#f0f0f0" stroke-width="0.18" >01:00.752</text>
<text transform="translate(8.60,121.00)" font-size="12.5" text-anchor="start" font-weight="bold" fill="#000" stroke="#000" stroke-width="0.18" >B</text>
<polygon points="81.8,235.4 82.7,235.4 82.7,224.2 83.6,224.2 83.6,214.8 84.5,214.8 84.5,210.4 85.4,210.4 85.4,206.0 86.3,206.0 86.3,204.0 87.2,204.0 87.2,201.5 88.1,201.5 88.1,199.3 89.0,199.3 89.0,197.4 89.9,197.4 89.9,196.3 90.8,196.3 90.8,195.8 91.7,195.8 91.7,194.3 92.6,194.3 92.6,193.7 93.5,193.7 93.5,193.5 94.4,193.5 94.4,192.6 95.3,192.6 95.3,192.0 96.2,192.0 96.2,191.7 97.1,191.7 97.1,191.7 98.0,191.7 98.0,190.9 98.9,190.9 98.9,191.0 99.8,191.0 99.8,191.7 100.7,191.7 100.7,192.1 101.6,192.1 101.6,191.9 102.5,191.9 102.5,192.2 103.4,192.2 103.4,192.8 104.3,192.8 104.3,194.9 105.2,194.9 105.2,194.6 106.1,194.6 106.1,195.7 107.0,195.7 107.0,198.1 107.9,198.1 107.9,198.4 108.8,198.4 108.8,200.9 109.7,200.9 109.7,201.4 110.6,201.4 110.6,204.1 111.5,204.1 111.5,205.7 112.4,205.7 112.4,206.3 113.3,206.3 113.3,208.1 114.2,208.1 114.2,210.0 115.1,210.0 115.1,210.9 116.0,210.9 116.0,211.8 116.9,211.8 116.9,212.6 117.8,212.6 117.8,212.5 118.7,212.5 118.7,213.9 119.6,213.9 119.6,214.4 120.5,214.4 120.5,214.0 121.4,214.0 121.4,215.3 122.3,215.3 122.3,215.6 123.2,215.6 123.2,215.2 124.1,215.2 124.1,216.2 125.0,216.2 125.0,216.9 125.9,216.9 125.9,216.9 126.8,216.9 126.8,217.0 127.7,217.0 127.7,216.4 128.6,216.4 128.6,217.2 129.5,217.2 129.5,217.9 130.4,217.9 130.4,217.2 131.3,217.2 131.3,218.3 132.2,218.3 132.2,217.8 133.1,217.8 133.1,218.8 134.0,218.8 134.0,218.0 134.9,218.0 134.9,218.7 135.8,218.7 135.8,219.3 136.7,219.3 136.7,219.1 137.6,219.1 137.6,219.2 138.5,219.2 138.5,218.9 139.4,218.9 139.4,219.5 140.3,219.5 140.3,219.8 141.2,219.8 141.2,219.2 142.1,219.2 142.1,219.3 143.0,219.3 143.0,219.0 143.9,219.0 143.9,220.3 144.8,220.3 144.8,219.8 145.7,219.8 145.7,220.3 146.6,220.3 146.6,219.9 147.5,219.9 147.5,220.2 148.4,220.2 148.4,219.5 149.3,219.5 149.3,220.0 150.2,220.0 150.2,220.8 151.1,220.8 151.1,221.1 152.0,221.1 152.0,220.4 152.9,220.4 152.9,221.4 153.8,221.4 153.8,220.9 154.7,220.9 154.7,221.2 155.6,221.2 155.6,221.6 156.5,221.6 156.5,220.9 157.4,220.9 157.4,221.0 158.3,221.0 158.3,221.1 159.2,221.1 159.2,221.8 160.1,221.8 160.1,221.2 161.0,221.2 161.0,221.9 161.9,221.9 161.9,221.5 162.8,221.5 162.8,221.9 163.7,221.9 163.7,222.1 164.6,222.1 164.6,222.8 165.5,222.8 165.5,221.7 166.4,221.7 166.4,222.1 167.3,222.1 167.3,222.2 168.2,222.2 168.2,222.6 169.1,222.6 169.1,223.2 170.0,223.2 170.0,223.3 170.9,223.3 170.9,222.8 171.8,222.8 171.8,222.5 172.7,222.5 172.7,222.7 173.6,222.7 173.6,223.2 174.5,223.2 174.5,223.2 175.4,223.2 175.4,223.4 176.3,223.4 176.3,222.6 177.2,222.6 177.2,223.2 178.1,223.2 178.1,223.4 179.0,223.4 179.0,223.7 179.9,223.7 179.9,222.9 180.8,222.9 180.8,222.9 181.7,222.9 181.7,223.3 182.6,223.3 182.6,224.0 183.5,224.0 183.5,223.1 184.4,223.1 184.4,223.3 185.3,223.3 185.3,223.9 186.2,223.9 186.2,223.7 187.1,223.7 187.1,224.1 188.0,224.1 188.0,223.6 188.9,223.6 188.9,224.1 189.8,224.1 189.8,216.9 190.7,216.9 190.7,213.9 191.6,213.9 191.6,212.8 192.5,212.8 192.5,212.9 193.4,212.9 193.4,213.4 194.3,213.4 194.3,213.7 195.2,213.7 195.2,213.1 196.1,213.1 196.1,212.5 197.0,212.5 197.0,213.4 197.9,213.4 197.9,231.5 197.0,231.5 197.0,231.7 196.1,231.7 196.1,231.4 195.2,231.4 195.2,231.5 194.3,231.5 194.3,232.3 193.4,232.3 193.4,232.0 192.5,232.0 192.5,231.2 191.6,231.2 191.6,231.2 190.7,231.2 190.7,231.7 189.8,231.7 189.8,232.1 188.9,232.1 188.9,231.6 188.0,231.6 188.0,231.5 187.1,231.5 187.1,231.3 186.2,231.3 186.2,231.1 185.3,231.1 185.3,232.1 184.4,232.1 184.4,232.0 183.5,232.0 183.5,231.5 182.6,231.5 182.6,231.2 181.7,231.2 181.7,231.3 180.8,231.3 180.8,232.0 179.9,232.0 179.9,231.3 179.0,231.3 179.0,231.6 178.1,231.6 178.1,231.9 177.2,231.9 177.2,231.5 176.3,231.5 176.3,230.9 175.4,230.9 175.4,231.5 174.5,231.5 174.5,230.6 173.6,230.6 173.6,231.8 172.7,231.8 172.7,231.2 171.8,231.2 171.8,230.8 170.9,230.8 170.9,231.3 170.0,231.3 170.0,231.6 169.1,231.6 169.1,231.8 168.2,231.8 168.2,231.6 167.3,231.6 167.3,231.5 166.4,231.5 166.4,232.2 165.5,232.2 165.5,232.0 164.6,232.0 164.6,232.1 163.7,232.1 163.7,231.9 162.8,231.9 162.8,232.2 161.9,232.2 161.9,232.6 161.0,232.6 161.0,232.7 160.1,232.7 160.1,232.5 159.2,232.5 159.2,232.8 158.3,232.8 158.3,232.6 157.4,232.6 157.4,232.9 156.5,232.9 156.5,232.5 155.6,232.5 155.6,233.1 154.7,233.1 154.7,232.8 153.8,232.8 153.8,232.7 152.9,232.7 152.9,233.2 152.0,233.2 152.0,233.1 151.1,233.1 151.1,232.0 150.2,232.0 150.2,232.7 149.3,232.7 149.3,232.8 148.4,232.8 148.4,233.1 147.5,233.1 147.5,232.1 146.6,232.1 146.6,232.4 145.7,232.4 145.7,231.9 144.8,231.9 144.8,232.2 143.9,232.2 143.9,232.1 143.0,232.1 143.0,232.1 142.1,232.1 142.1,232.8 141.2,232.8 141.2,232.0 140.3,232.0 140.3,232.6 139.4,232.6 139.4,232.0 138.5,232.0 138.5,232.7 137.6,232.7 137.6,232.5 136.7,232.5 136.7,232.8 135.8,232.8 135.8,231.7 134.9,231.7 134.9,232.3 134.0,232.3 134.0,232.7 133.1,232.7 133.1,232.7 132.2,232.7 132.2,231.6 131.3,231.6 131.3,232.4 130.4,232.4 130.4,231.5 129.5,231.5 129.5,232.4 128.6,232.4 128.6,231.8 127.7,231.8 127.7,231.7 126.8,231.7 126.8,231.8 125.9,231.8 125.9,231.8 125.0,231.8 125.0,231.1 124.1,231.1 124.1,231.4 123.2,231.4 123.2,231.3 122.3,231.3 122.3,232.3 121.4,232.3 121.4,231.8 120.5,231.8 120.5,231.5 119.6,231.5 119.6,232.2 118.7,232.2 118.7,232.2 117.8,232.2 117.8,232.5 116.9,232.5 116.9,233.5 116.0,233.5 116.0,233.8 115.1,233.8 115.1,233.8 114.2,233.8 114.2,233.4 113.3,233.4 113.3,233.0 112.4,233.0 112.4,232.7 111.5,232.7 111.5,232.9 110.6,232.9 110.6,231.3 109.7,231.3 109.7,228.5 108.8,228.5 108.8,226.2 107.9,226.2 107.9,225.5 107.0,225.5 107.0,224.0 106.1,224.0 106.1,222.9 105.2,222.9 105.2,221.8 104.3,221.8 104.3,222.1 103.4,222.1 103.4,220.9 102.5,220.9 102.5,220.4 101.6,220.4 101.6,219.5 100.7,219.5 100.7,219.6 99.8,219.6 99.8,220.0 98.9,220.0 98.9,220.3 98.0,220.3 98.0,219.2 97.1,219.2 97.1,219.5 96.2,219.5 96.2,219.6 95.3,219.6 95.3,220.0 94.4,220.0 94.4,219.7 93.5,219.7 93.5,219.5 92.6,219.5 92.6,219.5 91.7,219.5 91.7,219.7 90.8,219.7 90.8,221.1 89.9,221.1 89.9,222.2 89.0,222.2 89.0,221.6 88.1,221.6 88.1,223.7 87.2,223.7 87.2,224.8 86.3,224.8 86.3,227.4 85.4,227.4 85.4,230.2 84.5,230.2 84.5,233.4 83.6,233.4 83.6,236.0 82.7,236.0 82.7,238.7 81.8,238.7" fill="#b2d49a" />
<line x1="133.90" y1="186.00" x2="133.90" y2="221.00" stroke="#b3b78e" stroke-width="1.2" stroke-linecap="butt"/>
<line x1="132.70" y1="186.20" x2="135.10" y2="186.20" stroke="#b3b78e" stroke-width="1.0" stroke-linecap="butt"/>
<polygon points="74.8,237.4 75.7,237.4 75.7,234.4 76.6,234.4 76.6,230.7 77.5,230.7 77.5,226.0 78.4,226.0 78.4,222.3 79.3,222.3 79.3,219.8 80.2,219.8 80.2,216.8 81.1,216.8 81.1,217.1 82.0,217.1 82.0,216.5 82.9,216.5 82.9,216.5 83.8,216.5 83.8,217.4 84.7,217.4 84.7,217.9 85.6,217.9 85.6,221.0 86.5,221.0 86.5,225.9 87.4,225.9 87.4,231.2 88.3,231.2 88.3,233.0 89.2,233.0 89.2,232.9 90.1,232.9 90.1,233.2 91.0,233.2 91.0,233.4 91.9,233.4 91.9,233.4 92.8,233.4 92.8,233.4 93.7,233.4 93.7,233.8 94.6,233.8 94.6,233.1 95.5,233.1 95.5,233.5 96.4,233.5 96.4,233.7 97.3,233.7 97.3,233.2 98.2,233.2 98.2,233.9 99.1,233.9 99.1,233.5 100.0,233.5 100.0,233.6 100.9,233.6 100.9,233.3 101.8,233.3 101.8,233.3 102.7,233.3 102.7,233.7 103.6,233.7 103.6,233.9 104.5,233.9 104.5,233.5 105.4,233.5 105.4,233.2 106.3,233.2 106.3,233.1 107.2,233.1 107.2,233.1 108.1,233.1 108.1,233.8 109.0,233.8 109.0,233.7 109.9,233.7 109.9,233.4 110.8,233.4 110.8,233.2 111.7,233.2 111.7,233.7 112.6,233.7 112.6,233.2 113.5,233.2 113.5,233.8 114.4,233.8 114.4,233.1 115.3,233.1 115.3,233.5 116.2,233.5 116.2,233.5 117.1,233.5 117.1,233.5 118.0,233.5 118.0,233.1 118.9,233.1 118.9,233.6 119.8,233.6 119.8,233.5 120.7,233.5 120.7,233.4 121.6,233.4 121.6,233.5 122.5,233.5 122.5,233.2 123.4,233.2 123.4,233.8 124.3,233.8 124.3,233.9 125.2,233.9 125.2,233.3 126.1,233.3 126.1,233.6 127.0,233.6 127.0,233.9 127.9,233.9 127.9,233.2 128.8,233.2 128.8,233.3 129.7,233.3 129.7,233.9 130.6,233.9 130.6,233.4 131.5,233.4 131.5,233.7 132.4,233.7 132.4,234.0 133.3,234.0 133.3,234.0 134.2,234.0 134.2,233.8 135.1,233.8 135.1,233.6 136.0,233.6 136.0,233.7 136.9,233.7 136.9,233.6 137.8,233.6 137.8,233.9 138.7,233.9 138.7,233.5 139.6,233.5 139.6,233.3 140.5,233.3 140.5,233.3 141.4,233.3 141.4,233.4 142.3,233.4 142.3,233.3 143.2,233.3 143.2,233.8 144.1,233.8 144.1,233.9 145.0,233.9 145.0,233.3 145.9,233.3 145.9,233.9 146.8,233.9 146.8,233.9 147.7,233.9 147.7,233.4 148.6,233.4 148.6,233.4 149.5,233.4 149.5,233.8 150.4,233.8 150.4,234.1 151.3,234.1 151.3,233.5 152.2,233.5 152.2,233.3 153.1,233.3 153.1,233.7 154.0,233.7 154.0,233.7 154.9,233.7 154.9,234.0 155.8,234.0 155.8,234.1 156.7,234.1 156.7,233.7 157.6,233.7 157.6,233.7 158.5,233.7 158.5,234.0 159.4,234.0 159.4,233.4 160.3,233.4 160.3,233.4 161.2,233.4 161.2,234.2 162.1,234.2 162.1,233.8 163.0,233.8 163.0,233.9 163.9,233.9 163.9,233.8 164.8,233.8 164.8,233.7 165.7,233.7 165.7,233.6 166.6,233.6 166.6,234.1 167.5,234.1 167.5,233.6 168.4,233.6 168.4,234.1 169.3,234.1 169.3,233.8 170.2,233.8 170.2,233.4 171.1,233.4 171.1,233.6 172.0,233.6 172.0,233.7 172.9,233.7 172.9,233.7 173.8,233.7 173.8,233.4 174.7,233.4 174.7,234.0 175.6,234.0 175.6,233.6 176.5,233.6 176.5,233.6 177.4,233.6 177.4,233.5 178.3,233.5 178.3,233.7 179.2,233.7 179.2,233.6 180.1,233.6 180.1,233.7 181.0,233.7 181.0,234.0 181.9,234.0 181.9,234.3 182.8,234.3 182.8,233.7 183.7,233.7 183.7,234.1 184.6,234.1 184.6,233.7 185.5,233.7 185.5,233.7 186.4,233.7 186.4,233.9 187.3,233.9 187.3,233.4 188.2,233.4 188.2,233.7 189.1,233.7 189.1,233.5 190.0,233.5 190.0,233.8 190.9,233.8 190.9,234.1 191.8,234.1 191.8,234.3 192.7,234.3 192.7,234.0 193.6,234.0 193.6,234.2 194.5,234.2 194.5,233.9 195.4,233.9 195.4,233.5 196.3,233.5 196.3,233.5 197.2,233.5 197.2,233.7 198.1,233.7 198.1,233.9 199.0,233.9 199.0,239.4 198.1,239.4 198.1,239.1 197.2,239.1 197.2,239.4 196.3,239.4 196.3,239.4 195.4,239.4 195.4,239.4 194.5,239.4 194.5,239.4 193.6,239.4 193.6,239.1 192.7,239.1 192.7,239.2 191.8,239.2 191.8,239.4 190.9,239.4 190.9,239.4 190.0,239.4 190.0,239.0 189.1,239.0 189.1,239.4 188.2,239.4 188.2,239.4 187.3,239.4 187.3,239.4 186.4,239.4 186.4,239.4 185.5,239.4 185.5,239.3 184.6,239.3 184.6,239.4 183.7,239.4 183.7,239.4 182.8,239.4 182.8,239.3 181.9,239.3 181.9,239.4 181.0,239.4 181.0,239.1 180.1,239.1 180.1,239.4 179.2,239.4 179.2,239.4 178.3,239.4 178.3,239.4 177.4,239.4 177.4,239.4 176.5,239.4 176.5,239.4 175.6,239.4 175.6,239.4 174.7,239.4 174.7,239.4 173.8,239.4 173.8,239.4 172.9,239.4 172.9,239.4 172.0,239.4 172.0,239.4 171.1,239.4 171.1,239.4 170.2,239.4 170.2,239.0 169.3,239.0 169.3,239.1 168.4,239.1 168.4,239.4 167.5,239.4 167.5,239.4 166.6,239.4 166.6,239.4 165.7,239.4 165.7,239.0 164.8,239.0 164.8,239.4 163.9,239.4 163.9,239.4 163.0,239.4 163.0,239.4 162.1,239.4 162.1,239.4 161.2,239.4 161.2,239.1 160.3,239.1 160.3,239.4 159.4,239.4 159.4,239.2 158.5,239.2 158.5,239.1 157.6,239.1 157.6,239.4 156.7,239.4 156.7,239.0 155.8,239.0 155.8,239.1 154.9,239.1 154.9,239.4 154.0,239.4 154.0,239.4 153.1,239.4 153.1,239.1 152.2,239.1 152.2,239.4 151.3,239.4 151.3,239.2 150.4,239.2 150.4,239.4 149.5,239.4 149.5,239.1 148.6,239.1 148.6,239.4 147.7,239.4 147.7,239.1 146.8,239.1 146.8,239.4 145.9,239.4 145.9,239.1 145.0,239.1 145.0,239.4 144.1,239.4 144.1,239.4 143.2,239.4 143.2,239.3 142.3,239.3 142.3,239.4 141.4,239.4 141.4,239.2 140.5,239.2 140.5,239.4 139.6,239.4 139.6,239.4 138.7,239.4 138.7,239.4 137.8,239.4 137.8,239.1 136.9,239.1 136.9,239.4 136.0,239.4 136.0,239.4 135.1,239.4 135.1,239.2 134.2,239.2 134.2,239.4 133.3,239.4 133.3,239.4 132.4,239.4 132.4,239.4 131.5,239.4 131.5,239.3 130.6,239.3 130.6,239.2 129.7,239.2 129.7,239.0 128.8,239.0 128.8,239.1 127.9,239.1 127.9,239.4 127.0,239.4 127.0,239.3 126.1,239.3 126.1,239.4 125.2,239.4 125.2,239.4 124.3,239.4 124.3,239.4 123.4,239.4 123.4,239.4 122.5,239.4 122.5,239.4 121.6,239.4 121.6,239.1 120.7,239.1 120.7,239.4 119.8,239.4 119.8,239.4 118.9,239.4 118.9,239.4 118.0,239.4 118.0,239.0 117.1,239.0 117.1,239.4 116.2,239.4 116.2,239.2 115.3,239.2 115.3,239.4 114.4,239.4 114.4,239.4 113.5,239.4 113.5,239.4 112.6,239.4 112.6,239.3 111.7,239.3 111.7,239.4 110.8,239.4 110.8,239.4 109.9,239.4 109.9,239.4 109.0,239.4 109.0,239.4 108.1,239.4 108.1,239.1 107.2,239.1 107.2,239.4 106.3,239.4 106.3,239.4 105.4,239.4 105.4,239.4 104.5,239.4 104.5,239.1 103.6,239.1 103.6,239.4 102.7,239.4 102.7,239.2 101.8,239.2 101.8,239.1 100.9,239.1 100.9,239.0 100.0,239.0 100.0,239.4 99.1,239.4 99.1,239.4 98.2,239.4 98.2,239.3 97.3,239.3 97.3,239.4 96.4,239.4 96.4,239.4 95.5,239.4 95.5,239.4 94.6,239.4 94.6,239.4 93.7,239.4 93.7,239.4 92.8,239.4 92.8,239.4 91.9,239.4 91.9,239.2 91.0,239.2 91.0,239.4 90.1,239.4 90.1,239.4 89.2,239.4 89.2,239.4 88.3,239.4 88.3,239.4 87.4,239.4 87.4,239.4 86.5,239.4 86.5,239.4 85.6,239.4 85.6,239.1 84.7,239.1 84.7,239.4 83.8,239.4 83.8,239.4 82.9,239.4 82.9,239.4 82.0,239.4 82.0,239.3 81.1,239.3 81.1,239.2 80.2,239.2 80.2,239.4 79.3,239.4 79.3,239.2 78.4,239.2 78.4,239.2 77.5,239.2 77.5,239.4 76.6,239.4 76.6,239.4 75.7,239.4 75.7,239.4 74.8,239.4" fill="#eca58c" />
<polyline fill="none" stroke="#f4c984" stroke-width="4.0" stroke-linejoin="round" points="66.8,238.5 68.2,231.0 70.7,220.0 73.7,207.0 76.7,193.5 79.6,180.0 82.5,166.0 84.8,153.0 86.5,143.5 87.2,140.5 88.4,148.0 89.8,158.0 91.2,148.0 92.5,144.5 93.6,152.0 94.8,170.0 96.0,184.0 97.6,192.0 99.2,197.5 102.0,203.0 105.0,207.5 108.5,211.0 113.0,214.0 118.0,216.5 122.0,218.5 130.0,220.5 139.0,222.2 150.0,223.6 165.0,225.0 180.0,226.2 190.0,226.8 197.8,227.0"/>
<polygon points="86.6,146.0 93.0,150.0 93.6,163.0 86.0,160.0" fill="#f4c984" />
<polygon points="66.6,227.9 68.2,227.9 68.2,227.5 69.8,227.5 69.8,220.5 71.4,220.5 71.4,212.8 73.0,212.8 73.0,205.3 74.6,205.3 74.6,198.9 76.2,198.9 76.2,192.0 77.8,192.0 77.8,184.1 79.4,184.1 79.4,177.3 81.0,177.3 81.0,169.6 82.6,169.6 82.6,161.8 84.2,161.8 84.2,152.9 85.8,152.9 85.8,143.6 87.4,143.6 87.4,137.4 89.0,137.4 89.0,147.5 90.6,147.5 90.6,149.0 92.2,149.0 92.2,141.4 93.8,141.4 93.8,150.2 95.4,150.2 95.4,173.0 97.0,173.0 97.0,184.6 98.6,184.6 98.6,190.7 100.2,190.7 100.2,195.3 101.8,195.3 101.8,198.4 103.4,198.4 103.4,201.6 105.0,201.6 105.0,203.5 106.6,203.5 106.6,204.8 108.2,204.8 108.2,206.0 109.8,206.0 109.8,206.9 111.4,206.9 111.4,207.7 113.0,207.7 113.0,208.4 114.6,208.4 114.6,209.6 116.2,209.6 116.2,211.4 117.8,211.4 117.8,211.1 119.4,211.1 119.4,212.6 121.0,212.6 121.0,212.9 122.6,212.9 122.6,213.7 124.2,213.7 124.2,213.8 125.8,213.8 125.8,215.1 127.4,215.1 127.4,214.4 129.0,214.4 129.0,216.2 130.6,216.2 130.6,216.2 132.2,216.2 132.2,215.9 133.8,215.9 133.8,216.4 135.4,216.4 135.4,217.4 137.0,217.4 137.0,216.9 138.6,216.9 138.6,217.5 140.2,217.5 140.2,218.0 141.8,218.0 141.8,217.4 143.4,217.4 143.4,218.6 145.0,218.6 145.0,217.7 146.6,217.7 146.6,217.9 148.2,217.9 148.2,218.7 149.8,218.7 149.8,218.3 151.4,218.3 151.4,218.7 153.0,218.7 153.0,219.4 154.6,219.4 154.6,218.8 156.2,218.8 156.2,219.5 157.8,219.5 157.8,220.2 159.4,220.2 159.4,220.4 161.0,220.4 161.0,219.7 162.6,219.7 162.6,219.7 164.2,219.7 164.2,219.7 165.8,219.7 165.8,220.7 167.4,220.7 167.4,221.1 169.0,221.1 169.0,220.2 170.6,220.2 170.6,221.0 172.2,221.0 172.2,221.0 173.8,221.0 173.8,221.1 175.4,221.1 175.4,220.7 177.0,220.7 177.0,220.5 178.6,220.5 178.6,220.6 180.2,220.6 180.2,220.9 181.8,220.9 181.8,221.8 183.4,221.8 183.4,220.9 185.0,220.9 185.0,222.1 186.6,222.1 186.6,222.0 188.2,222.0 188.2,222.1 189.8,222.1 189.8,222.5 191.4,222.5 191.4,221.6 193.0,221.6 193.0,221.5 194.6,221.5 194.6,222.6 196.2,222.6 196.2,221.5 197.8,221.5 197.8,223.0 199.4,223.0 199.4,231.8 197.8,231.8 197.8,231.4 196.2,231.4 196.2,232.1 194.6,232.1 194.6,231.8 193.0,231.8 193.0,231.7 191.4,231.7 191.4,231.7 189.8,231.7 189.8,231.3 188.2,231.3 188.2,231.2 186.6,231.2 186.6,231.1 185.0,231.1 185.0,231.8 183.4,231.8 183.4,230.9 181.8,230.9 181.8,230.7 180.2,230.7 180.2,230.8 178.6,230.8 178.6,231.5 177.0,231.5 177.0,230.7 175.4,230.7 175.4,229.9 173.8,229.9 173.8,230.7 172.2,230.7 172.2,229.7 170.6,229.7 170.6,230.4 169.0,230.4 169.0,229.7 167.4,229.7 167.4,230.1 165.8,230.1 165.8,229.0 164.2,229.0 164.2,229.3 162.6,229.3 162.6,229.4 161.0,229.4 161.0,228.6 159.4,228.6 159.4,229.7 157.8,229.7 157.8,228.8 156.2,228.8 156.2,229.5 154.6,229.5 154.6,228.8 153.0,228.8 153.0,229.3 151.4,229.3 151.4,228.2 149.8,228.2 149.8,227.8 148.2,227.8 148.2,227.5 146.6,227.5 146.6,228.0 145.0,228.0 145.0,227.0 143.4,227.0 143.4,227.9 141.8,227.9 141.8,226.9 140.2,226.9 140.2,226.9 138.6,226.9 138.6,226.8 137.0,226.8 137.0,226.6 135.4,226.6 135.4,225.3 133.8,225.3 133.8,225.1 132.2,225.1 132.2,225.3 130.6,225.3 130.6,224.3 129.0,224.3 129.0,225.3 127.4,225.3 127.4,225.0 125.8,225.0 125.8,223.4 124.2,223.4 124.2,223.7 122.6,223.7 122.6,222.9 121.0,222.9 121.0,221.6 119.4,221.6 119.4,221.4 117.8,221.4 117.8,221.0 116.2,221.0 116.2,219.2 114.6,219.2 114.6,219.5 113.0,219.5 113.0,217.8 111.4,217.8 111.4,216.5 109.8,216.5 109.8,215.1 108.2,215.1 108.2,213.7 106.6,213.7 106.6,210.9 105.0,210.9 105.0,208.4 103.4,208.4 103.4,206.5 101.8,206.5 101.8,202.8 100.2,202.8 100.2,199.9 98.6,199.9 98.6,192.9 97.0,192.9 97.0,181.7 95.4,181.7 95.4,158.6 93.8,158.6 93.8,149.3 92.2,149.3 92.2,156.9 90.6,156.9 90.6,157.0 89.0,157.0 89.0,145.0 87.4,145.0 87.4,152.0 85.8,152.0 85.8,160.8 84.2,160.8 84.2,168.7 82.6,168.7 82.6,176.5 81.0,176.5 81.0,185.3 79.4,185.3 79.4,192.5 77.8,192.5 77.8,199.4 76.2,199.4 76.2,207.1 74.6,207.1 74.6,213.9 73.0,213.9 73.0,220.3 71.4,220.3 71.4,228.0 69.8,228.0 69.8,235.0 68.2,235.0 68.2,240.5 66.6,240.5" fill="#f4c984" />
<polyline fill="none" stroke="#efba6a" stroke-width="1.1" stroke-linejoin="round" opacity="0.7" points="66.8,238.5 68.2,231.0 70.7,220.0 73.7,207.0 76.7,193.5 79.6,180.0 82.5,166.0 84.8,153.0 86.5,143.5 87.2,140.5 88.4,148.0 89.8,158.0 91.2,148.0 92.5,144.5 93.6,152.0 94.8,170.0 96.0,184.0 97.6,192.0 99.2,197.5 102.0,203.0 105.0,207.5 108.5,211.0 113.0,214.0 118.0,216.5 122.0,218.5 130.0,220.5 139.0,222.2 150.0,223.6 165.0,225.0 180.0,226.2 190.0,226.8 197.8,227.0"/>
<polygon points="88.0,233.5 89.5,233.5 89.5,233.2 91.0,233.2 91.0,233.3 92.5,233.3 92.5,233.5 94.0,233.5 94.0,233.8 95.5,233.8 95.5,233.4 97.0,233.4 97.0,233.8 98.5,233.8 98.5,233.8 100.0,233.8 100.0,233.5 101.5,233.5 101.5,233.7 103.0,233.7 103.0,233.5 104.5,233.5 104.5,233.6 106.0,233.6 106.0,233.3 107.5,233.3 107.5,233.6 109.0,233.6 109.0,233.4 110.5,233.4 110.5,233.3 112.0,233.3 112.0,233.4 113.5,233.4 113.5,233.4 115.0,233.4 115.0,233.4 116.5,233.4 116.5,233.3 118.0,233.3 118.0,233.6 119.5,233.6 119.5,233.4 121.0,233.4 121.0,233.7 122.5,233.7 122.5,233.5 124.0,233.5 124.0,233.7 125.5,233.7 125.5,233.8 127.0,233.8 127.0,233.8 128.5,233.8 128.5,233.9 130.0,233.9 130.0,233.9 131.5,233.9 131.5,233.5 133.0,233.5 133.0,233.9 134.5,233.9 134.5,233.6 136.0,233.6 136.0,234.0 137.5,234.0 137.5,233.9 139.0,233.9 139.0,233.8 140.5,233.8 140.5,233.6 142.0,233.6 142.0,233.9 143.5,233.9 143.5,233.9 145.0,233.9 145.0,233.8 146.5,233.8 146.5,233.5 148.0,233.5 148.0,233.9 149.5,233.9 149.5,233.5 151.0,233.5 151.0,233.7 152.5,233.7 152.5,233.7 154.0,233.7 154.0,234.0 155.5,234.0 155.5,233.6 157.0,233.6 157.0,233.7 158.5,233.7 158.5,233.9 160.0,233.9 160.0,233.7 161.5,233.7 161.5,234.1 163.0,234.1 163.0,233.8 164.5,233.8 164.5,233.6 166.0,233.6 166.0,234.0 167.5,234.0 167.5,233.9 169.0,233.9 169.0,233.6 170.5,233.6 170.5,233.7 172.0,233.7 172.0,233.9 173.5,233.9 173.5,234.0 175.0,234.0 175.0,234.1 176.5,234.1 176.5,233.6 178.0,233.6 178.0,234.1 179.5,234.1 179.5,233.7 181.0,233.7 181.0,233.8 182.5,233.8 182.5,233.6 184.0,233.6 184.0,233.6 185.5,233.6 185.5,233.7 187.0,233.7 187.0,233.6 188.5,233.6 188.5,233.7 190.0,233.7 190.0,233.8 191.5,233.8 191.5,234.1 193.0,234.1 193.0,234.0 194.5,234.0 194.5,234.1 196.0,234.1 196.0,233.9 197.5,233.9 197.5,234.0 199.0,234.0 199.0,237.8 197.5,237.8 197.5,237.8 196.0,237.8 196.0,237.6 194.5,237.6 194.5,237.6 193.0,237.6 193.0,237.9 191.5,237.9 191.5,237.7 190.0,237.7 190.0,237.5 188.5,237.5 188.5,237.5 187.0,237.5 187.0,237.7 185.5,237.7 185.5,237.6 184.0,237.6 184.0,237.8 182.5,237.8 182.5,237.7 181.0,237.7 181.0,237.5 179.5,237.5 179.5,237.6 178.0,237.6 178.0,237.9 176.5,237.9 176.5,237.9 175.0,237.9 175.0,237.9 173.5,237.9 173.5,237.7 172.0,237.7 172.0,238.0 170.5,238.0 170.5,237.7 169.0,237.7 169.0,237.6 167.5,237.6 167.5,237.5 166.0,237.5 166.0,237.8 164.5,237.8 164.5,237.9 163.0,237.9 163.0,237.7 161.5,237.7 161.5,237.5 160.0,237.5 160.0,238.0 158.5,238.0 158.5,237.7 157.0,237.7 157.0,237.6 155.5,237.6 155.5,238.0 154.0,238.0 154.0,237.5 152.5,237.5 152.5,238.0 151.0,238.0 151.0,237.6 149.5,237.6 149.5,237.9 148.0,237.9 148.0,237.7 146.5,237.7 146.5,237.7 145.0,237.7 145.0,237.9 143.5,237.9 143.5,237.6 142.0,237.6 142.0,237.5 140.5,237.5 140.5,237.8 139.0,237.8 139.0,237.5 137.5,237.5 137.5,237.5 136.0,237.5 136.0,237.9 134.5,237.9 134.5,237.7 133.0,237.7 133.0,237.5 131.5,237.5 131.5,237.8 130.0,237.8 130.0,237.6 128.5,237.6 128.5,238.0 127.0,238.0 127.0,237.7 125.5,237.7 125.5,237.5 124.0,237.5 124.0,238.0 122.5,238.0 122.5,237.5 121.0,237.5 121.0,237.7 119.5,237.7 119.5,237.8 118.0,237.8 118.0,237.8 116.5,237.8 116.5,237.9 115.0,237.9 115.0,237.9 113.5,237.9 113.5,237.8 112.0,237.8 112.0,237.6 110.5,237.6 110.5,237.8 109.0,237.8 109.0,237.7 107.5,237.7 107.5,237.8 106.0,237.8 106.0,237.6 104.5,237.6 104.5,237.9 103.0,237.9 103.0,237.9 101.5,237.9 101.5,237.5 100.0,237.5 100.0,237.8 98.5,237.8 98.5,237.8 97.0,237.8 97.0,237.9 95.5,237.9 95.5,237.4 94.0,237.4 94.0,237.9 92.5,237.9 92.5,237.4 91.0,237.4 91.0,237.8 89.5,237.8 89.5,237.7 88.0,237.7" fill="#eca286" />
<rect x="66.60" y="237.30" width="131.80" height="2.60" fill="#6d4c98" />
<polygon points="77.6,239.0 79.0,236.0 82.0,235.0 84.5,236.0 85.6,239.0" fill="#5a50c0" />
<line x1="66.60" y1="117.60" x2="66.60" y2="240.30" stroke="#000" stroke-width="1.6" stroke-linecap="butt"/>
<line x1="66.00" y1="239.60" x2="200.40" y2="239.60" stroke="#2a1d4a" stroke-width="1.3" stroke-linecap="butt"/>
<line x1="63.20" y1="119.60" x2="66.60" y2="119.60" stroke="#0a0a0a" stroke-width="1.3" stroke-linecap="butt"/>
<text transform="translate(61.2,123.50) scale(1.03,1)" font-size="8.7" text-anchor="end" fill="#0a0a0a">3x10<tspan font-size="5.8" dy="-3.4">05</tspan></text>
<line x1="63.20" y1="159.60" x2="66.60" y2="159.60" stroke="#0a0a0a" stroke-width="1.3" stroke-linecap="butt"/>
<text transform="translate(61.2,163.50) scale(1.03,1)" font-size="8.7" text-anchor="end" fill="#0a0a0a">2x10<tspan font-size="5.8" dy="-3.4">05</tspan></text>
<line x1="63.20" y1="199.60" x2="66.60" y2="199.60" stroke="#0a0a0a" stroke-width="1.3" stroke-linecap="butt"/>
<text transform="translate(61.2,203.50) scale(1.03,1)" font-size="8.7" text-anchor="end" fill="#0a0a0a">1x10<tspan font-size="5.8" dy="-3.4">05</tspan></text>
<line x1="63.20" y1="239.60" x2="66.60" y2="239.60" stroke="#0a0a0a" stroke-width="1.3" stroke-linecap="butt"/>
<text transform="translate(60.80,243.20)" font-size="8.7" text-anchor="end" font-weight="normal" fill="#0a0a0a" stroke="#0a0a0a" stroke-width="0.18" >0</text>
<line x1="98.90" y1="239.60" x2="98.90" y2="243.00" stroke="#0a0a0a" stroke-width="1.1" stroke-linecap="butt"/>
<text transform="translate(98.90,254.20)" font-size="8.7" text-anchor="middle" font-weight="normal" fill="#0a0a0a" stroke="#0a0a0a" stroke-width="0.18" >60</text>
<line x1="131.60" y1="239.60" x2="131.60" y2="243.00" stroke="#0a0a0a" stroke-width="1.1" stroke-linecap="butt"/>
<text transform="translate(131.60,254.20)" font-size="8.7" text-anchor="middle" font-weight="normal" fill="#0a0a0a" stroke="#0a0a0a" stroke-width="0.18" >120</text>
<line x1="164.30" y1="239.60" x2="164.30" y2="243.00" stroke="#0a0a0a" stroke-width="1.1" stroke-linecap="butt"/>
<text transform="translate(164.30,254.20)" font-size="8.7" text-anchor="middle" font-weight="normal" fill="#0a0a0a" stroke="#0a0a0a" stroke-width="0.18" >180</text>
<line x1="197.00" y1="239.60" x2="197.00" y2="243.00" stroke="#0a0a0a" stroke-width="1.1" stroke-linecap="butt"/>
<text transform="translate(197.00,254.20)" font-size="8.7" text-anchor="middle" font-weight="normal" fill="#0a0a0a" stroke="#0a0a0a" stroke-width="0.18" >240</text>
<text transform="translate(133.40,267.60) scale(0.865,1)" font-size="10.4" text-anchor="middle" font-weight="normal" fill="#0a0a0a" stroke="#0a0a0a" stroke-width="0.18" >Time (sec)</text>
<text transform="translate(28.10,178.60) rotate(-90) scale(0.99,1)" font-size="9.0" text-anchor="middle" font-weight="normal" fill="#0a0a0a" stroke="#0a0a0a" stroke-width="0.18" >Platelet MFI</text>
<line x1="203.20" y1="120.90" x2="218.30" y2="120.90" stroke="#dba640" stroke-width="1.4" stroke-linecap="butt"/>
<text transform="translate(221.90,124.00)" font-size="8.7" text-anchor="start" font-weight="normal" fill="#0a0a0a" stroke="#0a0a0a" stroke-width="0.18" >Control</text>
<line x1="203.20" y1="133.35" x2="218.30" y2="133.35" stroke="#c63d30" stroke-width="1.4" stroke-linecap="butt"/>
<text transform="translate(221.90,136.45)" font-size="8.7" text-anchor="start" font-weight="normal" fill="#0a0a0a" stroke="#0a0a0a" stroke-width="0.18" >PSI A1</text>
<line x1="203.20" y1="145.80" x2="218.30" y2="145.80" stroke="#7da85c" stroke-width="1.4" stroke-linecap="butt"/>
<text transform="translate(221.90,148.90)" font-size="8.7" text-anchor="start" font-weight="normal" fill="#0a0a0a" stroke="#0a0a0a" stroke-width="0.18" >PSI B1</text>
<line x1="203.20" y1="158.25" x2="218.30" y2="158.25" stroke="#211c6e" stroke-width="1.4" stroke-linecap="butt"/>
<text transform="translate(221.90,161.35)" font-size="8.7" text-anchor="start" font-weight="normal" fill="#0a0a0a" stroke="#0a0a0a" stroke-width="0.18" >PSI C1</text>
<line x1="203.20" y1="170.70" x2="218.30" y2="170.70" stroke="#7d4a86" stroke-width="1.4" stroke-linecap="butt"/>
<text transform="translate(221.90,173.80)" font-size="8.7" text-anchor="start" font-weight="normal" fill="#0a0a0a" stroke="#0a0a0a" stroke-width="0.18" >PSI E1</text>
<rect x="335.90" y="153.30" width="24.20" height="86.30" fill="#e8921e" />
<line x1="348.00" y1="143.30" x2="348.00" y2="153.60" stroke="#0a0a0a" stroke-width="1.4" stroke-linecap="butt"/>
<line x1="342.30" y1="143.30" x2="353.70" y2="143.30" stroke="#0a0a0a" stroke-width="1.4" stroke-linecap="butt"/>
<rect x="371.90" y="237.30" width="24.20" height="2.30" fill="#d4352a" />
<line x1="384.00" y1="235.70" x2="384.00" y2="237.50" stroke="#0a0a0a" stroke-width="1.2" stroke-linecap="butt"/>
<line x1="378.40" y1="235.70" x2="389.80" y2="235.70" stroke="#0a0a0a" stroke-width="1.2" stroke-linecap="butt"/>
<rect x="408.90" y="218.90" width="24.00" height="20.70" fill="#5cab48" />
<line x1="420.80" y1="199.80" x2="420.80" y2="219.20" stroke="#0a0a0a" stroke-width="1.4" stroke-linecap="butt"/>
<line x1="415.00" y1="199.80" x2="426.60" y2="199.80" stroke="#0a0a0a" stroke-width="1.4" stroke-linecap="butt"/>
<line x1="451.00" y1="238.40" x2="463.00" y2="238.40" stroke="#0a0a0a" stroke-width="1.1" stroke-linecap="butt"/>
<rect x="481.20" y="237.60" width="24.40" height="2.00" fill="#8a4a9c" />
<line x1="493.60" y1="236.30" x2="493.60" y2="237.80" stroke="#0a0a0a" stroke-width="1.2" stroke-linecap="butt"/>
<line x1="487.80" y1="236.30" x2="499.40" y2="236.30" stroke="#0a0a0a" stroke-width="1.2" stroke-linecap="butt"/>
<line x1="329.80" y1="115.60" x2="329.80" y2="240.30" stroke="#000" stroke-width="1.6" stroke-linecap="butt"/>
<line x1="329.00" y1="239.60" x2="512.50" y2="239.60" stroke="#000" stroke-width="1.6" stroke-linecap="butt"/>
<line x1="326.40" y1="117.70" x2="329.80" y2="117.70" stroke="#0a0a0a" stroke-width="1.3" stroke-linecap="butt"/>
<text transform="translate(324.4,121.60) scale(1.03,1)" font-size="8.7" text-anchor="end" fill="#0a0a0a">3x10<tspan font-size="5.8" dy="-3.4">05</tspan></text>
<line x1="326.40" y1="158.33" x2="329.80" y2="158.33" stroke="#0a0a0a" stroke-width="1.3" stroke-linecap="butt"/>
<text transform="translate(324.4,162.23) scale(1.03,1)" font-size="8.7" text-anchor="end" fill="#0a0a0a">2x10<tspan font-size="5.8" dy="-3.4">05</tspan></text>
<line x1="326.40" y1="198.96" x2="329.80" y2="198.96" stroke="#0a0a0a" stroke-width="1.3" stroke-linecap="butt"/>
<text transform="translate(324.4,202.86) scale(1.03,1)" font-size="8.7" text-anchor="end" fill="#0a0a0a">1x10<tspan font-size="5.8" dy="-3.4">05</tspan></text>
<line x1="326.40" y1="239.59" x2="329.80" y2="239.59" stroke="#0a0a0a" stroke-width="1.3" stroke-linecap="butt"/>
<text transform="translate(324.00,243.19)" font-size="8.7" text-anchor="end" font-weight="normal" fill="#0a0a0a" stroke="#0a0a0a" stroke-width="0.18" >0</text>
<line x1="348.00" y1="239.60" x2="348.00" y2="243.00" stroke="#0a0a0a" stroke-width="1.1" stroke-linecap="butt"/>
<text transform="translate(347.40,253.70)" font-size="8.6" text-anchor="middle" font-weight="normal" fill="#0a0a0a" stroke="#0a0a0a" stroke-width="0.18" >Control</text>
<line x1="384.00" y1="239.60" x2="384.00" y2="243.00" stroke="#0a0a0a" stroke-width="1.1" stroke-linecap="butt"/>
<text transform="translate(384.00,253.70)" font-size="8.6" text-anchor="middle" font-weight="normal" fill="#0a0a0a" stroke="#0a0a0a" stroke-width="0.18" >PSI A1</text>
<line x1="420.70" y1="239.60" x2="420.70" y2="243.00" stroke="#0a0a0a" stroke-width="1.1" stroke-linecap="butt"/>
<text transform="translate(420.70,253.70)" font-size="8.6" text-anchor="middle" font-weight="normal" fill="#0a0a0a" stroke="#0a0a0a" stroke-width="0.18" >PSI B1</text>
<line x1="457.00" y1="239.60" x2="457.00" y2="243.00" stroke="#0a0a0a" stroke-width="1.1" stroke-linecap="butt"/>
<text transform="translate(457.00,253.70)" font-size="8.6" text-anchor="middle" font-weight="normal" fill="#0a0a0a" stroke="#0a0a0a" stroke-width="0.18" >PSI C1</text>
<line x1="493.60" y1="239.60" x2="493.60" y2="243.00" stroke="#0a0a0a" stroke-width="1.1" stroke-linecap="butt"/>
<text transform="translate(493.60,253.70)" font-size="8.6" text-anchor="middle" font-weight="normal" fill="#0a0a0a" stroke="#0a0a0a" stroke-width="0.18" >PSI E1</text>
<text transform="translate(292.20,177.60) rotate(-90) scale(0.99,1)" font-size="9.0" text-anchor="middle" font-weight="normal" fill="#0a0a0a" stroke="#0a0a0a" stroke-width="0.18" >Platelet MFI</text>
<line x1="381.40" y1="190.50" x2="493.80" y2="190.50" stroke="#0a0a0a" stroke-width="1.4" stroke-linecap="butt"/>
<text transform="translate(437.80,189.20)" font-size="9.4" text-anchor="middle" font-weight="normal" fill="#0a0a0a" stroke="#0a0a0a" stroke-width="0.18" >***</text>
<text transform="translate(7.90,297.40)" font-size="12.5" text-anchor="start" font-weight="bold" fill="#000" stroke="#000" stroke-width="0.18" >C</text>
<polygon points="34.6,310.3 35.0,308.5 35.3,310.7 35.6,310.5 36.0,311.5 36.4,310.6 36.7,308.3 37.1,311.5 37.4,311.0 37.8,310.7 38.1,311.4 38.5,310.4 38.8,311.7 39.1,311.6 39.5,310.4 39.9,311.5 40.2,311.5 40.5,311.4 40.9,310.9 41.2,311.2 41.6,310.9 42.0,311.0 42.3,311.4 42.6,311.3 43.0,310.7 43.4,310.1 43.7,311.5 44.0,311.0 44.4,311.5 44.8,310.3 45.1,309.8 45.5,310.9 45.8,310.7 46.1,310.8 46.5,310.8 46.9,309.7 47.2,310.9 47.5,310.6 47.9,310.4 48.2,310.8 48.6,310.4 49.0,310.2 49.3,311.0 49.6,310.6 50.0,310.9 50.4,310.7 50.7,309.9 51.0,310.2 51.4,310.6 51.8,309.3 52.1,309.8 52.5,310.0 52.8,310.5 53.1,308.4 53.5,310.7 53.9,309.8 54.2,310.7 54.5,311.1 54.9,310.9 55.2,310.8 55.6,310.5 56.0,308.5 56.3,310.6 56.6,310.2 57.0,309.9 57.4,310.9 57.7,310.5 58.0,310.2 58.4,310.2 58.8,310.0 59.1,309.9 59.5,310.6 59.8,310.4 60.1,309.2 60.5,309.5 60.9,309.4 61.2,310.5 61.5,307.0 61.9,309.4 62.2,309.5 62.6,308.3 63.0,309.1 63.3,308.2 63.6,310.2 64.0,309.9 64.3,310.1 64.7,310.2 65.0,309.8 65.4,309.2 65.8,308.9 66.1,308.3 66.5,309.0 66.8,309.3 67.2,309.6 67.5,307.1 67.8,308.3 68.2,307.6 68.5,308.9 68.9,306.9 69.2,307.4 69.6,307.9 69.9,308.8 70.3,308.7 70.7,308.4 71.0,306.9 71.3,307.6 71.7,308.0 72.0,305.9 72.4,307.7 72.8,305.3 73.1,307.2 73.4,307.1 73.8,307.2 74.2,307.1 74.5,306.9 74.8,304.8 75.2,306.9 75.5,306.5 75.9,306.8 76.2,307.0 76.6,305.3 76.9,306.9 77.3,306.1 77.7,306.5 78.0,306.7 78.3,306.7 78.7,306.4 79.0,305.7 79.4,305.5 79.8,305.5 80.1,306.4 80.4,305.0 80.8,306.2 81.2,303.7 81.5,305.0 81.8,305.9 82.2,305.4 82.5,306.1 82.9,305.3 83.2,306.0 83.6,305.7 83.9,305.0 84.3,305.5 84.7,304.0 85.0,303.8 85.3,305.0 85.7,304.1 86.0,304.5 86.4,305.2 86.8,303.3 87.1,304.9 87.4,304.7 87.8,305.2 88.2,304.6 88.5,303.4 88.8,304.7 89.2,305.0 89.5,304.8 89.9,304.7 90.2,303.5 90.6,302.9 90.9,304.6 91.3,303.5 91.7,303.7 92.0,304.5 92.3,302.5 92.7,303.4 93.0,304.5 93.4,304.1 93.8,303.8 94.1,303.7 94.4,304.6 94.8,303.0 95.2,304.3 95.5,303.8 95.8,303.8 96.2,303.7 96.5,304.2 96.9,304.4 97.2,302.8 97.6,304.1 97.9,303.0 98.3,303.9 98.7,304.2 99.0,304.0 99.3,304.3 99.7,301.1 100.1,304.6 100.4,304.6 100.8,304.0 101.1,302.4 101.4,304.2 101.8,303.4 102.2,303.9 102.5,304.8 102.8,304.1 103.2,304.1 103.5,304.2 103.9,303.5 104.2,303.8 104.6,305.1 104.9,304.8 105.3,305.0 105.7,305.1 106.0,305.0 106.3,303.8 106.7,305.1 107.0,305.3 107.4,305.2 107.8,305.6 108.1,305.3 108.4,303.7 108.8,305.5 109.2,305.3 109.5,304.7 109.8,305.5 110.2,305.5 110.5,305.2 110.9,303.7 111.2,304.8 111.6,305.3 111.9,305.1 112.3,305.1 112.7,305.5 113.0,305.3 113.3,304.6 113.7,304.3 114.0,303.8 114.4,303.0 114.8,302.6 115.1,301.4 115.4,301.2 115.8,300.9 116.2,300.6 116.5,299.9 116.8,300.4 117.2,302.1 117.5,302.9 117.9,304.8 118.2,304.9 118.6,306.8 118.9,309.5 119.3,312.9 119.7,317.0 120.0,318.9 120.3,314.1 120.7,309.6 121.0,307.4 121.4,305.8 121.8,306.6 122.1,307.9 122.4,310.4 122.8,316.1 123.2,320.9 123.5,319.0 123.8,312.4 124.2,310.2 124.5,308.5 124.9,309.6 125.2,311.9 125.6,316.3 125.9,320.1 126.3,322.8 126.7,328.5 127.0,332.5 127.3,337.1 127.7,340.0 128.0,342.3 128.4,341.9 128.8,342.5 129.1,342.0 129.4,342.6 129.8,342.4 130.2,342.8 130.5,342.8 130.8,341.9 131.2,342.7 131.5,341.7 131.9,341.9 132.2,341.4 132.6,342.4 132.9,342.0 133.3,342.7 133.7,342.8 134.0,341.4 134.3,342.5 134.7,342.0 135.0,342.8 135.4,343.4 135.8,343.3 136.1,343.1 136.4,342.9 136.8,343.0 137.2,342.1 137.5,342.5 137.8,343.3 138.2,342.3 138.5,343.2 138.9,343.4 139.2,343.2 139.6,343.3 139.9,343.3 140.3,342.6 140.7,342.3 141.0,342.4 141.3,343.0 141.7,342.5 142.0,342.7 142.4,343.0 142.8,343.3 143.1,341.2 143.4,342.8 143.8,342.9 144.2,342.6 144.5,340.4 144.8,341.7 145.2,343.1 145.5,342.9 145.9,342.8 146.2,343.2 146.6,342.1 146.9,342.6 147.3,342.6 147.7,343.0 148.0,341.9 148.3,342.2 148.7,342.8 149.0,343.0 149.4,343.0 149.8,342.4 150.1,342.6 150.4,343.0 150.8,342.5 151.2,342.4 151.5,342.8 151.8,342.3 152.2,342.5 152.5,342.0 152.9,342.1 153.2,338.9 153.6,341.9 153.9,341.4 154.3,342.1 154.7,341.1 155.0,341.5 155.3,341.9 155.7,339.9 156.0,340.2 156.4,341.9 156.8,341.2 157.1,341.4 157.4,340.4 157.8,340.9 158.2,340.5 158.5,341.0 158.8,339.0 159.2,340.4 159.5,339.1 159.9,339.7 160.2,339.8 160.6,338.9 160.9,339.4 161.3,339.1 161.7,338.3 162.0,337.9 162.3,337.2 162.7,336.8 163.0,336.8 163.4,335.9 163.8,335.3 164.1,335.5 164.4,338.2 164.4,354.7 164.1,354.3 163.8,354.2 163.4,354.3 163.0,354.4 162.7,354.7 162.3,355.1 162.0,354.5 161.7,354.3 161.3,354.2 160.9,354.6 160.6,354.4 160.2,354.2 159.9,355.3 159.5,355.0 159.2,355.3 158.8,354.4 158.5,354.3 158.2,354.3 157.8,355.0 157.4,355.2 157.1,354.4 156.8,354.3 156.4,354.7 156.0,354.7 155.7,356.0 155.3,355.9 155.0,355.1 154.7,354.6 154.3,355.0 153.9,354.4 153.6,355.7 153.2,354.6 152.9,354.6 152.5,354.7 152.2,354.4 151.8,354.8 151.5,355.2 151.2,354.8 150.8,354.5 150.4,354.5 150.1,354.4 149.8,354.6 149.4,354.7 149.0,354.8 148.7,355.2 148.3,354.5 148.0,355.2 147.7,355.1 147.3,355.7 146.9,354.8 146.6,354.6 146.2,354.5 145.9,354.4 145.5,355.5 145.2,354.5 144.8,354.7 144.5,355.3 144.2,354.9 143.8,355.1 143.4,354.5 143.1,355.3 142.8,354.5 142.4,354.8 142.0,354.9 141.7,355.5 141.3,355.3 141.0,354.7 140.7,355.5 140.3,355.4 139.9,355.0 139.6,354.9 139.2,355.1 138.9,355.2 138.5,354.6 138.2,355.6 137.8,355.2 137.5,354.9 137.2,355.1 136.8,354.5 136.4,354.4 136.1,354.8 135.8,354.9 135.4,355.3 135.0,354.8 134.7,354.5 134.3,355.2 134.0,354.7 133.7,355.4 133.3,355.4 132.9,355.6 132.6,354.5 132.2,354.9 131.9,354.7 131.5,354.3 131.2,354.6 130.8,354.2 130.5,354.5 130.2,354.5 129.8,354.0 129.4,354.5 129.1,354.4 128.8,353.8 128.4,354.1 128.0,353.4 127.7,349.1 127.3,346.0 127.0,344.2 126.7,344.3 126.3,344.7 125.9,344.2 125.6,344.4 125.2,343.8 124.9,343.3 124.5,343.6 124.2,343.5 123.8,343.3 123.5,343.3 123.2,343.4 122.8,343.1 122.4,343.7 122.1,343.6 121.8,343.7 121.4,343.8 121.0,344.8 120.7,344.8 120.3,344.7 120.0,344.3 119.7,343.2 119.3,342.5 118.9,341.8 118.6,341.9 118.2,343.0 117.9,342.4 117.5,342.7 117.2,341.3 116.8,341.7 116.5,341.3 116.2,341.2 115.8,341.6 115.4,341.3 115.1,341.2 114.8,341.9 114.4,341.1 114.0,341.7 113.7,341.2 113.3,340.7 113.0,341.3 112.7,340.7 112.3,340.6 111.9,340.8 111.6,340.5 111.2,341.5 110.9,341.1 110.5,341.0 110.2,340.4 109.8,341.4 109.5,340.5 109.2,340.5 108.8,340.7 108.4,341.1 108.1,340.6 107.8,340.2 107.4,340.7 107.0,340.2 106.7,340.3 106.3,340.0 106.0,340.6 105.7,340.6 105.3,340.2 104.9,340.6 104.6,340.4 104.2,340.6 103.9,340.6 103.5,340.3 103.2,340.5 102.8,340.6 102.5,339.9 102.2,339.9 101.8,339.8 101.4,340.2 101.1,340.1 100.8,339.9 100.4,340.2 100.1,340.8 99.7,340.2 99.3,339.8 99.0,340.0 98.7,339.9 98.3,339.7 97.9,339.9 97.6,339.6 97.2,339.7 96.9,339.6 96.5,339.9 96.2,339.8 95.8,340.6 95.5,340.5 95.2,340.0 94.8,340.2 94.4,340.4 94.1,340.1 93.8,339.7 93.4,340.0 93.0,340.0 92.7,339.8 92.3,340.1 92.0,340.7 91.7,339.7 91.3,339.5 90.9,339.8 90.6,340.0 90.2,340.0 89.9,339.4 89.5,340.3 89.2,340.2 88.8,340.6 88.5,339.9 88.2,339.8 87.8,339.9 87.4,339.6 87.1,340.3 86.8,339.5 86.4,340.3 86.0,340.3 85.7,339.9 85.3,339.5 85.0,340.6 84.7,339.8 84.3,339.6 83.9,340.9 83.6,340.4 83.2,340.1 82.9,339.9 82.5,340.9 82.2,339.9 81.8,339.7 81.5,339.9 81.2,340.7 80.8,340.6 80.4,340.1 80.1,340.3 79.8,340.3 79.4,340.4 79.0,340.8 78.7,340.2 78.3,340.2 78.0,340.3 77.7,339.8 77.3,341.3 76.9,340.1 76.6,340.6 76.2,340.4 75.9,339.9 75.5,341.1 75.2,340.7 74.8,341.4 74.5,339.9 74.2,340.4 73.8,340.1 73.4,341.3 73.1,339.9 72.8,340.6 72.4,340.6 72.0,340.1 71.7,340.0 71.3,340.2 71.0,340.6 70.7,340.1 70.3,340.5 69.9,339.9 69.6,340.5 69.2,340.6 68.9,340.5 68.5,341.0 68.2,340.5 67.8,341.1 67.5,340.9 67.2,340.2 66.8,340.6 66.5,340.0 66.1,340.3 65.8,339.9 65.4,340.5 65.0,340.1 64.7,340.5 64.3,340.9 64.0,341.4 63.6,340.2 63.3,340.6 63.0,340.1 62.6,340.6 62.2,340.4 61.9,341.1 61.5,340.2 61.2,341.2 60.9,340.7 60.5,340.1 60.1,340.2 59.8,340.4 59.5,340.2 59.1,340.3 58.8,340.1 58.4,340.3 58.0,340.6 57.7,340.9 57.4,340.3 57.0,340.8 56.6,341.2 56.3,340.7 56.0,340.3 55.6,340.3 55.2,340.3 54.9,340.6 54.5,341.2 54.2,341.7 53.9,341.2 53.5,341.2 53.1,341.5 52.8,340.6 52.5,340.6 52.1,341.5 51.8,341.7 51.4,341.0 51.0,341.9 50.7,341.0 50.4,340.7 50.0,340.8 49.6,342.2 49.3,341.9 49.0,340.8 48.6,341.6 48.2,341.5 47.9,341.4 47.5,341.9 47.2,341.9 46.9,341.1 46.5,341.6 46.1,342.0 45.8,341.3 45.5,342.1 45.1,341.5 44.8,342.1 44.4,341.6 44.0,342.0 43.7,342.9 43.4,341.8 43.0,342.1 42.6,342.0 42.3,342.2 42.0,342.2 41.6,342.8 41.2,342.7 40.9,343.1 40.5,342.4 40.2,342.5 39.9,342.9 39.5,342.7 39.1,343.1 38.8,343.0 38.5,343.2 38.1,343.3 37.8,343.3 37.4,343.2 37.1,343.3 36.7,343.1 36.4,343.3 36.0,343.5 35.6,343.2 35.3,344.1 35.0,343.7 34.6,343.7" fill="#cd3119" />
<line x1="120.80" y1="343.00" x2="120.80" y2="353.00" stroke="#f0c9c0" stroke-width="0.5" stroke-linecap="butt"/>
<line x1="164.20" y1="352.00" x2="164.20" y2="357.00" stroke="#e7a090" stroke-width="0.6" stroke-linecap="butt"/>
<polygon points="34.6,401.9 35.0,401.7 35.3,401.4 35.6,400.7 36.0,401.1 36.4,399.3 36.7,401.0 37.1,400.8 37.4,399.1 37.8,399.0 38.1,401.0 38.5,401.0 38.8,400.9 39.1,400.3 39.5,400.7 39.9,400.4 40.2,400.3 40.5,400.5 40.9,399.4 41.2,400.0 41.6,399.5 42.0,399.4 42.3,400.7 42.6,400.9 43.0,401.3 43.4,401.1 43.7,402.2 44.0,402.0 44.4,401.7 44.8,402.3 45.1,399.8 45.5,402.8 45.8,402.6 46.1,401.3 46.5,400.8 46.9,402.2 47.2,402.2 47.5,401.2 47.9,402.6 48.2,402.6 48.6,401.9 49.0,403.0 49.3,401.9 49.6,402.6 50.0,402.8 50.4,401.9 50.7,402.8 51.0,403.0 51.4,402.1 51.8,401.1 52.1,403.0 52.5,402.9 52.8,402.3 53.1,402.0 53.5,402.8 53.9,401.8 54.2,401.7 54.5,400.6 54.9,402.9 55.2,402.2 55.6,402.9 56.0,403.3 56.3,403.0 56.6,403.0 57.0,402.4 57.4,403.4 57.7,403.3 58.0,403.4 58.4,402.5 58.8,403.4 59.1,402.4 59.5,403.9 59.8,403.6 60.1,403.2 60.5,402.5 60.9,403.2 61.2,401.8 61.5,403.4 61.9,404.2 62.2,403.9 62.6,404.0 63.0,404.0 63.3,403.6 63.6,404.5 64.0,404.3 64.3,404.0 64.7,402.4 65.0,404.4 65.4,404.5 65.8,404.4 66.1,404.3 66.5,404.1 66.8,404.1 67.2,404.0 67.5,403.3 67.8,404.3 68.2,404.0 68.5,404.7 68.9,403.2 69.2,403.8 69.6,404.3 69.9,404.4 70.3,404.7 70.7,402.7 71.0,404.4 71.3,404.7 71.7,404.4 72.0,404.5 72.4,404.4 72.8,405.0 73.1,405.4 73.4,405.0 73.8,405.7 74.2,405.0 74.5,404.6 74.8,405.7 75.2,405.6 75.5,405.0 75.9,403.8 76.2,403.8 76.6,404.9 76.9,404.6 77.3,404.4 77.7,405.4 78.0,404.9 78.3,405.5 78.7,405.0 79.0,405.7 79.4,405.5 79.8,405.6 80.1,404.8 80.4,405.5 80.8,405.5 81.2,404.6 81.5,404.7 81.8,404.1 82.2,405.7 82.5,404.7 82.9,405.6 83.2,405.1 83.6,405.3 83.9,405.0 84.3,404.6 84.7,404.8 85.0,405.1 85.3,404.1 85.7,405.2 86.0,404.6 86.4,404.6 86.8,403.6 87.1,405.1 87.4,405.7 87.8,405.1 88.2,404.9 88.5,404.8 88.8,404.0 89.2,404.7 89.5,404.8 89.9,405.7 90.2,405.2 90.6,405.1 90.9,405.8 91.3,404.8 91.7,405.7 92.0,403.7 92.3,404.9 92.7,405.2 93.0,404.8 93.4,405.3 93.8,404.1 94.1,405.4 94.4,405.8 94.8,405.5 95.2,405.2 95.5,405.5 95.8,403.3 96.2,405.4 96.5,405.0 96.9,405.5 97.2,404.2 97.6,404.5 97.9,403.6 98.3,405.7 98.7,404.3 99.0,405.7 99.3,405.7 99.7,404.6 100.1,405.5 100.4,405.6 100.8,405.8 101.1,404.8 101.4,405.2 101.8,405.8 102.2,404.4 102.5,405.2 102.8,405.4 103.2,404.9 103.5,403.7 103.9,405.5 104.2,403.9 104.6,404.3 104.9,405.6 105.3,404.9 105.7,404.8 106.0,404.3 106.3,404.5 106.7,404.6 107.0,405.2 107.4,405.6 107.8,405.5 108.1,404.9 108.4,405.0 108.8,405.5 109.2,405.0 109.5,405.1 109.8,405.8 110.2,405.9 110.5,405.4 110.9,404.4 111.2,405.0 111.6,404.9 111.9,403.6 112.3,405.2 112.7,405.5 113.0,406.2 113.3,405.5 113.7,404.7 114.0,405.1 114.4,406.0 114.8,404.7 115.1,406.2 115.4,406.2 115.8,406.0 116.2,406.1 116.5,406.4 116.8,404.7 117.2,406.3 117.5,405.2 117.9,406.2 118.2,406.7 118.6,406.8 118.9,406.1 119.3,406.7 119.7,406.2 120.0,406.9 120.3,406.9 120.7,406.7 121.0,406.0 121.4,406.3 121.8,407.2 122.1,406.2 122.4,407.3 122.8,405.3 123.2,406.4 123.5,407.5 123.8,406.5 124.2,406.6 124.5,406.9 124.9,407.5 125.2,406.0 125.6,407.6 125.9,407.4 126.3,407.3 126.7,406.9 127.0,407.6 127.3,407.6 127.7,406.5 128.0,406.3 128.4,406.7 128.8,407.4 129.1,407.2 129.4,406.9 129.8,407.1 130.2,407.5 130.5,407.7 130.8,408.1 131.2,408.5 131.5,407.5 131.9,405.7 132.2,403.2 132.6,403.2 132.9,403.5 133.3,403.8 133.7,403.9 134.0,404.3 134.3,405.2 134.7,403.3 135.0,405.5 135.4,404.5 135.8,406.2 136.1,405.9 136.4,405.6 136.8,407.0 137.2,407.0 137.5,407.1 137.8,407.8 138.2,408.2 138.5,407.4 138.9,409.5 139.2,409.1 139.6,409.9 139.9,410.7 140.3,411.1 140.7,411.7 141.0,412.0 141.3,412.5 141.7,413.0 142.0,413.0 142.4,412.5 142.8,412.3 143.1,412.1 143.4,411.8 143.8,409.2 144.2,408.3 144.5,404.5 144.8,405.3 145.2,403.7 145.5,406.4 145.9,406.9 146.2,406.9 146.6,407.8 146.9,407.5 147.3,407.6 147.7,408.8 148.0,410.2 148.3,410.6 148.7,411.0 149.0,409.9 149.4,411.4 149.8,412.2 150.1,413.1 150.4,413.3 150.8,413.6 151.2,414.3 151.5,414.3 151.8,413.5 152.2,412.4 152.5,409.9 152.9,407.5 153.2,405.7 153.6,406.3 153.9,408.8 154.3,409.9 154.7,411.6 155.0,412.4 155.3,413.7 155.7,416.0 156.0,417.5 156.4,419.3 156.8,420.4 157.1,422.9 157.4,424.7 157.8,427.3 158.2,429.4 158.5,430.9 158.8,432.0 159.2,433.9 159.5,434.7 159.9,429.4 160.2,422.4 160.6,415.2 160.9,408.9 161.3,406.6 161.7,404.0 162.0,405.9 162.3,406.3 162.7,407.1 163.0,408.3 163.4,409.7 163.8,409.7 164.1,412.2 164.4,410.9 164.8,414.9 165.1,416.0 165.5,416.8 165.8,417.7 166.2,418.3 166.5,419.8 166.9,419.2 167.2,421.5 167.6,422.2 167.9,424.2 168.3,424.6 168.6,425.3 169.0,425.8 169.3,427.4 169.7,428.8 170.0,429.9 170.4,430.2 170.7,431.9 171.1,431.8 171.4,431.5 171.8,433.6 172.1,435.2 172.5,435.6 172.8,437.3 173.2,437.5 173.5,437.1 173.9,439.5 174.2,440.7 174.6,441.8 174.9,442.5 175.3,443.6 175.6,443.3 176.0,444.4 176.3,444.5 176.7,445.7 177.0,446.5 177.4,446.6 177.7,448.8 178.1,449.3 178.4,450.2 178.8,450.5 179.1,451.3 179.5,450.7 179.8,451.9 180.2,450.5 180.5,452.0 180.9,452.1 181.2,452.3 181.6,452.7 181.9,452.0 182.3,452.6 182.6,452.8 183.0,452.6 183.3,452.3 183.7,452.1 184.0,452.5 184.4,451.9 184.7,451.6 185.1,452.8 185.4,452.1 185.8,451.3 186.1,452.1 186.5,453.2 186.8,452.9 187.2,453.2 187.5,453.0 187.9,452.5 188.2,451.9 188.6,452.4 188.9,453.2 189.3,452.8 189.6,451.9 190.0,453.2 190.3,451.8 190.7,452.7 191.0,450.0 191.4,452.7 191.7,453.3 192.1,452.6 192.4,453.1 192.8,453.2 193.1,453.2 193.5,453.1 193.8,452.9 194.2,450.9 194.5,453.1 194.9,452.7 195.2,453.0 195.6,452.7 195.9,451.9 196.3,452.2 196.6,452.8 197.0,451.9 197.3,453.1 197.7,453.2 198.0,452.4 198.4,452.9 198.7,451.5 199.1,452.0 199.4,452.2 199.8,452.7 200.1,452.9 200.5,452.3 200.8,451.6 201.2,453.2 201.5,453.0 201.9,452.5 202.2,452.4 202.6,452.5 202.9,452.7 203.3,452.1 203.6,452.4 204.0,451.7 204.3,451.5 204.7,452.0 205.0,453.2 205.4,452.8 205.7,452.4 206.1,451.9 206.4,453.0 206.8,450.5 207.1,452.4 207.5,452.2 207.8,453.2 208.2,452.8 208.5,450.8 208.9,452.6 209.2,452.1 209.6,452.5 209.9,452.3 210.3,453.0 210.6,453.3 211.0,453.4 211.3,452.2 211.7,452.9 212.0,453.2 212.4,453.1 212.7,453.2 213.1,452.3 213.4,452.8 213.8,452.3 214.1,453.0 214.5,453.0 214.8,452.6 215.2,450.5 215.5,451.3 215.9,452.5 216.2,452.7 216.6,453.0 216.9,453.0 217.3,453.4 217.6,453.3 218.0,452.5 218.3,453.0 218.7,451.9 219.0,453.5 219.4,453.2 219.7,453.1 220.1,453.4 220.1,461.4 219.7,461.7 219.4,460.8 219.0,461.0 218.7,461.8 218.3,461.1 218.0,461.3 217.6,460.6 217.3,461.3 216.9,461.2 216.6,461.6 216.2,460.9 215.9,461.5 215.5,461.3 215.2,461.0 214.8,461.1 214.5,460.8 214.1,461.8 213.8,461.2 213.4,461.5 213.1,460.7 212.7,461.5 212.4,462.3 212.0,461.2 211.7,460.6 211.3,460.9 211.0,461.7 210.6,461.5 210.3,461.8 209.9,461.2 209.6,461.8 209.2,460.9 208.9,462.1 208.5,461.9 208.2,460.9 207.8,461.1 207.5,460.7 207.1,461.5 206.8,461.1 206.4,461.8 206.1,461.0 205.7,461.5 205.4,462.3 205.0,461.2 204.7,461.2 204.3,460.8 204.0,461.7 203.6,461.1 203.3,460.8 202.9,461.7 202.6,461.1 202.2,460.8 201.9,461.2 201.5,461.3 201.2,461.8 200.8,461.5 200.5,460.6 200.1,462.0 199.8,461.0 199.4,462.4 199.1,460.7 198.7,461.0 198.4,460.7 198.0,460.9 197.7,460.6 197.3,460.8 197.0,460.9 196.6,461.5 196.3,461.2 195.9,461.1 195.6,461.1 195.2,461.3 194.9,460.8 194.5,460.7 194.2,460.8 193.8,460.7 193.5,461.3 193.1,461.6 192.8,461.2 192.4,461.7 192.1,461.3 191.7,460.8 191.4,460.6 191.0,461.2 190.7,460.8 190.3,461.8 190.0,461.4 189.6,461.0 189.3,460.6 188.9,461.3 188.6,460.9 188.2,460.8 187.9,461.2 187.5,460.6 187.2,461.1 186.8,461.4 186.5,461.0 186.1,460.7 185.8,460.8 185.4,460.6 185.1,461.0 184.7,460.8 184.4,460.8 184.0,460.8 183.7,461.8 183.3,461.9 183.0,461.2 182.6,460.7 182.3,460.9 181.9,461.0 181.6,460.4 181.2,459.9 180.9,460.2 180.5,460.3 180.2,460.4 179.8,460.9 179.5,460.1 179.1,459.2 178.8,458.9 178.4,460.4 178.1,459.1 177.7,458.3 177.4,458.8 177.0,457.7 176.7,457.5 176.3,457.8 176.0,457.5 175.6,456.3 175.3,457.4 174.9,456.0 174.6,455.5 174.2,456.0 173.9,455.5 173.5,454.3 173.2,454.8 172.8,453.8 172.5,453.0 172.1,453.9 171.8,452.4 171.4,452.5 171.1,451.6 170.7,452.8 170.4,452.0 170.0,451.0 169.7,450.3 169.3,450.0 169.0,449.6 168.6,449.6 168.3,449.4 167.9,449.4 167.6,448.1 167.2,447.8 166.9,447.4 166.5,447.8 166.2,447.3 165.8,446.5 165.5,446.2 165.1,446.2 164.8,445.7 164.4,445.1 164.1,444.9 163.8,444.8 163.4,444.3 163.0,443.9 162.7,443.9 162.3,443.8 162.0,443.6 161.7,442.9 161.3,443.4 160.9,444.6 160.6,446.1 160.2,447.5 159.9,448.8 159.5,450.7 159.2,449.4 158.8,450.0 158.5,448.9 158.2,449.3 157.8,448.4 157.4,449.7 157.1,448.5 156.8,447.9 156.4,449.2 156.0,447.5 155.7,447.6 155.3,447.2 155.0,447.7 154.7,446.7 154.3,446.3 153.9,446.8 153.6,446.1 153.2,446.3 152.9,446.0 152.5,445.6 152.2,445.5 151.8,446.8 151.5,445.3 151.2,445.2 150.8,445.6 150.4,445.5 150.1,444.7 149.8,445.4 149.4,445.8 149.0,444.9 148.7,445.9 148.3,444.7 148.0,444.6 147.7,444.5 147.3,444.6 146.9,445.1 146.6,444.8 146.2,445.5 145.9,445.6 145.5,444.7 145.2,445.5 144.8,444.9 144.5,445.5 144.2,444.9 143.8,444.9 143.4,445.2 143.1,445.4 142.8,444.9 142.4,444.8 142.0,445.8 141.7,445.2 141.3,445.3 141.0,444.9 140.7,445.1 140.3,444.7 139.9,445.7 139.6,445.0 139.2,444.4 138.9,445.2 138.5,444.4 138.2,444.8 137.8,444.9 137.5,446.1 137.2,444.2 136.8,445.5 136.4,444.3 136.1,445.2 135.8,444.2 135.4,445.5 135.0,444.3 134.7,444.4 134.3,444.3 134.0,444.8 133.7,444.8 133.3,444.3 132.9,445.5 132.6,444.7 132.2,444.9 131.9,445.1 131.5,444.6 131.2,444.4 130.8,444.3 130.5,444.2 130.2,444.9 129.8,444.2 129.4,444.3 129.1,444.3 128.8,444.2 128.4,445.2 128.0,444.3 127.7,444.4 127.3,444.4 127.0,444.4 126.7,444.2 126.3,444.3 125.9,444.4 125.6,444.4 125.2,445.3 124.9,445.9 124.5,444.5 124.2,444.5 123.8,445.0 123.5,445.0 123.2,445.1 122.8,444.8 122.4,444.7 122.1,445.5 121.8,445.1 121.4,444.8 121.0,445.3 120.7,444.5 120.3,445.0 120.0,444.8 119.7,444.8 119.3,444.7 118.9,444.4 118.6,444.4 118.2,444.8 117.9,445.6 117.5,444.6 117.2,444.9 116.8,445.2 116.5,445.2 116.2,444.5 115.8,445.1 115.4,444.8 115.1,444.6 114.8,444.7 114.4,444.7 114.0,444.7 113.7,444.6 113.3,445.6 113.0,444.7 112.7,444.4 112.3,444.8 111.9,445.1 111.6,444.8 111.2,445.2 110.9,445.0 110.5,444.7 110.2,445.6 109.8,445.0 109.5,444.6 109.2,444.9 108.8,445.1 108.4,445.1 108.1,445.0 107.8,445.1 107.4,445.2 107.0,445.3 106.7,445.3 106.3,445.4 106.0,444.6 105.7,446.0 105.3,444.9 104.9,444.6 104.6,445.6 104.2,444.9 103.9,445.4 103.5,445.3 103.2,446.3 102.8,445.0 102.5,445.5 102.2,445.7 101.8,445.1 101.4,445.2 101.1,445.1 100.8,445.5 100.4,445.6 100.1,445.0 99.7,446.7 99.3,445.7 99.0,445.0 98.7,445.5 98.3,445.1 97.9,445.5 97.6,445.3 97.2,445.5 96.9,446.1 96.5,446.3 96.2,445.7 95.8,446.2 95.5,446.2 95.2,445.7 94.8,445.9 94.4,445.8 94.1,445.4 93.8,445.4 93.4,446.0 93.0,445.9 92.7,445.8 92.3,446.1 92.0,446.4 91.7,445.4 91.3,445.5 90.9,446.3 90.6,445.5 90.2,445.9 89.9,445.8 89.5,445.7 89.2,445.9 88.8,445.9 88.5,445.9 88.2,445.7 87.8,446.1 87.4,446.1 87.1,446.0 86.8,445.6 86.4,445.9 86.0,446.8 85.7,446.4 85.3,446.7 85.0,445.9 84.7,445.9 84.3,446.8 83.9,447.4 83.6,445.8 83.2,446.4 82.9,446.8 82.5,446.8 82.2,445.8 81.8,447.1 81.5,446.3 81.2,446.0 80.8,446.1 80.4,446.1 80.1,446.1 79.8,446.6 79.4,446.0 79.0,446.4 78.7,445.9 78.3,446.1 78.0,446.5 77.7,446.7 77.3,446.7 76.9,446.1 76.6,446.0 76.2,446.5 75.9,446.1 75.5,446.5 75.2,447.2 74.8,447.3 74.5,446.8 74.2,446.9 73.8,446.3 73.4,446.5 73.1,446.7 72.8,448.1 72.4,446.6 72.0,446.3 71.7,448.3 71.3,446.9 71.0,446.0 70.7,446.4 70.3,446.8 69.9,446.1 69.6,446.1 69.2,446.1 68.9,447.0 68.5,446.6 68.2,446.8 67.8,446.4 67.5,446.9 67.2,446.5 66.8,447.2 66.5,446.3 66.1,446.3 65.8,446.2 65.4,446.5 65.0,447.0 64.7,446.6 64.3,446.2 64.0,446.0 63.6,446.9 63.3,446.2 63.0,446.6 62.6,447.2 62.2,447.2 61.9,446.8 61.5,446.7 61.2,445.9 60.9,446.2 60.5,446.4 60.1,446.5 59.8,446.4 59.5,446.4 59.1,445.7 58.8,446.0 58.4,446.0 58.0,445.9 57.7,446.4 57.4,445.9 57.0,446.3 56.6,446.0 56.3,446.1 56.0,445.6 55.6,446.5 55.2,446.3 54.9,446.5 54.5,446.5 54.2,446.6 53.9,446.5 53.5,445.9 53.1,446.7 52.8,445.9 52.5,446.0 52.1,446.2 51.8,446.3 51.4,446.8 51.0,447.1 50.7,446.7 50.4,446.4 50.0,447.0 49.6,446.4 49.3,446.3 49.0,447.4 48.6,446.9 48.2,446.2 47.9,447.0 47.5,446.7 47.2,447.1 46.9,446.3 46.5,447.9 46.1,447.2 45.8,448.5 45.5,447.1 45.1,446.9 44.8,446.7 44.4,447.1 44.0,447.3 43.7,446.8 43.4,447.4 43.0,447.3 42.6,447.6 42.3,447.8 42.0,448.0 41.6,447.3 41.2,448.1 40.9,448.4 40.5,447.8 40.2,448.0 39.9,447.6 39.5,448.3 39.1,448.0 38.8,448.9 38.5,448.3 38.1,448.7 37.8,448.8 37.4,449.4 37.1,449.2 36.7,449.6 36.4,448.6 36.0,448.6 35.6,448.4 35.3,449.0 35.0,448.7 34.6,448.9" fill="#cd3119" />
<line x1="131.50" y1="446.00" x2="131.50" y2="456.00" stroke="#f0c9c0" stroke-width="0.5" stroke-linecap="butt"/>
<line x1="159.80" y1="449.00" x2="159.80" y2="458.00" stroke="#f0c9c0" stroke-width="0.5" stroke-linecap="butt"/>
<line x1="152.00" y1="446.00" x2="152.00" y2="451.00" stroke="#f0c9c0" stroke-width="0.5" stroke-linecap="butt"/>
<line x1="34.10" y1="293.10" x2="34.10" y2="368.20" stroke="#000" stroke-width="1.6" stroke-linecap="butt"/>
<line x1="33.30" y1="367.60" x2="165.30" y2="367.60" stroke="#000" stroke-width="1.4" stroke-linecap="butt"/>
<line x1="35.70" y1="367.60" x2="35.70" y2="370.20" stroke="#0a0a0a" stroke-width="0.9" stroke-linecap="butt"/>
<line x1="41.64" y1="367.60" x2="41.64" y2="369.20" stroke="#0a0a0a" stroke-width="0.9" stroke-linecap="butt"/>
<line x1="47.59" y1="367.60" x2="47.59" y2="369.20" stroke="#0a0a0a" stroke-width="0.9" stroke-linecap="butt"/>
<line x1="53.53" y1="367.60" x2="53.53" y2="369.20" stroke="#0a0a0a" stroke-width="0.9" stroke-linecap="butt"/>
<line x1="59.47" y1="367.60" x2="59.47" y2="370.20" stroke="#0a0a0a" stroke-width="0.9" stroke-linecap="butt"/>
<line x1="65.41" y1="367.60" x2="65.41" y2="369.20" stroke="#0a0a0a" stroke-width="0.9" stroke-linecap="butt"/>
<line x1="71.36" y1="367.60" x2="71.36" y2="369.20" stroke="#0a0a0a" stroke-width="0.9" stroke-linecap="butt"/>
<line x1="77.30" y1="367.60" x2="77.30" y2="369.20" stroke="#0a0a0a" stroke-width="0.9" stroke-linecap="butt"/>
<line x1="83.24" y1="367.60" x2="83.24" y2="370.20" stroke="#0a0a0a" stroke-width="0.9" stroke-linecap="butt"/>
<line x1="89.18" y1="367.60" x2="89.18" y2="369.20" stroke="#0a0a0a" stroke-width="0.9" stroke-linecap="butt"/>
<line x1="95.12" y1="367.60" x2="95.12" y2="369.20" stroke="#0a0a0a" stroke-width="0.9" stroke-linecap="butt"/>
<line x1="101.07" y1="367.60" x2="101.07" y2="369.20" stroke="#0a0a0a" stroke-width="0.9" stroke-linecap="butt"/>
<line x1="107.01" y1="367.60" x2="107.01" y2="370.20" stroke="#0a0a0a" stroke-width="0.9" stroke-linecap="butt"/>
<line x1="112.95" y1="367.60" x2="112.95" y2="369.20" stroke="#0a0a0a" stroke-width="0.9" stroke-linecap="butt"/>
<line x1="118.89" y1="367.60" x2="118.89" y2="369.20" stroke="#0a0a0a" stroke-width="0.9" stroke-linecap="butt"/>
<line x1="124.84" y1="367.60" x2="124.84" y2="369.20" stroke="#0a0a0a" stroke-width="0.9" stroke-linecap="butt"/>
<line x1="130.78" y1="367.60" x2="130.78" y2="370.20" stroke="#0a0a0a" stroke-width="0.9" stroke-linecap="butt"/>
<line x1="136.72" y1="367.60" x2="136.72" y2="369.20" stroke="#0a0a0a" stroke-width="0.9" stroke-linecap="butt"/>
<line x1="142.66" y1="367.60" x2="142.66" y2="369.20" stroke="#0a0a0a" stroke-width="0.9" stroke-linecap="butt"/>
<line x1="148.61" y1="367.60" x2="148.61" y2="369.20" stroke="#0a0a0a" stroke-width="0.9" stroke-linecap="butt"/>
<line x1="154.55" y1="367.60" x2="154.55" y2="370.20" stroke="#0a0a0a" stroke-width="0.9" stroke-linecap="butt"/>
<line x1="160.49" y1="367.60" x2="160.49" y2="369.20" stroke="#0a0a0a" stroke-width="0.9" stroke-linecap="butt"/>
<text transform="translate(35.70,381.60) scale(0.99,1)" font-size="8.5" text-anchor="middle" font-weight="normal" fill="#0a0a0a" stroke="#0a0a0a" stroke-width="0.18" >0</text>
<text transform="translate(59.47,381.60) scale(0.99,1)" font-size="8.5" text-anchor="middle" font-weight="normal" fill="#0a0a0a" stroke="#0a0a0a" stroke-width="0.18" >2.00</text>
<text transform="translate(83.24,381.60) scale(0.99,1)" font-size="8.5" text-anchor="middle" font-weight="normal" fill="#0a0a0a" stroke="#0a0a0a" stroke-width="0.18" >4.00</text>
<text transform="translate(107.01,381.60) scale(0.99,1)" font-size="8.5" text-anchor="middle" font-weight="normal" fill="#0a0a0a" stroke="#0a0a0a" stroke-width="0.18" >6.00</text>
<text transform="translate(130.78,381.60) scale(0.99,1)" font-size="8.5" text-anchor="middle" font-weight="normal" fill="#0a0a0a" stroke="#0a0a0a" stroke-width="0.18" >8.00</text>
<text transform="translate(154.55,381.60) scale(0.99,1)" font-size="8.5" text-anchor="middle" font-weight="normal" fill="#0a0a0a" stroke="#0a0a0a" stroke-width="0.18" >10.00</text>
<text transform="translate(29.20,330.00) rotate(-90)" font-size="9.0" text-anchor="middle" font-weight="normal" fill="#0a0a0a" stroke="#0a0a0a" stroke-width="0.18" >Flow rate</text>
<text transform="translate(37.60,298.90) scale(0.96,1)" font-size="8.2" text-anchor="start" font-weight="normal" fill="#0a0a0a" stroke="#0a0a0a" stroke-width="0.18" >Control</text>
<line x1="34.10" y1="391.30" x2="34.10" y2="474.40" stroke="#000" stroke-width="1.6" stroke-linecap="butt"/>
<line x1="33.30" y1="473.80" x2="220.20" y2="473.80" stroke="#000" stroke-width="1.4" stroke-linecap="butt"/>
<line x1="35.70" y1="473.80" x2="35.70" y2="476.40" stroke="#0a0a0a" stroke-width="0.9" stroke-linecap="butt"/>
<line x1="41.64" y1="473.80" x2="41.64" y2="475.40" stroke="#0a0a0a" stroke-width="0.9" stroke-linecap="butt"/>
<line x1="47.59" y1="473.80" x2="47.59" y2="475.40" stroke="#0a0a0a" stroke-width="0.9" stroke-linecap="butt"/>
<line x1="53.53" y1="473.80" x2="53.53" y2="475.40" stroke="#0a0a0a" stroke-width="0.9" stroke-linecap="butt"/>
<line x1="59.47" y1="473.80" x2="59.47" y2="476.40" stroke="#0a0a0a" stroke-width="0.9" stroke-linecap="butt"/>
<line x1="65.41" y1="473.80" x2="65.41" y2="475.40" stroke="#0a0a0a" stroke-width="0.9" stroke-linecap="butt"/>
<line x1="71.36" y1="473.80" x2="71.36" y2="475.40" stroke="#0a0a0a" stroke-width="0.9" stroke-linecap="butt"/>
<line x1="77.30" y1="473.80" x2="77.30" y2="475.40" stroke="#0a0a0a" stroke-width="0.9" stroke-linecap="butt"/>
<line x1="83.24" y1="473.80" x2="83.24" y2="476.40" stroke="#0a0a0a" stroke-width="0.9" stroke-linecap="butt"/>
<line x1="89.18" y1="473.80" x2="89.18" y2="475.40" stroke="#0a0a0a" stroke-width="0.9" stroke-linecap="butt"/>
<line x1="95.12" y1="473.80" x2="95.12" y2="475.40" stroke="#0a0a0a" stroke-width="0.9" stroke-linecap="butt"/>
<line x1="101.07" y1="473.80" x2="101.07" y2="475.40" stroke="#0a0a0a" stroke-width="0.9" stroke-linecap="butt"/>
<line x1="107.01" y1="473.80" x2="107.01" y2="476.40" stroke="#0a0a0a" stroke-width="0.9" stroke-linecap="butt"/>
<line x1="112.95" y1="473.80" x2="112.95" y2="475.40" stroke="#0a0a0a" stroke-width="0.9" stroke-linecap="butt"/>
<line x1="118.89" y1="473.80" x2="118.89" y2="475.40" stroke="#0a0a0a" stroke-width="0.9" stroke-linecap="butt"/>
<line x1="124.84" y1="473.80" x2="124.84" y2="475.40" stroke="#0a0a0a" stroke-width="0.9" stroke-linecap="butt"/>
<line x1="130.78" y1="473.80" x2="130.78" y2="476.40" stroke="#0a0a0a" stroke-width="0.9" stroke-linecap="butt"/>
<line x1="136.72" y1="473.80" x2="136.72" y2="475.40" stroke="#0a0a0a" stroke-width="0.9" stroke-linecap="butt"/>
<line x1="142.66" y1="473.80" x2="142.66" y2="475.40" stroke="#0a0a0a" stroke-width="0.9" stroke-linecap="butt"/>
<line x1="148.61" y1="473.80" x2="148.61" y2="475.40" stroke="#0a0a0a" stroke-width="0.9" stroke-linecap="butt"/>
<line x1="154.55" y1="473.80" x2="154.55" y2="476.40" stroke="#0a0a0a" stroke-width="0.9" stroke-linecap="butt"/>
<line x1="160.49" y1="473.80" x2="160.49" y2="475.40" stroke="#0a0a0a" stroke-width="0.9" stroke-linecap="butt"/>
<line x1="166.43" y1="473.80" x2="166.43" y2="475.40" stroke="#0a0a0a" stroke-width="0.9" stroke-linecap="butt"/>
<line x1="172.38" y1="473.80" x2="172.38" y2="475.40" stroke="#0a0a0a" stroke-width="0.9" stroke-linecap="butt"/>
<line x1="178.32" y1="473.80" x2="178.32" y2="476.40" stroke="#0a0a0a" stroke-width="0.9" stroke-linecap="butt"/>
<line x1="184.26" y1="473.80" x2="184.26" y2="475.40" stroke="#0a0a0a" stroke-width="0.9" stroke-linecap="butt"/>
<line x1="190.20" y1="473.80" x2="190.20" y2="475.40" stroke="#0a0a0a" stroke-width="0.9" stroke-linecap="butt"/>
<line x1="196.15" y1="473.80" x2="196.15" y2="475.40" stroke="#0a0a0a" stroke-width="0.9" stroke-linecap="butt"/>
<line x1="202.09" y1="473.80" x2="202.09" y2="476.40" stroke="#0a0a0a" stroke-width="0.9" stroke-linecap="butt"/>
<line x1="208.03" y1="473.80" x2="208.03" y2="475.40" stroke="#0a0a0a" stroke-width="0.9" stroke-linecap="butt"/>
<line x1="213.97" y1="473.80" x2="213.97" y2="475.40" stroke="#0a0a0a" stroke-width="0.9" stroke-linecap="butt"/>
<line x1="219.92" y1="473.80" x2="219.92" y2="475.40" stroke="#0a0a0a" stroke-width="0.9" stroke-linecap="butt"/>
<text transform="translate(35.70,486.50) scale(0.99,1)" font-size="8.5" text-anchor="middle" font-weight="normal" fill="#0a0a0a" stroke="#0a0a0a" stroke-width="0.18" >0</text>
<text transform="translate(59.47,486.50) scale(0.99,1)" font-size="8.5" text-anchor="middle" font-weight="normal" fill="#0a0a0a" stroke="#0a0a0a" stroke-width="0.18" >2.00</text>
<text transform="translate(83.24,486.50) scale(0.99,1)" font-size="8.5" text-anchor="middle" font-weight="normal" fill="#0a0a0a" stroke="#0a0a0a" stroke-width="0.18" >4.00</text>
<text transform="translate(107.01,486.50) scale(0.99,1)" font-size="8.5" text-anchor="middle" font-weight="normal" fill="#0a0a0a" stroke="#0a0a0a" stroke-width="0.18" >6.00</text>
<text transform="translate(130.78,486.50) scale(0.99,1)" font-size="8.5" text-anchor="middle" font-weight="normal" fill="#0a0a0a" stroke="#0a0a0a" stroke-width="0.18" >8.00</text>
<text transform="translate(154.55,486.50) scale(0.99,1)" font-size="8.5" text-anchor="middle" font-weight="normal" fill="#0a0a0a" stroke="#0a0a0a" stroke-width="0.18" >10.00</text>
<text transform="translate(178.32,486.50) scale(0.99,1)" font-size="8.5" text-anchor="middle" font-weight="normal" fill="#0a0a0a" stroke="#0a0a0a" stroke-width="0.18" >12.00</text>
<text transform="translate(202.09,486.50) scale(0.99,1)" font-size="8.5" text-anchor="middle" font-weight="normal" fill="#0a0a0a" stroke="#0a0a0a" stroke-width="0.18" >14.00</text>
<text transform="translate(29.20,431.50) rotate(-90)" font-size="9.0" text-anchor="middle" font-weight="normal" fill="#0a0a0a" stroke="#0a0a0a" stroke-width="0.18" >Flow rate</text>
<text transform="translate(37.60,395.60) scale(0.96,1)" font-size="8.2" text-anchor="start" font-weight="normal" fill="#0a0a0a" stroke="#0a0a0a" stroke-width="0.18" >PSI C1</text>
<line x1="129.90" y1="311.80" x2="129.90" y2="338.30" stroke="#000" stroke-width="1.4" stroke-linecap="butt"/>
<polygon points="127.0,335.6 132.8,335.6 129.9,340.8" fill="#000" />
<line x1="180.40" y1="422.60" x2="180.40" y2="448.70" stroke="#000" stroke-width="1.4" stroke-linecap="butt"/>
<polygon points="177.5,446.0 183.3,446.0 180.4,451.2" fill="#000" />
<line x1="267.20" y1="340.90" x2="267.20" y2="465.30" stroke="#000" stroke-width="1.6" stroke-linecap="butt"/>
<line x1="266.40" y1="464.60" x2="449.40" y2="464.60" stroke="#000" stroke-width="1.6" stroke-linecap="butt"/>
<line x1="263.80" y1="343.40" x2="267.20" y2="343.40" stroke="#0a0a0a" stroke-width="1.3" stroke-linecap="butt"/>
<text transform="translate(262.60,346.80) scale(1.02,1)" font-size="9.2" text-anchor="end" font-weight="normal" fill="#0a0a0a" stroke="#0a0a0a" stroke-width="0.18" >20</text>
<line x1="263.80" y1="373.70" x2="267.20" y2="373.70" stroke="#0a0a0a" stroke-width="1.3" stroke-linecap="butt"/>
<text transform="translate(262.60,377.10) scale(1.02,1)" font-size="9.2" text-anchor="end" font-weight="normal" fill="#0a0a0a" stroke="#0a0a0a" stroke-width="0.18" >15</text>
<line x1="263.80" y1="404.00" x2="267.20" y2="404.00" stroke="#0a0a0a" stroke-width="1.3" stroke-linecap="butt"/>
<text transform="translate(262.60,407.40) scale(1.02,1)" font-size="9.2" text-anchor="end" font-weight="normal" fill="#0a0a0a" stroke="#0a0a0a" stroke-width="0.18" >10</text>
<line x1="263.80" y1="434.30" x2="267.20" y2="434.30" stroke="#0a0a0a" stroke-width="1.3" stroke-linecap="butt"/>
<text transform="translate(262.60,437.70) scale(1.02,1)" font-size="9.2" text-anchor="end" font-weight="normal" fill="#0a0a0a" stroke="#0a0a0a" stroke-width="0.18" >5</text>
<line x1="263.80" y1="464.60" x2="267.20" y2="464.60" stroke="#0a0a0a" stroke-width="1.3" stroke-linecap="butt"/>
<text transform="translate(262.60,468.00) scale(1.02,1)" font-size="9.2" text-anchor="end" font-weight="normal" fill="#0a0a0a" stroke="#0a0a0a" stroke-width="0.18" >0</text>
<line x1="312.30" y1="464.60" x2="312.30" y2="468.00" stroke="#0a0a0a" stroke-width="1.1" stroke-linecap="butt"/>
<text transform="translate(312.30,479.70)" font-size="8.7" text-anchor="middle" font-weight="normal" fill="#0a0a0a" stroke="#0a0a0a" stroke-width="0.18" >Control</text>
<line x1="403.30" y1="464.60" x2="403.30" y2="468.00" stroke="#0a0a0a" stroke-width="1.1" stroke-linecap="butt"/>
<text transform="translate(403.30,479.70)" font-size="8.7" text-anchor="middle" font-weight="normal" fill="#0a0a0a" stroke="#0a0a0a" stroke-width="0.18" >PSI C1</text>
<text transform="translate(245.20,402.50) rotate(-90) scale(0.889,1)" font-size="10.4" text-anchor="middle" font-weight="normal" fill="#0a0a0a" stroke="#0a0a0a" stroke-width="0.18" >Occlusion time (min)</text>
<line x1="315.50" y1="351.20" x2="402.90" y2="351.20" stroke="#0a0a0a" stroke-width="1.2" stroke-linecap="butt"/>
<text transform="translate(358.80,350.00)" font-size="9.4" text-anchor="middle" font-weight="normal" fill="#0a0a0a" stroke="#0a0a0a" stroke-width="0.18" >***</text>
<rect x="296.60" y="418.90" width="30.20" height="3.60" fill="#8a8a8a" />
<circle cx="308.70" cy="413.30" r="2.3" fill="#cf3a22"/>
<circle cx="316.00" cy="416.30" r="2.3" fill="#cf3a22"/>
<circle cx="298.40" cy="420.40" r="2.3" fill="#cf3a22"/>
<circle cx="305.00" cy="422.40" r="2.3" fill="#cf3a22"/>
<circle cx="326.80" cy="421.60" r="2.3" fill="#cf3a22"/>
<circle cx="312.20" cy="425.10" r="2.3" fill="#cf3a22"/>
<circle cx="319.80" cy="424.40" r="2.3" fill="#cf3a22"/>
<line x1="282.00" y1="420.80" x2="342.40" y2="420.80" stroke="#000" stroke-width="1.6" stroke-linecap="butt"/>
<line x1="296.60" y1="418.80" x2="326.80" y2="418.80" stroke="#0a0a0a" stroke-width="0.9" stroke-linecap="butt"/>
<line x1="296.60" y1="422.70" x2="326.80" y2="422.70" stroke="#0a0a0a" stroke-width="0.9" stroke-linecap="butt"/>
<rect x="400.80" y="362.50" width="5.00" height="5.00" fill="#2c2778" />
<rect x="400.80" y="379.90" width="5.00" height="5.00" fill="#2c2778" />
<rect x="394.00" y="388.90" width="5.00" height="5.00" fill="#2c2778" />
<rect x="400.80" y="389.90" width="5.00" height="5.00" fill="#2c2778" />
<rect x="408.10" y="389.70" width="5.00" height="5.00" fill="#2c2778" />
<rect x="400.80" y="398.00" width="5.00" height="5.00" fill="#2c2778" />
<rect x="400.80" y="407.50" width="5.00" height="5.00" fill="#2c2778" />
<line x1="373.40" y1="390.70" x2="433.70" y2="390.70" stroke="#000" stroke-width="1.6" stroke-linecap="butt"/>
<line x1="388.50" y1="385.10" x2="418.60" y2="385.10" stroke="#0a0a0a" stroke-width="1.2" stroke-linecap="butt"/>
<line x1="388.50" y1="395.70" x2="418.60" y2="395.70" stroke="#0a0a0a" stroke-width="1.2" stroke-linecap="butt"/>
<line x1="403.30" y1="385.10" x2="403.30" y2="395.70" stroke="#0a0a0a" stroke-width="1.0" stroke-linecap="butt"/>
<text transform="translate(8.00,516.40)" font-size="12.5" text-anchor="start" font-weight="bold" fill="#000" stroke="#000" stroke-width="0.18" >D</text>
<line x1="70.80" y1="563.00" x2="70.80" y2="568.00" stroke="#0a0a0a" stroke-width="1.3" stroke-linecap="butt"/>
<line x1="68.10" y1="563.00" x2="73.50" y2="563.00" stroke="#0a0a0a" stroke-width="1.3" stroke-linecap="butt"/>
<rect x="66.30" y="567.50" width="9.00" height="45.00" fill="#cf3a1d" />
<line x1="81.80" y1="568.20" x2="81.80" y2="572.00" stroke="#0a0a0a" stroke-width="1.3" stroke-linecap="butt"/>
<line x1="79.10" y1="568.20" x2="84.50" y2="568.20" stroke="#0a0a0a" stroke-width="1.3" stroke-linecap="butt"/>
<rect x="77.30" y="571.50" width="9.00" height="41.00" fill="#2b4a8b" />
<line x1="100.30" y1="572.70" x2="100.30" y2="575.50" stroke="#0a0a0a" stroke-width="1.3" stroke-linecap="butt"/>
<line x1="97.60" y1="572.70" x2="103.00" y2="572.70" stroke="#0a0a0a" stroke-width="1.3" stroke-linecap="butt"/>
<rect x="95.80" y="575.00" width="9.00" height="37.50" fill="#cf3a1d" />
<line x1="111.80" y1="572.00" x2="111.80" y2="576.80" stroke="#0a0a0a" stroke-width="1.3" stroke-linecap="butt"/>
<line x1="109.10" y1="572.00" x2="114.50" y2="572.00" stroke="#0a0a0a" stroke-width="1.3" stroke-linecap="butt"/>
<rect x="107.30" y="576.30" width="9.00" height="36.20" fill="#2b4a8b" />
<line x1="130.00" y1="558.20" x2="130.00" y2="563.00" stroke="#0a0a0a" stroke-width="1.3" stroke-linecap="butt"/>
<line x1="127.30" y1="558.20" x2="132.70" y2="558.20" stroke="#0a0a0a" stroke-width="1.3" stroke-linecap="butt"/>
<rect x="125.50" y="562.50" width="9.00" height="50.00" fill="#cf3a1d" />
<line x1="141.50" y1="566.20" x2="141.50" y2="573.00" stroke="#0a0a0a" stroke-width="1.3" stroke-linecap="butt"/>
<line x1="138.80" y1="566.20" x2="144.20" y2="566.20" stroke="#0a0a0a" stroke-width="1.3" stroke-linecap="butt"/>
<rect x="137.00" y="572.50" width="9.00" height="40.00" fill="#2b4a8b" />
<line x1="159.80" y1="561.00" x2="159.80" y2="563.80" stroke="#0a0a0a" stroke-width="1.3" stroke-linecap="butt"/>
<line x1="157.10" y1="561.00" x2="162.50" y2="561.00" stroke="#0a0a0a" stroke-width="1.3" stroke-linecap="butt"/>
<rect x="155.30" y="563.30" width="9.00" height="49.20" fill="#cf3a1d" />
<line x1="171.50" y1="558.20" x2="171.50" y2="563.30" stroke="#0a0a0a" stroke-width="1.3" stroke-linecap="butt"/>
<line x1="168.80" y1="558.20" x2="174.20" y2="558.20" stroke="#0a0a0a" stroke-width="1.3" stroke-linecap="butt"/>
<rect x="167.00" y="562.80" width="9.00" height="49.70" fill="#2b4a8b" />
<line x1="189.80" y1="547.50" x2="189.80" y2="557.00" stroke="#0a0a0a" stroke-width="1.3" stroke-linecap="butt"/>
<line x1="187.10" y1="547.50" x2="192.50" y2="547.50" stroke="#0a0a0a" stroke-width="1.3" stroke-linecap="butt"/>
<rect x="185.30" y="556.50" width="9.00" height="56.00" fill="#cf3a1d" />
<line x1="201.30" y1="560.70" x2="201.30" y2="568.80" stroke="#0a0a0a" stroke-width="1.3" stroke-linecap="butt"/>
<line x1="198.60" y1="560.70" x2="204.00" y2="560.70" stroke="#0a0a0a" stroke-width="1.3" stroke-linecap="butt"/>
<rect x="196.80" y="568.30" width="9.00" height="44.20" fill="#2b4a8b" />
<line x1="63.10" y1="513.00" x2="63.10" y2="613.20" stroke="#000" stroke-width="1.6" stroke-linecap="butt"/>
<line x1="62.30" y1="612.50" x2="210.20" y2="612.50" stroke="#000" stroke-width="1.6" stroke-linecap="butt"/>
<line x1="59.70" y1="515.50" x2="63.10" y2="515.50" stroke="#0a0a0a" stroke-width="1.3" stroke-linecap="butt"/>
<text transform="translate(57.30,518.70) scale(0.99,1)" font-size="8.3" text-anchor="end" font-weight="normal" fill="#0a0a0a" stroke="#0a0a0a" stroke-width="0.18" >1500</text>
<line x1="59.70" y1="547.83" x2="63.10" y2="547.83" stroke="#0a0a0a" stroke-width="1.3" stroke-linecap="butt"/>
<text transform="translate(57.30,551.03) scale(0.99,1)" font-size="8.3" text-anchor="end" font-weight="normal" fill="#0a0a0a" stroke="#0a0a0a" stroke-width="0.18" >1000</text>
<line x1="59.70" y1="580.16" x2="63.10" y2="580.16" stroke="#0a0a0a" stroke-width="1.3" stroke-linecap="butt"/>
<text transform="translate(57.30,583.36) scale(0.99,1)" font-size="8.3" text-anchor="end" font-weight="normal" fill="#0a0a0a" stroke="#0a0a0a" stroke-width="0.18" >500</text>
<line x1="59.70" y1="612.49" x2="63.10" y2="612.49" stroke="#0a0a0a" stroke-width="1.3" stroke-linecap="butt"/>
<text transform="translate(57.30,615.69) scale(0.99,1)" font-size="8.3" text-anchor="end" font-weight="normal" fill="#0a0a0a" stroke="#0a0a0a" stroke-width="0.18" >0</text>
<line x1="76.20" y1="612.50" x2="76.20" y2="615.90" stroke="#0a0a0a" stroke-width="1.3" stroke-linecap="butt"/>
<text transform="translate(77.90,626.80) scale(0.98,1)" font-size="8.7" text-anchor="middle" font-weight="normal" fill="#0a0a0a" stroke="#0a0a0a" stroke-width="0.18" >Control</text>
<line x1="106.00" y1="612.50" x2="106.00" y2="615.90" stroke="#0a0a0a" stroke-width="1.3" stroke-linecap="butt"/>
<text transform="translate(105.80,626.80) scale(0.98,1)" font-size="8.7" text-anchor="middle" font-weight="normal" fill="#0a0a0a" stroke="#0a0a0a" stroke-width="0.18" >PSI A1</text>
<line x1="135.80" y1="612.50" x2="135.80" y2="615.90" stroke="#0a0a0a" stroke-width="1.3" stroke-linecap="butt"/>
<text transform="translate(135.90,626.80) scale(0.98,1)" font-size="8.7" text-anchor="middle" font-weight="normal" fill="#0a0a0a" stroke="#0a0a0a" stroke-width="0.18" >PSI B1</text>
<line x1="165.60" y1="612.50" x2="165.60" y2="615.90" stroke="#0a0a0a" stroke-width="1.3" stroke-linecap="butt"/>
<text transform="translate(165.00,626.80) scale(0.98,1)" font-size="8.7" text-anchor="middle" font-weight="normal" fill="#0a0a0a" stroke="#0a0a0a" stroke-width="0.18" >PSI C1</text>
<line x1="195.40" y1="612.50" x2="195.40" y2="615.90" stroke="#0a0a0a" stroke-width="1.3" stroke-linecap="butt"/>
<text transform="translate(194.20,626.80) scale(0.98,1)" font-size="8.7" text-anchor="middle" font-weight="normal" fill="#0a0a0a" stroke="#0a0a0a" stroke-width="0.18" >PSI E1</text>
<text transform="translate(32.0,562.8) rotate(-90) scale(0.895,1)" font-size="10.4" text-anchor="middle" fill="#0a0a0a">Platelet count (x 10<tspan font-size="6.4" dy="-3.6">6</tspan><tspan dy="3.6">/mL)</tspan></text>
<rect x="76.30" y="520.00" width="8.00" height="7.20" fill="#cf3a1d" />
<rect x="76.30" y="532.10" width="8.00" height="7.20" fill="#2b4a8b" />
<text transform="translate(87.60,526.30) scale(0.955,1)" font-size="8.3" text-anchor="start" font-weight="normal" fill="#0a0a0a" stroke="#0a0a0a" stroke-width="0.18" >Before treatment</text>
<text transform="translate(87.60,538.70) scale(0.955,1)" font-size="8.3" text-anchor="start" font-weight="normal" fill="#0a0a0a" stroke="#0a0a0a" stroke-width="0.18" >After treatment</text>
<text transform="translate(226.60,516.40)" font-size="12.5" text-anchor="start" font-weight="bold" fill="#000" stroke="#000" stroke-width="0.18" >E</text>
<line x1="268.80" y1="513.00" x2="268.80" y2="613.20" stroke="#000" stroke-width="1.6" stroke-linecap="butt"/>
<line x1="268.00" y1="612.50" x2="415.20" y2="612.50" stroke="#000" stroke-width="1.6" stroke-linecap="butt"/>
<line x1="265.40" y1="515.50" x2="268.80" y2="515.50" stroke="#0a0a0a" stroke-width="1.3" stroke-linecap="butt"/>
<text transform="translate(263.20,518.80) scale(1.02,1)" font-size="8.9" text-anchor="end" font-weight="normal" fill="#0a0a0a" stroke="#0a0a0a" stroke-width="0.18" >40</text>
<line x1="265.40" y1="539.75" x2="268.80" y2="539.75" stroke="#0a0a0a" stroke-width="1.3" stroke-linecap="butt"/>
<text transform="translate(263.20,543.05) scale(1.02,1)" font-size="8.9" text-anchor="end" font-weight="normal" fill="#0a0a0a" stroke="#0a0a0a" stroke-width="0.18" >30</text>
<line x1="265.40" y1="564.00" x2="268.80" y2="564.00" stroke="#0a0a0a" stroke-width="1.3" stroke-linecap="butt"/>
<text transform="translate(263.20,567.30) scale(1.02,1)" font-size="8.9" text-anchor="end" font-weight="normal" fill="#0a0a0a" stroke="#0a0a0a" stroke-width="0.18" >20</text>
<line x1="265.40" y1="588.25" x2="268.80" y2="588.25" stroke="#0a0a0a" stroke-width="1.3" stroke-linecap="butt"/>
<text transform="translate(263.20,591.55) scale(1.02,1)" font-size="8.9" text-anchor="end" font-weight="normal" fill="#0a0a0a" stroke="#0a0a0a" stroke-width="0.18" >10</text>
<line x1="265.40" y1="612.50" x2="268.80" y2="612.50" stroke="#0a0a0a" stroke-width="1.3" stroke-linecap="butt"/>
<text transform="translate(263.20,615.80) scale(1.02,1)" font-size="8.9" text-anchor="end" font-weight="normal" fill="#0a0a0a" stroke="#0a0a0a" stroke-width="0.18" >0</text>
<line x1="283.00" y1="612.50" x2="283.00" y2="615.90" stroke="#0a0a0a" stroke-width="1.3" stroke-linecap="butt"/>
<text transform="translate(283.00,626.80) scale(0.98,1)" font-size="8.7" text-anchor="middle" font-weight="normal" fill="#0a0a0a" stroke="#0a0a0a" stroke-width="0.18" >Control</text>
<circle cx="286.30" cy="588.80" r="2.0" fill="#e2a03c"/>
<circle cx="280.50" cy="593.50" r="2.0" fill="#e2a03c"/>
<circle cx="283.00" cy="597.00" r="2.0" fill="#e2a03c"/>
<circle cx="287.50" cy="600.50" r="2.0" fill="#e2a03c"/>
<circle cx="278.00" cy="604.50" r="2.0" fill="#e2a03c"/>
<circle cx="283.80" cy="604.50" r="2.0" fill="#e2a03c"/>
<circle cx="288.80" cy="604.50" r="2.0" fill="#e2a03c"/>
<circle cx="283.00" cy="608.30" r="2.0" fill="#e2a03c"/>
<line x1="273.80" y1="600.50" x2="293.30" y2="600.50" stroke="#000" stroke-width="1.6" stroke-linecap="butt"/>
<line x1="279.50" y1="598.00" x2="287.50" y2="598.00" stroke="#0a0a0a" stroke-width="1.3" stroke-linecap="butt"/>
<line x1="283.00" y1="598.00" x2="283.00" y2="600.50" stroke="#0a0a0a" stroke-width="1.3" stroke-linecap="butt"/>
<line x1="312.50" y1="612.50" x2="312.50" y2="615.90" stroke="#0a0a0a" stroke-width="1.3" stroke-linecap="butt"/>
<text transform="translate(311.80,626.80) scale(0.98,1)" font-size="8.7" text-anchor="middle" font-weight="normal" fill="#0a0a0a" stroke="#0a0a0a" stroke-width="0.18" >PSI A1</text>
<circle cx="312.50" cy="564.30" r="2.0" fill="#b8352a"/>
<circle cx="309.50" cy="598.00" r="2.0" fill="#b8352a"/>
<circle cx="315.50" cy="598.00" r="2.0" fill="#b8352a"/>
<circle cx="306.80" cy="603.30" r="2.0" fill="#b8352a"/>
<circle cx="318.30" cy="603.30" r="2.0" fill="#b8352a"/>
<circle cx="312.50" cy="605.50" r="2.0" fill="#b8352a"/>
<line x1="303.30" y1="595.80" x2="323.00" y2="595.80" stroke="#000" stroke-width="1.6" stroke-linecap="butt"/>
<line x1="308.30" y1="591.50" x2="317.00" y2="591.50" stroke="#0a0a0a" stroke-width="1.3" stroke-linecap="butt"/>
<line x1="312.50" y1="591.50" x2="312.50" y2="595.80" stroke="#0a0a0a" stroke-width="1.3" stroke-linecap="butt"/>
<line x1="341.80" y1="612.50" x2="341.80" y2="615.90" stroke="#0a0a0a" stroke-width="1.3" stroke-linecap="butt"/>
<text transform="translate(341.20,626.80) scale(0.98,1)" font-size="8.7" text-anchor="middle" font-weight="normal" fill="#0a0a0a" stroke="#0a0a0a" stroke-width="0.18" >PSI B1</text>
<circle cx="341.80" cy="540.00" r="2.0" fill="#72a85e"/>
<circle cx="347.50" cy="585.30" r="2.0" fill="#72a85e"/>
<circle cx="341.80" cy="590.00" r="2.0" fill="#72a85e"/>
<circle cx="336.00" cy="600.50" r="2.0" fill="#72a85e"/>
<circle cx="341.80" cy="600.50" r="2.0" fill="#72a85e"/>
<circle cx="344.50" cy="601.30" r="2.0" fill="#72a85e"/>
<circle cx="338.80" cy="605.80" r="2.0" fill="#72a85e"/>
<line x1="332.00" y1="588.80" x2="351.80" y2="588.80" stroke="#000" stroke-width="1.6" stroke-linecap="butt"/>
<line x1="337.00" y1="580.80" x2="346.30" y2="580.80" stroke="#0a0a0a" stroke-width="1.3" stroke-linecap="butt"/>
<line x1="341.80" y1="580.80" x2="341.80" y2="588.80" stroke="#0a0a0a" stroke-width="1.3" stroke-linecap="butt"/>
<line x1="370.80" y1="612.50" x2="370.80" y2="615.90" stroke="#0a0a0a" stroke-width="1.3" stroke-linecap="butt"/>
<text transform="translate(370.40,626.80) scale(0.98,1)" font-size="8.7" text-anchor="middle" font-weight="normal" fill="#0a0a0a" stroke="#0a0a0a" stroke-width="0.18" >PSI C1</text>
<circle cx="370.80" cy="564.30" r="2.0" fill="#2b2a7c"/>
<circle cx="365.00" cy="585.30" r="2.0" fill="#2b2a7c"/>
<circle cx="376.30" cy="588.30" r="2.0" fill="#2b2a7c"/>
<circle cx="370.80" cy="590.00" r="2.0" fill="#2b2a7c"/>
<circle cx="370.80" cy="597.00" r="2.0" fill="#2b2a7c"/>
<circle cx="365.00" cy="602.00" r="2.0" fill="#2b2a7c"/>
<circle cx="376.80" cy="603.00" r="2.0" fill="#2b2a7c"/>
<circle cx="370.80" cy="605.30" r="2.0" fill="#2b2a7c"/>
<line x1="361.00" y1="591.80" x2="380.80" y2="591.80" stroke="#000" stroke-width="1.6" stroke-linecap="butt"/>
<line x1="367.50" y1="586.80" x2="375.00" y2="586.80" stroke="#0a0a0a" stroke-width="1.3" stroke-linecap="butt"/>
<line x1="370.80" y1="586.80" x2="370.80" y2="591.80" stroke="#0a0a0a" stroke-width="1.3" stroke-linecap="butt"/>
<line x1="400.00" y1="612.50" x2="400.00" y2="615.90" stroke="#0a0a0a" stroke-width="1.3" stroke-linecap="butt"/>
<text transform="translate(399.60,626.80) scale(0.98,1)" font-size="8.7" text-anchor="middle" font-weight="normal" fill="#0a0a0a" stroke="#0a0a0a" stroke-width="0.18" >PSI E1</text>
<circle cx="400.00" cy="564.30" r="2.0" fill="#9a4a8e"/>
<circle cx="400.00" cy="595.00" r="2.0" fill="#9a4a8e"/>
<circle cx="396.80" cy="596.80" r="2.0" fill="#9a4a8e"/>
<circle cx="405.50" cy="596.80" r="2.0" fill="#9a4a8e"/>
<circle cx="394.30" cy="598.50" r="2.0" fill="#9a4a8e"/>
<circle cx="403.00" cy="597.50" r="2.0" fill="#9a4a8e"/>
<circle cx="400.00" cy="601.30" r="2.0" fill="#9a4a8e"/>
<circle cx="400.00" cy="607.30" r="2.0" fill="#9a4a8e"/>
<line x1="390.00" y1="593.00" x2="409.80" y2="593.00" stroke="#000" stroke-width="1.6" stroke-linecap="butt"/>
<line x1="395.50" y1="589.30" x2="405.00" y2="589.30" stroke="#0a0a0a" stroke-width="1.3" stroke-linecap="butt"/>
<line x1="400.00" y1="589.30" x2="400.00" y2="593.00" stroke="#0a0a0a" stroke-width="1.3" stroke-linecap="butt"/>
<text transform="translate(246.20,562.20) rotate(-90) scale(0.9,1)" font-size="10.4" text-anchor="middle" font-weight="normal" fill="#0a0a0a" stroke="#0a0a0a" stroke-width="0.18" >Bleeding time (min)</text>
<line x1="280.50" y1="525.00" x2="399.60" y2="525.00" stroke="#0a0a0a" stroke-width="1.4" stroke-linecap="butt"/>
<line x1="280.50" y1="522.00" x2="280.50" y2="528.00" stroke="#0a0a0a" stroke-width="1.3" stroke-linecap="butt"/>
<line x1="399.60" y1="522.00" x2="399.60" y2="528.00" stroke="#0a0a0a" stroke-width="1.3" stroke-linecap="butt"/>
<text transform="translate(340.00,520.40) scale(0.95,1)" font-size="7.6" text-anchor="middle" font-weight="normal" fill="#0a0a0a" stroke="#0a0a0a" stroke-width="0.18" >ns</text>
<rect x="0.7" y="0.7" width="518.6" height="634.6" fill="none" stroke="#000" stroke-width="1.4"/>
</svg>
</div>
</body></html>
